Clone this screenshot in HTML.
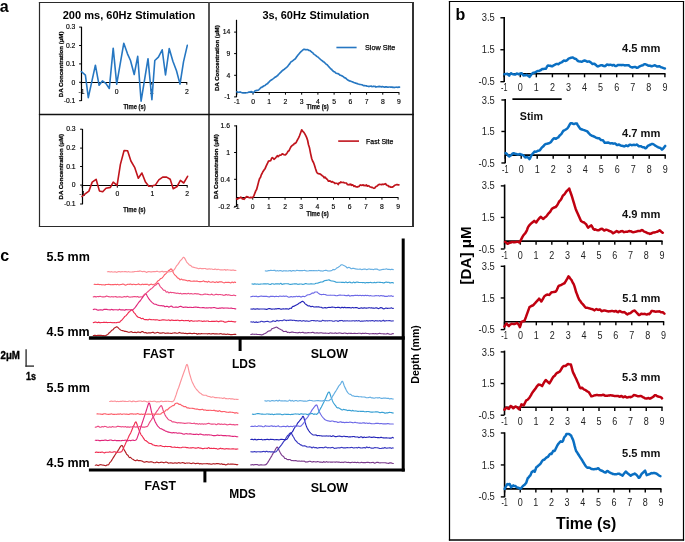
<!DOCTYPE html>
<html><head><meta charset="utf-8"><style>
html,body{margin:0;padding:0;background:#fff;width:685px;height:542px;overflow:hidden}
svg{display:block;will-change:transform}
</style></head><body>
<svg width="685" height="542" viewBox="0 0 685 542" font-family="Liberation Sans, sans-serif">
<rect width="685" height="542" fill="#fff"/>
<text x="-0.2" y="11.8" font-size="16" font-family="Liberation Sans" fill="#000" font-weight="bold">a</text>
<text x="455.6" y="19.7" font-size="16" font-family="Liberation Sans" fill="#000" font-weight="bold">b</text>
<text x="0.3" y="261" font-size="16" font-family="Liberation Sans" fill="#000" font-weight="bold">c</text>
<line x1="38.9" y1="2.5" x2="413.9" y2="2.5" stroke="#2a2a2a" stroke-width="1.2" stroke-linecap="butt"/>
<line x1="39.5" y1="2" x2="39.5" y2="227" stroke="#2a2a2a" stroke-width="1.2" stroke-linecap="butt"/>
<line x1="413" y1="2" x2="413" y2="227" stroke="#333" stroke-width="2" stroke-linecap="butt"/>
<line x1="38.9" y1="226.5" x2="413.9" y2="226.5" stroke="#2a2a2a" stroke-width="1.2" stroke-linecap="butt"/>
<line x1="209" y1="2" x2="209" y2="227" stroke="#444" stroke-width="1.8" stroke-linecap="butt"/>
<line x1="38.9" y1="114.5" x2="413.9" y2="114.5" stroke="#111" stroke-width="1.3" stroke-linecap="butt"/>
<line x1="81.5" y1="26.8" x2="81.5" y2="101" stroke="#000" stroke-width="1.2" stroke-linecap="butt"/>
<line x1="79.1" y1="27.1" x2="81.5" y2="27.1" stroke="#000" stroke-width="1.0" stroke-linecap="butt"/>
<text x="75.4" y="29.3" font-size="6.8" font-family="Liberation Sans" fill="#000" text-anchor="end" stroke="#000" stroke-width="0.15">0.3</text>
<line x1="79.1" y1="45.5" x2="81.5" y2="45.5" stroke="#000" stroke-width="1.0" stroke-linecap="butt"/>
<text x="75.4" y="47.7" font-size="6.8" font-family="Liberation Sans" fill="#000" text-anchor="end" stroke="#000" stroke-width="0.15">0.2</text>
<line x1="79.1" y1="63.9" x2="81.5" y2="63.9" stroke="#000" stroke-width="1.0" stroke-linecap="butt"/>
<text x="75.4" y="66.1" font-size="6.8" font-family="Liberation Sans" fill="#000" text-anchor="end" stroke="#000" stroke-width="0.15">0.1</text>
<line x1="79.1" y1="82.3" x2="81.5" y2="82.3" stroke="#000" stroke-width="1.0" stroke-linecap="butt"/>
<text x="75.4" y="84.5" font-size="6.8" font-family="Liberation Sans" fill="#000" text-anchor="end" stroke="#000" stroke-width="0.15">0</text>
<line x1="79.1" y1="100.7" x2="81.5" y2="100.7" stroke="#000" stroke-width="1.0" stroke-linecap="butt"/>
<text x="75.4" y="102.9" font-size="6.8" font-family="Liberation Sans" fill="#000" text-anchor="end" stroke="#000" stroke-width="0.15">-0.1</text>
<line x1="81.5" y1="82.5" x2="187.2" y2="82.5" stroke="#000" stroke-width="1.2" stroke-linecap="butt"/>
<line x1="81.4" y1="82.5" x2="81.4" y2="84.7" stroke="#000" stroke-width="1.0" stroke-linecap="butt"/>
<text x="81.4" y="93.9" font-size="6.8" font-family="Liberation Sans" fill="#000" text-anchor="middle" stroke="#000" stroke-width="0.15">-1</text>
<line x1="116.6" y1="82.5" x2="116.6" y2="84.7" stroke="#000" stroke-width="1.0" stroke-linecap="butt"/>
<text x="116.6" y="93.9" font-size="6.8" font-family="Liberation Sans" fill="#000" text-anchor="middle" stroke="#000" stroke-width="0.15">0</text>
<line x1="151.7" y1="82.5" x2="151.7" y2="84.7" stroke="#000" stroke-width="1.0" stroke-linecap="butt"/>
<text x="151.7" y="93.9" font-size="6.8" font-family="Liberation Sans" fill="#000" text-anchor="middle" stroke="#000" stroke-width="0.15">1</text>
<line x1="186.8" y1="82.5" x2="186.8" y2="84.7" stroke="#000" stroke-width="1.0" stroke-linecap="butt"/>
<text x="186.8" y="93.9" font-size="6.8" font-family="Liberation Sans" fill="#000" text-anchor="middle" stroke="#000" stroke-width="0.15">2</text>
<text x="134.5" y="108.9" font-size="6.6" font-family="Liberation Sans" fill="#111" font-weight="bold" text-anchor="middle" textLength="22.2" lengthAdjust="spacingAndGlyphs" stroke="#111" stroke-width="0.25">Time (s)</text>
<text x="62.7" y="18.6" font-size="10.5" font-family="Liberation Sans" fill="#000" font-weight="bold" textLength="132.6" lengthAdjust="spacingAndGlyphs">200 ms, 60Hz Stimulation</text>
<text x="61.2" y="66.5" font-size="6.0" font-family="Liberation Sans" fill="#000" font-weight="bold" text-anchor="middle" textLength="65.6" lengthAdjust="spacingAndGlyphs" transform="rotate(-90 61.2 64.4)" stroke="#000" stroke-width="0.25">DA Concentration (μM)</text>
<polyline points="81.3,71.5 85.4,75.2 88.3,97.7 95.4,65.2 99.1,85.3 102.4,80.9 105.8,83.4 109.3,88.5 113.2,48.2 116.7,84.1 123.8,43.2 127.5,53.8 130.5,60.5 134.2,74.5 137.7,56.3 141.1,101.1 148,58.7 151.9,99.6 154.8,60.5 158.4,57.2 162.2,49.8 165.5,75 169.2,48.6 172.9,61.2 176.5,70.8 180,84.1 183.5,61.9 187.3,45.4" fill="none" stroke="#2677c2" stroke-width="1.6" stroke-linejoin="round" stroke-linecap="round"/>
<line x1="236.5" y1="19.8" x2="236.5" y2="97.2" stroke="#000" stroke-width="1.2" stroke-linecap="butt"/>
<line x1="234.1" y1="32.1" x2="236.5" y2="32.1" stroke="#000" stroke-width="1.0" stroke-linecap="butt"/>
<text x="230.2" y="34.3" font-size="6.8" font-family="Liberation Sans" fill="#000" text-anchor="end" stroke="#000" stroke-width="0.15">14</text>
<line x1="234.1" y1="53.6" x2="236.5" y2="53.6" stroke="#000" stroke-width="1.0" stroke-linecap="butt"/>
<text x="230.2" y="55.8" font-size="6.8" font-family="Liberation Sans" fill="#000" text-anchor="end" stroke="#000" stroke-width="0.15">9</text>
<line x1="234.1" y1="75.3" x2="236.5" y2="75.3" stroke="#000" stroke-width="1.0" stroke-linecap="butt"/>
<text x="230.2" y="77.5" font-size="6.8" font-family="Liberation Sans" fill="#000" text-anchor="end" stroke="#000" stroke-width="0.15">4</text>
<line x1="234.1" y1="96.9" x2="236.5" y2="96.9" stroke="#000" stroke-width="1.0" stroke-linecap="butt"/>
<text x="230.2" y="99.1" font-size="6.8" font-family="Liberation Sans" fill="#000" text-anchor="end" stroke="#000" stroke-width="0.15">-1</text>
<line x1="236.5" y1="92.5" x2="399.3" y2="92.5" stroke="#000" stroke-width="1.2" stroke-linecap="butt"/>
<line x1="236.8" y1="92.5" x2="236.8" y2="94.7" stroke="#000" stroke-width="1.0" stroke-linecap="butt"/>
<text x="236.8" y="103.5" font-size="6.8" font-family="Liberation Sans" fill="#000" text-anchor="middle" stroke="#000" stroke-width="0.15">-1</text>
<line x1="253.02" y1="92.5" x2="253.02" y2="94.7" stroke="#000" stroke-width="1.0" stroke-linecap="butt"/>
<text x="253.02" y="103.5" font-size="6.8" font-family="Liberation Sans" fill="#000" text-anchor="middle" stroke="#000" stroke-width="0.15">0</text>
<line x1="269.24" y1="92.5" x2="269.24" y2="94.7" stroke="#000" stroke-width="1.0" stroke-linecap="butt"/>
<text x="269.24" y="103.5" font-size="6.8" font-family="Liberation Sans" fill="#000" text-anchor="middle" stroke="#000" stroke-width="0.15">1</text>
<line x1="285.46" y1="92.5" x2="285.46" y2="94.7" stroke="#000" stroke-width="1.0" stroke-linecap="butt"/>
<text x="285.46" y="103.5" font-size="6.8" font-family="Liberation Sans" fill="#000" text-anchor="middle" stroke="#000" stroke-width="0.15">2</text>
<line x1="301.68" y1="92.5" x2="301.68" y2="94.7" stroke="#000" stroke-width="1.0" stroke-linecap="butt"/>
<text x="301.68" y="103.5" font-size="6.8" font-family="Liberation Sans" fill="#000" text-anchor="middle" stroke="#000" stroke-width="0.15">3</text>
<line x1="317.9" y1="92.5" x2="317.9" y2="94.7" stroke="#000" stroke-width="1.0" stroke-linecap="butt"/>
<text x="317.9" y="103.5" font-size="6.8" font-family="Liberation Sans" fill="#000" text-anchor="middle" stroke="#000" stroke-width="0.15">4</text>
<line x1="334.12" y1="92.5" x2="334.12" y2="94.7" stroke="#000" stroke-width="1.0" stroke-linecap="butt"/>
<text x="334.12" y="103.5" font-size="6.8" font-family="Liberation Sans" fill="#000" text-anchor="middle" stroke="#000" stroke-width="0.15">5</text>
<line x1="350.34" y1="92.5" x2="350.34" y2="94.7" stroke="#000" stroke-width="1.0" stroke-linecap="butt"/>
<text x="350.34" y="103.5" font-size="6.8" font-family="Liberation Sans" fill="#000" text-anchor="middle" stroke="#000" stroke-width="0.15">6</text>
<line x1="366.56" y1="92.5" x2="366.56" y2="94.7" stroke="#000" stroke-width="1.0" stroke-linecap="butt"/>
<text x="366.56" y="103.5" font-size="6.8" font-family="Liberation Sans" fill="#000" text-anchor="middle" stroke="#000" stroke-width="0.15">7</text>
<line x1="382.78" y1="92.5" x2="382.78" y2="94.7" stroke="#000" stroke-width="1.0" stroke-linecap="butt"/>
<text x="382.78" y="103.5" font-size="6.8" font-family="Liberation Sans" fill="#000" text-anchor="middle" stroke="#000" stroke-width="0.15">8</text>
<line x1="399" y1="92.5" x2="399" y2="94.7" stroke="#000" stroke-width="1.0" stroke-linecap="butt"/>
<text x="399" y="103.5" font-size="6.8" font-family="Liberation Sans" fill="#000" text-anchor="middle" stroke="#000" stroke-width="0.15">9</text>
<text x="317.7" y="109.2" font-size="6.6" font-family="Liberation Sans" fill="#111" font-weight="bold" text-anchor="middle" textLength="22.2" lengthAdjust="spacingAndGlyphs" stroke="#111" stroke-width="0.25">Time (s)</text>
<text x="262.4" y="19" font-size="10.5" font-family="Liberation Sans" fill="#000" font-weight="bold" textLength="106.8" lengthAdjust="spacingAndGlyphs">3s, 60Hz Stimulation</text>
<text x="216.9" y="60.3" font-size="6.0" font-family="Liberation Sans" fill="#000" font-weight="bold" text-anchor="middle" textLength="65.7" lengthAdjust="spacingAndGlyphs" transform="rotate(-90 216.9 58.2)" stroke="#000" stroke-width="0.25">DA Concentration (μM)</text>
<line x1="336.4" y1="47.5" x2="356.6" y2="47.5" stroke="#2677c2" stroke-width="1.6" stroke-linecap="butt"/>
<text x="365" y="50.3" font-size="7.9" font-family="Liberation Sans" fill="#000" textLength="30.2" lengthAdjust="spacingAndGlyphs" stroke="#000" stroke-width="0.25">Slow Site</text>
<polyline points="236.8,91.82 237.73,92.13 238.65,92.3 239.57,92.15 240.5,92.1 241.32,92.45 242.14,92.69 242.96,92.94 243.78,92.76 244.6,92.91 245.4,93.02 246.2,92.8 247,92.77 247.8,92.5 248.6,92.15 249.4,91.93 250.2,92.17 251,91.56 251.8,91.88 252.6,92.23 253.4,92.81 254.25,91.82 255.1,90.75 256.07,90.59 257.03,90.44 258,90.3 259,89.53 260,88.56 261,87.43 261.8,87.37 262.6,86.61 263.4,86.35 264.2,85.72 265,85.5 265.84,84.64 266.69,84.05 267.53,83.77 268.37,82.52 269.21,81.91 270.06,80.84 270.9,80.26 271.73,79.81 272.56,79.11 273.39,78.6 274.21,77.97 275.04,77.22 275.87,76.87 276.7,76.08 277.54,75.65 278.39,74.47 279.23,73.82 280.07,72.89 280.91,72.2 281.76,71.14 282.6,70.55 283.52,69.68 284.44,69.19 285.36,68.39 286.28,67.62 287.2,66.78 288.07,65.84 288.95,64.62 289.82,63.62 290.7,62.14 291.64,61.58 292.58,60.88 293.52,60.14 294.46,59.43 295.4,58.73 296.34,57.33 297.28,55.99 298.22,54.8 299.16,53.67 300.1,52.53 300.98,51.7 301.85,50.96 302.73,50.17 303.6,49.4 304.48,49.4 305.35,49.57 306.23,49.79 307.1,49.55 308.07,49.8 309.03,50.49 310,50.54 310.9,51.42 311.8,52.17 312.7,52.64 313.6,53.95 314.5,54.62 315.4,55.16 316.3,56.01 317.17,56.62 318.04,57.17 318.91,57.98 319.78,58.76 320.65,59.57 321.52,60.21 322.39,60.81 323.26,61.7 324.13,62.09 325,63.02 325.8,63.87 326.6,64.46 327.4,65.03 328.2,65.96 329,66.94 329.8,67.78 330.6,68.73 331.4,69.15 332.2,70.1 333,71 333.8,71.68 334.6,71.74 335.4,72.62 336.2,73.25 337,73.45 337.8,73.56 338.6,74.04 339.4,74.53 340.2,75.27 341,75.39 341.8,75.72 342.6,76.33 343.48,76.7 344.35,77.6 345.23,77.83 346.1,78.48 346.98,79.27 347.85,79.99 348.73,80.49 349.6,81.05 350.47,81.03 351.34,81.49 352.21,81.81 353.08,82.12 353.95,82.59 354.82,82.75 355.69,83.22 356.56,83.41 357.43,83.65 358.3,84.02 359.1,84.26 359.9,84.53 360.7,84.53 361.5,84.77 362.3,84.8 363.1,85.44 363.9,85.62 364.7,85.57 365.5,85.73 366.3,85.81 367.1,86.23 367.91,86.26 368.72,86.59 369.52,86.33 370.33,86.21 371.14,85.99 371.95,86.6 372.75,86.44 373.56,86.2 374.37,86.5 375.18,86.27 375.98,87.06 376.79,86.74 377.6,86.69 378.41,86.61 379.22,86.36 380.02,86.7 380.83,86.52 381.64,86.88 382.45,86.51 383.25,86.73 384.06,87.09 384.87,87.19 385.68,86.81 386.48,86.79 387.29,87.19 388.1,87.23 388.91,86.97 389.73,87.04 390.54,87.06 391.36,87.01 392.17,87.11 392.99,87.42 393.8,87.35 394.61,87.58 395.43,87.28 396.24,87.29 397.06,87.19 397.87,87.34 398.69,87.18 399.5,87.13" fill="none" stroke="#2677c2" stroke-width="1.65" stroke-linejoin="round" stroke-linecap="round"/>
<line x1="82.5" y1="129" x2="82.5" y2="204.3" stroke="#000" stroke-width="1.2" stroke-linecap="butt"/>
<line x1="80.1" y1="129.2" x2="82.5" y2="129.2" stroke="#000" stroke-width="1.0" stroke-linecap="butt"/>
<text x="75.6" y="131.4" font-size="6.8" font-family="Liberation Sans" fill="#000" text-anchor="end" stroke="#000" stroke-width="0.15">0.3</text>
<line x1="80.1" y1="148.1" x2="82.5" y2="148.1" stroke="#000" stroke-width="1.0" stroke-linecap="butt"/>
<text x="75.6" y="150.3" font-size="6.8" font-family="Liberation Sans" fill="#000" text-anchor="end" stroke="#000" stroke-width="0.15">0.2</text>
<line x1="80.1" y1="166.5" x2="82.5" y2="166.5" stroke="#000" stroke-width="1.0" stroke-linecap="butt"/>
<text x="75.6" y="168.7" font-size="6.8" font-family="Liberation Sans" fill="#000" text-anchor="end" stroke="#000" stroke-width="0.15">0.1</text>
<line x1="80.1" y1="185.1" x2="82.5" y2="185.1" stroke="#000" stroke-width="1.0" stroke-linecap="butt"/>
<text x="75.6" y="187.3" font-size="6.8" font-family="Liberation Sans" fill="#000" text-anchor="end" stroke="#000" stroke-width="0.15">0</text>
<line x1="80.1" y1="204" x2="82.5" y2="204" stroke="#000" stroke-width="1.0" stroke-linecap="butt"/>
<text x="75.6" y="206.2" font-size="6.8" font-family="Liberation Sans" fill="#000" text-anchor="end" stroke="#000" stroke-width="0.15">-0.1</text>
<line x1="82.5" y1="185.5" x2="187.6" y2="185.5" stroke="#000" stroke-width="1.2" stroke-linecap="butt"/>
<line x1="82.2" y1="185.5" x2="82.2" y2="187.7" stroke="#000" stroke-width="1.0" stroke-linecap="butt"/>
<text x="82.2" y="196.4" font-size="6.8" font-family="Liberation Sans" fill="#000" text-anchor="middle" stroke="#000" stroke-width="0.15">-1</text>
<line x1="117.3" y1="185.5" x2="117.3" y2="187.7" stroke="#000" stroke-width="1.0" stroke-linecap="butt"/>
<text x="117.3" y="196.4" font-size="6.8" font-family="Liberation Sans" fill="#000" text-anchor="middle" stroke="#000" stroke-width="0.15">0</text>
<line x1="152.3" y1="185.5" x2="152.3" y2="187.7" stroke="#000" stroke-width="1.0" stroke-linecap="butt"/>
<text x="152.3" y="196.4" font-size="6.8" font-family="Liberation Sans" fill="#000" text-anchor="middle" stroke="#000" stroke-width="0.15">1</text>
<line x1="187.2" y1="185.5" x2="187.2" y2="187.7" stroke="#000" stroke-width="1.0" stroke-linecap="butt"/>
<text x="187.2" y="196.4" font-size="6.8" font-family="Liberation Sans" fill="#000" text-anchor="middle" stroke="#000" stroke-width="0.15">2</text>
<text x="134.4" y="212.2" font-size="6.6" font-family="Liberation Sans" fill="#111" font-weight="bold" text-anchor="middle" textLength="22.2" lengthAdjust="spacingAndGlyphs" stroke="#111" stroke-width="0.25">Time (s)</text>
<text x="60.8" y="168.8" font-size="6.0" font-family="Liberation Sans" fill="#000" font-weight="bold" text-anchor="middle" textLength="65.5" lengthAdjust="spacingAndGlyphs" transform="rotate(-90 60.8 166.7)" stroke="#000" stroke-width="0.25">DA Concentration (μM)</text>
<polyline points="82,196.5 85.5,193.7 88.9,191.1 92.2,182.1 96.1,179.3 99.4,190.9 102.7,191.8 106,188.2 110.4,187.4 113.2,182.1 117.1,185.4 120.4,164.4 124.1,150.5 127.6,150.7 130.9,161 134.8,167.7 138.3,178.2 141.9,173 145.5,182.1 148.8,186.3 151.6,186 155.5,184.9 158.8,179.9 162.7,177.1 166.6,177.1 170.2,179.3 173.2,188.7 177.1,186.5 180.4,180.4 183.7,183 187.6,176.3" fill="none" stroke="#c0141c" stroke-width="1.6" stroke-linejoin="round" stroke-linecap="round"/>
<line x1="236.5" y1="125.3" x2="236.5" y2="206.8" stroke="#000" stroke-width="1.2" stroke-linecap="butt"/>
<line x1="234.1" y1="125.9" x2="236.5" y2="125.9" stroke="#000" stroke-width="1.0" stroke-linecap="butt"/>
<text x="230" y="128.1" font-size="6.8" font-family="Liberation Sans" fill="#000" text-anchor="end" stroke="#000" stroke-width="0.15">1.6</text>
<line x1="234.1" y1="152.5" x2="236.5" y2="152.5" stroke="#000" stroke-width="1.0" stroke-linecap="butt"/>
<text x="230" y="154.7" font-size="6.8" font-family="Liberation Sans" fill="#000" text-anchor="end" stroke="#000" stroke-width="0.15">1</text>
<line x1="234.1" y1="179.3" x2="236.5" y2="179.3" stroke="#000" stroke-width="1.0" stroke-linecap="butt"/>
<text x="230" y="181.5" font-size="6.8" font-family="Liberation Sans" fill="#000" text-anchor="end" stroke="#000" stroke-width="0.15">0.4</text>
<line x1="234.1" y1="206.4" x2="236.5" y2="206.4" stroke="#000" stroke-width="1.0" stroke-linecap="butt"/>
<text x="230" y="208.6" font-size="6.8" font-family="Liberation Sans" fill="#000" text-anchor="end" stroke="#000" stroke-width="0.15">-0.2</text>
<line x1="236.5" y1="197.5" x2="398.4" y2="197.5" stroke="#000" stroke-width="1.2" stroke-linecap="butt"/>
<line x1="236.6" y1="197.5" x2="236.6" y2="199.7" stroke="#000" stroke-width="1.0" stroke-linecap="butt"/>
<text x="236.6" y="208.6" font-size="6.8" font-family="Liberation Sans" fill="#000" text-anchor="middle" stroke="#000" stroke-width="0.15">-1</text>
<line x1="252.75" y1="197.5" x2="252.75" y2="199.7" stroke="#000" stroke-width="1.0" stroke-linecap="butt"/>
<text x="252.75" y="208.6" font-size="6.8" font-family="Liberation Sans" fill="#000" text-anchor="middle" stroke="#000" stroke-width="0.15">0</text>
<line x1="268.9" y1="197.5" x2="268.9" y2="199.7" stroke="#000" stroke-width="1.0" stroke-linecap="butt"/>
<text x="268.9" y="208.6" font-size="6.8" font-family="Liberation Sans" fill="#000" text-anchor="middle" stroke="#000" stroke-width="0.15">1</text>
<line x1="285.05" y1="197.5" x2="285.05" y2="199.7" stroke="#000" stroke-width="1.0" stroke-linecap="butt"/>
<text x="285.05" y="208.6" font-size="6.8" font-family="Liberation Sans" fill="#000" text-anchor="middle" stroke="#000" stroke-width="0.15">2</text>
<line x1="301.2" y1="197.5" x2="301.2" y2="199.7" stroke="#000" stroke-width="1.0" stroke-linecap="butt"/>
<text x="301.2" y="208.6" font-size="6.8" font-family="Liberation Sans" fill="#000" text-anchor="middle" stroke="#000" stroke-width="0.15">3</text>
<line x1="317.35" y1="197.5" x2="317.35" y2="199.7" stroke="#000" stroke-width="1.0" stroke-linecap="butt"/>
<text x="317.35" y="208.6" font-size="6.8" font-family="Liberation Sans" fill="#000" text-anchor="middle" stroke="#000" stroke-width="0.15">4</text>
<line x1="333.5" y1="197.5" x2="333.5" y2="199.7" stroke="#000" stroke-width="1.0" stroke-linecap="butt"/>
<text x="333.5" y="208.6" font-size="6.8" font-family="Liberation Sans" fill="#000" text-anchor="middle" stroke="#000" stroke-width="0.15">5</text>
<line x1="349.65" y1="197.5" x2="349.65" y2="199.7" stroke="#000" stroke-width="1.0" stroke-linecap="butt"/>
<text x="349.65" y="208.6" font-size="6.8" font-family="Liberation Sans" fill="#000" text-anchor="middle" stroke="#000" stroke-width="0.15">6</text>
<line x1="365.8" y1="197.5" x2="365.8" y2="199.7" stroke="#000" stroke-width="1.0" stroke-linecap="butt"/>
<text x="365.8" y="208.6" font-size="6.8" font-family="Liberation Sans" fill="#000" text-anchor="middle" stroke="#000" stroke-width="0.15">7</text>
<line x1="381.95" y1="197.5" x2="381.95" y2="199.7" stroke="#000" stroke-width="1.0" stroke-linecap="butt"/>
<text x="381.95" y="208.6" font-size="6.8" font-family="Liberation Sans" fill="#000" text-anchor="middle" stroke="#000" stroke-width="0.15">8</text>
<line x1="398.1" y1="197.5" x2="398.1" y2="199.7" stroke="#000" stroke-width="1.0" stroke-linecap="butt"/>
<text x="398.1" y="208.6" font-size="6.8" font-family="Liberation Sans" fill="#000" text-anchor="middle" stroke="#000" stroke-width="0.15">9</text>
<text x="317.6" y="216.1" font-size="6.6" font-family="Liberation Sans" fill="#111" font-weight="bold" text-anchor="middle" textLength="22.2" lengthAdjust="spacingAndGlyphs" stroke="#111" stroke-width="0.25">Time (s)</text>
<text x="215.9" y="168.7" font-size="6.0" font-family="Liberation Sans" fill="#000" font-weight="bold" text-anchor="middle" textLength="64.8" lengthAdjust="spacingAndGlyphs" transform="rotate(-90 215.9 166.6)" stroke="#000" stroke-width="0.25">DA Concentration (μM)</text>
<line x1="338.2" y1="141.1" x2="359" y2="141.1" stroke="#c0141c" stroke-width="1.6" stroke-linecap="butt"/>
<text x="366.1" y="143.5" font-size="7.9" font-family="Liberation Sans" fill="#000" textLength="27.3" lengthAdjust="spacingAndGlyphs" stroke="#000" stroke-width="0.25">Fast Site</text>
<polyline points="236.6,198.97 237.44,199.03 238.28,198.44 239.12,197.94 239.96,197.93 240.8,197.22 241.62,197.74 242.45,198.99 243.28,198.93 244.1,199.32 244.93,198.19 245.77,197.34 246.6,196.6 247.43,196.86 248.25,197.14 249.07,197.56 249.9,197.72 250.72,197.4 251.55,197.61 252.38,197.41 253.2,197.04 254.05,195.39 254.9,193.08 255.75,190.93 256.6,189.52 257.6,185.68 258.6,181.84 259.6,178.49 260.43,177.47 261.25,174.94 262.07,173.49 262.9,171.7 264.05,170.02 265.2,168.39 266.02,166.32 266.85,164.58 267.68,162.92 268.5,161.11 269.6,160.96 270.7,160.69 271.5,158.55 272.3,157.58 273.15,158.17 274,159.31 274.83,158.58 275.67,157.82 276.5,156.78 277.32,155.75 278.15,156.59 278.98,155.71 279.8,155.22 280.62,155.27 281.45,154.54 282.28,153.93 283.1,154.17 284.1,154.74 285.1,154.97 286.1,154.27 287.1,152.93 288.1,151.27 289.03,150.67 289.95,148.75 290.88,146.85 291.8,145.85 292.66,145.1 293.52,144.69 294.38,143.33 295.24,143.39 296.1,142.7 296.93,140.98 297.75,139.3 298.57,137.87 299.4,136.03 300.55,132.96 301.7,129.76 302.8,131.35 303.9,132.32 304.83,133.91 305.77,135.66 306.7,137.64 307.6,140.25 308.5,144.71 309.4,147.46 310.55,153.29 311.7,158.54 312.6,160.99 313.5,162.47 314.4,164.95 315.55,168.79 316.7,172.14 317.52,173.38 318.34,173.49 319.16,173.86 319.98,173.89 320.8,174.5 321.64,175.1 322.48,176.02 323.32,176.28 324.16,177.82 325,177.19 325.82,178.06 326.65,178.95 327.48,179.54 328.3,181.07 329.13,181.09 329.97,180.79 330.8,181.5 331.63,182.1 332.47,181.6 333.3,182.36 334.12,182.51 334.93,183.56 335.75,183.24 336.57,183.26 337.38,183.48 338.2,184.49 339.05,182.97 339.9,183.01 340.73,181.92 341.57,182.42 342.4,182.49 343.23,182.43 344.07,182.67 344.9,183.02 345.72,183.01 346.55,183.18 347.38,184.42 348.2,184.86 349.03,184.35 349.87,184.81 350.7,184.08 351.53,185.33 352.37,184.76 353.2,185.15 354.02,186.43 354.84,185.85 355.66,186.7 356.48,186.83 357.3,187.05 358.15,186.63 359,186.45 359.85,185.34 360.7,184.93 361.53,185.36 362.36,185.12 363.19,184.8 364.01,185.68 364.84,185.29 365.67,185.71 366.5,185 367.32,186.23 368.15,185.7 368.98,185.98 369.8,186.78 370.63,187 371.47,187.39 372.3,187.34 373.13,187.91 373.97,188.32 374.8,187.92 375.62,186.87 376.45,186.34 377.28,185.89 378.1,185.06 378.93,184.61 379.77,184.31 380.6,184.51 381.43,184.71 382.27,184.1 383.1,184.61 383.93,184.18 384.77,184.1 385.6,183.72 386.43,185.06 387.27,185.39 388.1,185.66 388.92,186.6 389.74,186.47 390.56,187.16 391.38,187.12 392.2,187.12 393.04,186.79 393.88,186 394.72,185.32 395.56,185 396.4,184.67 397.23,184.67 398.07,184.85 398.9,184.94" fill="none" stroke="#c0141c" stroke-width="1.7" stroke-linejoin="round" stroke-linecap="round"/>
<line x1="448.9" y1="1.5" x2="684.1" y2="1.5" stroke="#000" stroke-width="1.2" stroke-linecap="butt"/>
<line x1="449.5" y1="1" x2="449.5" y2="540.6" stroke="#000" stroke-width="1.25" stroke-linecap="butt"/>
<line x1="683.5" y1="1" x2="683.5" y2="540.6" stroke="#000" stroke-width="1.2" stroke-linecap="butt"/>
<line x1="448.9" y1="540" x2="684.1" y2="540" stroke="#000" stroke-width="1.3" stroke-linecap="butt"/>
<line x1="504.2" y1="17" x2="504.2" y2="82" stroke="#000" stroke-width="1.6" stroke-linecap="butt"/>
<line x1="500.4" y1="17.79" x2="504.2" y2="17.79" stroke="#000" stroke-width="1.4" stroke-linecap="butt"/>
<text x="494.8" y="21.39" font-size="10.0" font-family="Liberation Sans" fill="#222" text-anchor="end" textLength="13" lengthAdjust="spacingAndGlyphs">3.5</text>
<line x1="500.4" y1="49.74" x2="504.2" y2="49.74" stroke="#000" stroke-width="1.4" stroke-linecap="butt"/>
<text x="494.8" y="53.34" font-size="10.0" font-family="Liberation Sans" fill="#222" text-anchor="end" textLength="13" lengthAdjust="spacingAndGlyphs">1.5</text>
<line x1="500.4" y1="81.69" x2="504.2" y2="81.69" stroke="#000" stroke-width="1.4" stroke-linecap="butt"/>
<text x="494.8" y="85.29" font-size="10.0" font-family="Liberation Sans" fill="#222" text-anchor="end" textLength="16.2" lengthAdjust="spacingAndGlyphs">-0.5</text>
<line x1="504.2" y1="73.7" x2="665.5" y2="73.7" stroke="#000" stroke-width="1.6" stroke-linecap="butt"/>
<line x1="504.2" y1="73.7" x2="504.2" y2="77.3" stroke="#000" stroke-width="1.4" stroke-linecap="butt"/>
<text x="504.2" y="91.1" font-size="10.0" font-family="Liberation Sans" fill="#222" text-anchor="middle" textLength="6.4" lengthAdjust="spacingAndGlyphs">-1</text>
<line x1="520.27" y1="73.7" x2="520.27" y2="77.3" stroke="#000" stroke-width="1.4" stroke-linecap="butt"/>
<text x="520.27" y="91.1" font-size="10.0" font-family="Liberation Sans" fill="#222" text-anchor="middle" textLength="5" lengthAdjust="spacingAndGlyphs">0</text>
<line x1="536.34" y1="73.7" x2="536.34" y2="77.3" stroke="#000" stroke-width="1.4" stroke-linecap="butt"/>
<text x="536.34" y="91.1" font-size="10.0" font-family="Liberation Sans" fill="#222" text-anchor="middle" textLength="5" lengthAdjust="spacingAndGlyphs">1</text>
<line x1="552.41" y1="73.7" x2="552.41" y2="77.3" stroke="#000" stroke-width="1.4" stroke-linecap="butt"/>
<text x="552.41" y="91.1" font-size="10.0" font-family="Liberation Sans" fill="#222" text-anchor="middle" textLength="5" lengthAdjust="spacingAndGlyphs">2</text>
<line x1="568.48" y1="73.7" x2="568.48" y2="77.3" stroke="#000" stroke-width="1.4" stroke-linecap="butt"/>
<text x="568.48" y="91.1" font-size="10.0" font-family="Liberation Sans" fill="#222" text-anchor="middle" textLength="5" lengthAdjust="spacingAndGlyphs">3</text>
<line x1="584.55" y1="73.7" x2="584.55" y2="77.3" stroke="#000" stroke-width="1.4" stroke-linecap="butt"/>
<text x="584.55" y="91.1" font-size="10.0" font-family="Liberation Sans" fill="#222" text-anchor="middle" textLength="5" lengthAdjust="spacingAndGlyphs">4</text>
<line x1="600.62" y1="73.7" x2="600.62" y2="77.3" stroke="#000" stroke-width="1.4" stroke-linecap="butt"/>
<text x="600.62" y="91.1" font-size="10.0" font-family="Liberation Sans" fill="#222" text-anchor="middle" textLength="5" lengthAdjust="spacingAndGlyphs">5</text>
<line x1="616.69" y1="73.7" x2="616.69" y2="77.3" stroke="#000" stroke-width="1.4" stroke-linecap="butt"/>
<text x="616.69" y="91.1" font-size="10.0" font-family="Liberation Sans" fill="#222" text-anchor="middle" textLength="5" lengthAdjust="spacingAndGlyphs">6</text>
<line x1="632.76" y1="73.7" x2="632.76" y2="77.3" stroke="#000" stroke-width="1.4" stroke-linecap="butt"/>
<text x="632.76" y="91.1" font-size="10.0" font-family="Liberation Sans" fill="#222" text-anchor="middle" textLength="5" lengthAdjust="spacingAndGlyphs">7</text>
<line x1="648.83" y1="73.7" x2="648.83" y2="77.3" stroke="#000" stroke-width="1.4" stroke-linecap="butt"/>
<text x="648.83" y="91.1" font-size="10.0" font-family="Liberation Sans" fill="#222" text-anchor="middle" textLength="5" lengthAdjust="spacingAndGlyphs">8</text>
<line x1="664.9" y1="73.7" x2="664.9" y2="77.3" stroke="#000" stroke-width="1.4" stroke-linecap="butt"/>
<text x="664.9" y="91.1" font-size="10.0" font-family="Liberation Sans" fill="#222" text-anchor="middle" textLength="5" lengthAdjust="spacingAndGlyphs">9</text>
<polyline points="504.4,74.17 505,74.15 505.6,74.12 506.2,74.1 506.8,73.92 507.4,73.73 508,74.48 508.6,75.02 509.2,75.57 509.83,74.4 510.47,73.81 511.1,73.22 511.83,73.83 512.57,74.09 513.3,74.35 514.02,74.42 514.75,74.56 515.48,74.45 516.2,73.93 516.8,73.57 517.4,73.66 518,73.97 518.6,74.28 519.2,74.28 519.85,73.82 520.5,73.36 521.15,73.25 521.8,73.21 522.4,74.39 523,74.97 523.6,75.56 524.2,75.22 524.8,75.19 525.4,75.16 526,75.13 526.6,74.86 527.33,75.25 528.05,75.71 528.77,76.29 529.5,76.87 530.23,75.95 530.97,75.12 531.7,73.95 532.32,73.48 532.93,73.01 533.55,72.74 534.17,72.62 534.78,72.5 535.4,72.3 536.08,71.87 536.75,71.44 537.42,71.16 538.1,70.89 538.73,71.07 539.35,70.76 539.98,70.45 540.6,70.31 541.22,69.8 541.83,69.3 542.45,68.98 543.07,68.94 543.68,68.9 544.3,68.8 545.02,68.83 545.75,68.86 546.48,67.59 547.2,66.23 547.8,65.57 548.4,65.6 549,65.64 549.6,65.66 550.2,65.64 550.93,66.06 551.67,66.22 552.4,66.25 553,65.74 553.6,65.43 554.2,65.11 554.8,64.79 555.4,64.41 556,64.19 556.6,63.97 557.2,64.03 557.8,64.09 558.4,64.15 559,63.77 559.62,63.31 560.23,62.85 560.85,62.6 561.47,62.35 562.08,62.05 562.7,61.49 563.3,60.98 563.9,60.58 564.5,60.7 565.1,60.81 565.7,60.91 566.43,60.53 567.15,60.15 567.88,59.44 568.6,58.56 569.22,58.34 569.83,58.15 570.45,57.96 571.07,57.77 571.68,57.59 572.3,57.41 572.92,57.44 573.53,57.9 574.15,58.35 574.77,58.72 575.38,58.83 576,58.94 576.73,59.76 577.47,60.5 578.2,61.24 579.1,61.39 580,61.54 580.66,61.6 581.31,61.67 581.97,61.63 582.63,61.3 583.29,60.97 583.94,60.7 584.6,60.49 585.26,60.67 585.91,60.99 586.57,61.36 587.23,61.7 587.89,61.56 588.54,61.42 589.2,61.41 589.86,61.83 590.51,62.26 591.17,62.77 591.83,63.36 592.49,63.94 593.14,63.89 593.8,63.71 594.4,63.7 595,64.24 595.6,64.78 596.2,65.31 596.8,65.85 597.4,66.38 598.03,66.47 598.66,66.17 599.29,65.88 599.92,65.6 600.55,65.38 601.18,65.16 601.82,65.13 602.45,65.45 603.08,65.77 603.71,65.97 604.34,66.06 604.97,66.14 605.6,65.81 606.21,65.22 606.82,64.62 607.42,64.58 608.03,64.77 608.64,64.97 609.25,64.93 609.86,64.82 610.47,64.7 611.08,64.88 611.68,65.15 612.29,65.41 612.9,64.93 613.5,65 614.1,65.07 614.7,65.83 615.31,65.97 615.92,66.11 616.53,65.81 617.13,65.45 617.74,65.08 618.35,65.02 618.96,64.99 619.57,64.96 620.17,65.02 620.78,65.1 621.39,65.17 622,64.97 622.61,64.99 623.22,65.01 623.83,65.15 624.43,65.28 625.04,65.4 625.65,65.37 626.26,65.35 626.87,65.32 627.47,65.25 628.08,65.18 628.69,65.2 629.3,65.79 629.91,66.38 630.52,66.91 631.12,67.12 631.73,67.34 632.34,67.47 632.95,67.28 633.56,67.1 634.17,66.97 634.77,67.02 635.38,67.06 635.99,67.23 636.6,67.66 637.21,67.73 637.82,67.63 638.42,67.21 639.03,66.79 639.64,66.42 640.25,66.12 640.86,65.81 641.47,65.58 642.08,65.45 642.68,65.32 643.29,64.95 643.9,64.34 644.51,64.17 645.12,64.19 645.73,64.39 646.33,64.58 646.94,64.87 647.55,65.24 648.16,65.6 648.77,65.72 649.38,65.66 649.98,65.61 650.59,65.85 651.2,66.26 651.82,66.24 652.43,66.08 653.05,65.88 653.67,65.67 654.28,65.48 654.9,65.3 655.5,65.66 656.1,65.96 656.7,66.25 657.3,66.54 657.9,66.53 658.5,66.46 659.14,66.18 659.78,66.49 660.42,66.86 661.06,67.21 661.7,67.42 662.34,67.63 662.98,67.85 663.62,68.1 664.26,68.35 664.9,68.53" fill="none" stroke="#0a6fc2" stroke-width="2.5" stroke-linejoin="round" stroke-linecap="round"/>
<line x1="505.2" y1="99.1" x2="505.2" y2="163.2" stroke="#000" stroke-width="1.6" stroke-linecap="butt"/>
<line x1="501.4" y1="99.97" x2="505.2" y2="99.97" stroke="#000" stroke-width="1.4" stroke-linecap="butt"/>
<text x="494.8" y="103.57" font-size="10.0" font-family="Liberation Sans" fill="#222" text-anchor="end" textLength="13" lengthAdjust="spacingAndGlyphs">3.5</text>
<line x1="501.4" y1="131.47" x2="505.2" y2="131.47" stroke="#000" stroke-width="1.4" stroke-linecap="butt"/>
<text x="494.8" y="135.07" font-size="10.0" font-family="Liberation Sans" fill="#222" text-anchor="end" textLength="13" lengthAdjust="spacingAndGlyphs">1.5</text>
<line x1="501.4" y1="162.97" x2="505.2" y2="162.97" stroke="#000" stroke-width="1.4" stroke-linecap="butt"/>
<text x="494.8" y="166.57" font-size="10.0" font-family="Liberation Sans" fill="#222" text-anchor="end" textLength="16.2" lengthAdjust="spacingAndGlyphs">-0.5</text>
<line x1="505.2" y1="155.1" x2="665.8" y2="155.1" stroke="#000" stroke-width="1.6" stroke-linecap="butt"/>
<line x1="505.2" y1="155.1" x2="505.2" y2="158.7" stroke="#000" stroke-width="1.4" stroke-linecap="butt"/>
<text x="505.2" y="172.5" font-size="10.0" font-family="Liberation Sans" fill="#222" text-anchor="middle" textLength="6.4" lengthAdjust="spacingAndGlyphs">-1</text>
<line x1="521.2" y1="155.1" x2="521.2" y2="158.7" stroke="#000" stroke-width="1.4" stroke-linecap="butt"/>
<text x="521.2" y="172.5" font-size="10.0" font-family="Liberation Sans" fill="#222" text-anchor="middle" textLength="5" lengthAdjust="spacingAndGlyphs">0</text>
<line x1="537.2" y1="155.1" x2="537.2" y2="158.7" stroke="#000" stroke-width="1.4" stroke-linecap="butt"/>
<text x="537.2" y="172.5" font-size="10.0" font-family="Liberation Sans" fill="#222" text-anchor="middle" textLength="5" lengthAdjust="spacingAndGlyphs">1</text>
<line x1="553.2" y1="155.1" x2="553.2" y2="158.7" stroke="#000" stroke-width="1.4" stroke-linecap="butt"/>
<text x="553.2" y="172.5" font-size="10.0" font-family="Liberation Sans" fill="#222" text-anchor="middle" textLength="5" lengthAdjust="spacingAndGlyphs">2</text>
<line x1="569.2" y1="155.1" x2="569.2" y2="158.7" stroke="#000" stroke-width="1.4" stroke-linecap="butt"/>
<text x="569.2" y="172.5" font-size="10.0" font-family="Liberation Sans" fill="#222" text-anchor="middle" textLength="5" lengthAdjust="spacingAndGlyphs">3</text>
<line x1="585.2" y1="155.1" x2="585.2" y2="158.7" stroke="#000" stroke-width="1.4" stroke-linecap="butt"/>
<text x="585.2" y="172.5" font-size="10.0" font-family="Liberation Sans" fill="#222" text-anchor="middle" textLength="5" lengthAdjust="spacingAndGlyphs">4</text>
<line x1="601.2" y1="155.1" x2="601.2" y2="158.7" stroke="#000" stroke-width="1.4" stroke-linecap="butt"/>
<text x="601.2" y="172.5" font-size="10.0" font-family="Liberation Sans" fill="#222" text-anchor="middle" textLength="5" lengthAdjust="spacingAndGlyphs">5</text>
<line x1="617.2" y1="155.1" x2="617.2" y2="158.7" stroke="#000" stroke-width="1.4" stroke-linecap="butt"/>
<text x="617.2" y="172.5" font-size="10.0" font-family="Liberation Sans" fill="#222" text-anchor="middle" textLength="5" lengthAdjust="spacingAndGlyphs">6</text>
<line x1="633.2" y1="155.1" x2="633.2" y2="158.7" stroke="#000" stroke-width="1.4" stroke-linecap="butt"/>
<text x="633.2" y="172.5" font-size="10.0" font-family="Liberation Sans" fill="#222" text-anchor="middle" textLength="5" lengthAdjust="spacingAndGlyphs">7</text>
<line x1="649.2" y1="155.1" x2="649.2" y2="158.7" stroke="#000" stroke-width="1.4" stroke-linecap="butt"/>
<text x="649.2" y="172.5" font-size="10.0" font-family="Liberation Sans" fill="#222" text-anchor="middle" textLength="5" lengthAdjust="spacingAndGlyphs">8</text>
<line x1="665.2" y1="155.1" x2="665.2" y2="158.7" stroke="#000" stroke-width="1.4" stroke-linecap="butt"/>
<text x="665.2" y="172.5" font-size="10.0" font-family="Liberation Sans" fill="#222" text-anchor="middle" textLength="5" lengthAdjust="spacingAndGlyphs">9</text>
<polyline points="505.6,152.98 506.23,153.51 506.85,154.03 507.48,154.61 508.1,155.57 508.7,156.09 509.3,156.46 509.9,156.02 510.5,155.58 511.1,155.2 511.83,154.44 512.55,153.68 513.27,153.31 514,153.15 514.62,153.63 515.23,153.77 515.85,153.91 516.47,154.06 517.08,154.33 517.7,154.6 518.33,154.6 518.96,154.35 519.59,154.1 520.21,154.05 520.84,154.36 521.47,154.68 522.1,154.74 522.87,155.14 523.63,155.56 524.4,156.62 525.12,157.28 525.85,157.4 526.57,157.18 527.3,157.02 528.03,157.65 528.77,158.28 529.5,159.13 530.23,157.8 530.97,156.37 531.7,154.65 532.3,154.11 532.9,153.47 533.5,152.72 534.1,151.98 534.7,151.53 535.32,151.66 535.93,151.8 536.55,151.6 537.17,151.15 537.78,150.71 538.4,150.67 539.12,150.5 539.85,150.27 540.57,149.26 541.3,148.26 541.9,147.54 542.5,147.07 543.1,146.61 543.7,145.95 544.3,145.09 545.02,144.39 545.75,144.07 546.48,143.87 547.2,143.66 547.82,143.55 548.43,143.43 549.05,143.22 549.67,142.86 550.28,142.5 550.9,141.99 551.5,141.16 552.1,140.32 552.7,139.59 553.3,138.96 553.9,138.33 554.53,138.3 555.16,138.53 555.79,138.76 556.41,138.54 557.04,138.1 557.67,137.66 558.3,137.42 558.9,136.58 559.5,135.74 560.1,135.15 560.7,134.6 561.3,134.05 561.9,133.12 562.5,132.08 563.1,131.03 563.7,130.61 564.3,130.3 564.9,130 565.5,129.68 566.1,129.31 566.7,128.95 567.3,128.37 567.9,127.75 568.58,126.56 569.25,125.39 569.92,124.22 570.6,123.15 571.23,123.23 571.86,123.32 572.49,123.49 573.12,123.78 573.75,124.07 574.38,124 575.01,123.69 575.64,123.38 576.27,123.42 576.9,123.58 577.54,124.91 578.18,125.83 578.82,126.72 579.46,127.62 580.1,128.76 580.75,128.99 581.41,129.22 582.06,129.46 582.72,129.69 583.37,129.9 584.03,130.11 584.68,130.31 585.34,130.56 585.99,130.81 586.65,131.07 587.3,131.4 587.9,132.12 588.5,132.82 589.1,133.5 589.7,134.18 590.3,134.8 590.9,135.16 591.5,135.52 592.1,135.9 592.74,136.07 593.38,136.23 594.02,136.46 594.66,136.84 595.3,137.21 595.94,137.53 596.58,137.8 597.22,138.06 597.86,138.21 598.5,138.31 599.11,138.31 599.73,138.81 600.34,139.39 600.95,139.98 601.56,140.08 602.17,140.13 602.79,140.19 603.4,140.86 604.04,141.86 604.68,142.73 605.32,142.74 605.96,142.74 606.6,142.85 607.22,142.68 607.83,142.52 608.45,142.56 609.06,142.9 609.68,143.25 610.29,143.39 610.91,143.32 611.52,143.24 612.14,143.3 612.75,143.47 613.37,143.63 613.98,143.61 614.6,143.48 615.2,143.56 615.8,143.95 616.4,144.49 617,145.03 617.6,145.03 618.2,144.78 618.8,144.52 619.4,144.69 620,145.08 620.6,145.48 621.2,145.67 621.8,145.76 622.4,145.85 623,146.02 623.6,146.23 624.2,146.44 624.81,146.15 625.41,145.8 626.02,145.44 626.62,145.54 627.23,145.83 627.84,146.12 628.44,145.78 629.05,145.22 629.66,144.66 630.26,144.71 630.87,144.95 631.48,145.19 632.08,145.14 632.69,145.02 633.29,144.9 633.9,144.76 634.52,144.93 635.14,145.09 635.77,144.92 636.39,144.72 637.01,144.53 637.63,145.17 638.26,145.81 638.88,146.35 639.5,146.24 640.12,146.13 640.74,146.13 641.37,146.52 641.99,146.9 642.61,147.17 643.23,147.2 643.86,147.23 644.48,147.53 645.1,148.15 645.74,148.24 646.38,147.76 647.02,146.89 647.66,146.03 648.3,145.6 648.94,145.3 649.58,145 650.22,144.73 650.86,144.46 651.5,144.12 652.11,144.09 652.73,144.06 653.34,144.14 653.95,144.63 654.56,145.11 655.17,145.56 655.79,145.91 656.4,146.26 657.02,146.59 657.64,146.95 658.27,147.3 658.89,147.57 659.51,147.72 660.13,147.87 660.76,148.32 661.38,149 662,149.68 662.64,149.09 663.28,148.38 663.92,147.67 664.56,146.81 665.2,145.93" fill="none" stroke="#0a6fc2" stroke-width="2.5" stroke-linejoin="round" stroke-linecap="round"/>
<line x1="504.6" y1="184.5" x2="504.6" y2="248.7" stroke="#000" stroke-width="1.6" stroke-linecap="butt"/>
<line x1="500.8" y1="185.89" x2="504.6" y2="185.89" stroke="#000" stroke-width="1.4" stroke-linecap="butt"/>
<text x="494.8" y="189.49" font-size="10.0" font-family="Liberation Sans" fill="#222" text-anchor="end" textLength="13" lengthAdjust="spacingAndGlyphs">3.5</text>
<line x1="500.8" y1="217.44" x2="504.6" y2="217.44" stroke="#000" stroke-width="1.4" stroke-linecap="butt"/>
<text x="494.8" y="221.04" font-size="10.0" font-family="Liberation Sans" fill="#222" text-anchor="end" textLength="13" lengthAdjust="spacingAndGlyphs">1.5</text>
<line x1="500.8" y1="248.99" x2="504.6" y2="248.99" stroke="#000" stroke-width="1.4" stroke-linecap="butt"/>
<text x="494.8" y="252.59" font-size="10.0" font-family="Liberation Sans" fill="#222" text-anchor="end" textLength="16.2" lengthAdjust="spacingAndGlyphs">-0.5</text>
<line x1="504.6" y1="241.1" x2="662.6" y2="241.1" stroke="#000" stroke-width="1.6" stroke-linecap="butt"/>
<line x1="504.6" y1="241.1" x2="504.6" y2="244.7" stroke="#000" stroke-width="1.4" stroke-linecap="butt"/>
<text x="504.6" y="258.5" font-size="10.0" font-family="Liberation Sans" fill="#222" text-anchor="middle" textLength="6.4" lengthAdjust="spacingAndGlyphs">-1</text>
<line x1="520.34" y1="241.1" x2="520.34" y2="244.7" stroke="#000" stroke-width="1.4" stroke-linecap="butt"/>
<text x="520.34" y="258.5" font-size="10.0" font-family="Liberation Sans" fill="#222" text-anchor="middle" textLength="5" lengthAdjust="spacingAndGlyphs">0</text>
<line x1="536.08" y1="241.1" x2="536.08" y2="244.7" stroke="#000" stroke-width="1.4" stroke-linecap="butt"/>
<text x="536.08" y="258.5" font-size="10.0" font-family="Liberation Sans" fill="#222" text-anchor="middle" textLength="5" lengthAdjust="spacingAndGlyphs">1</text>
<line x1="551.82" y1="241.1" x2="551.82" y2="244.7" stroke="#000" stroke-width="1.4" stroke-linecap="butt"/>
<text x="551.82" y="258.5" font-size="10.0" font-family="Liberation Sans" fill="#222" text-anchor="middle" textLength="5" lengthAdjust="spacingAndGlyphs">2</text>
<line x1="567.56" y1="241.1" x2="567.56" y2="244.7" stroke="#000" stroke-width="1.4" stroke-linecap="butt"/>
<text x="567.56" y="258.5" font-size="10.0" font-family="Liberation Sans" fill="#222" text-anchor="middle" textLength="5" lengthAdjust="spacingAndGlyphs">3</text>
<line x1="583.3" y1="241.1" x2="583.3" y2="244.7" stroke="#000" stroke-width="1.4" stroke-linecap="butt"/>
<text x="583.3" y="258.5" font-size="10.0" font-family="Liberation Sans" fill="#222" text-anchor="middle" textLength="5" lengthAdjust="spacingAndGlyphs">4</text>
<line x1="599.04" y1="241.1" x2="599.04" y2="244.7" stroke="#000" stroke-width="1.4" stroke-linecap="butt"/>
<text x="599.04" y="258.5" font-size="10.0" font-family="Liberation Sans" fill="#222" text-anchor="middle" textLength="5" lengthAdjust="spacingAndGlyphs">5</text>
<line x1="614.78" y1="241.1" x2="614.78" y2="244.7" stroke="#000" stroke-width="1.4" stroke-linecap="butt"/>
<text x="614.78" y="258.5" font-size="10.0" font-family="Liberation Sans" fill="#222" text-anchor="middle" textLength="5" lengthAdjust="spacingAndGlyphs">6</text>
<line x1="630.52" y1="241.1" x2="630.52" y2="244.7" stroke="#000" stroke-width="1.4" stroke-linecap="butt"/>
<text x="630.52" y="258.5" font-size="10.0" font-family="Liberation Sans" fill="#222" text-anchor="middle" textLength="5" lengthAdjust="spacingAndGlyphs">7</text>
<line x1="646.26" y1="241.1" x2="646.26" y2="244.7" stroke="#000" stroke-width="1.4" stroke-linecap="butt"/>
<text x="646.26" y="258.5" font-size="10.0" font-family="Liberation Sans" fill="#222" text-anchor="middle" textLength="5" lengthAdjust="spacingAndGlyphs">8</text>
<line x1="662" y1="241.1" x2="662" y2="244.7" stroke="#000" stroke-width="1.4" stroke-linecap="butt"/>
<text x="662" y="258.5" font-size="10.0" font-family="Liberation Sans" fill="#222" text-anchor="middle" textLength="5" lengthAdjust="spacingAndGlyphs">9</text>
<polyline points="505.2,241.85 505.85,242.39 506.5,242.92 507.15,243.42 507.8,243.83 508.43,243.38 509.05,243.02 509.68,242.76 510.3,242.5 510.95,242.48 511.6,242.2 512.25,241.93 512.9,242 513.55,242.18 514.2,242.36 514.85,242.21 515.5,242.05 516.15,241.92 516.8,241.85 517.45,241.77 518.1,241.88 518.75,242.21 519.4,242.53 520.04,241.52 520.68,240.33 521.32,239.14 521.96,237.89 522.6,236.64 523.25,235.59 523.9,234.78 524.55,233.96 525.2,233.27 525.85,232.22 526.5,231.17 527.15,229.66 527.8,227.75 528.44,226.48 529.08,225.63 529.72,224.93 530.36,224.23 531,223.6 531.64,223.08 532.28,222.55 532.92,221.98 533.56,221.41 534.2,220.8 534.87,221.44 535.53,222.09 536.2,222.5 536.84,221.5 537.49,220.5 538.13,219.67 538.77,218.88 539.41,218.09 540.06,217.48 540.7,216.87 541.35,217.29 542,217.92 542.65,218.54 543.3,219.01 543.95,218.32 544.6,217.63 545.25,217.11 545.9,216.65 546.55,216.05 547.2,215.2 547.85,214.33 548.5,213.48 549.14,212.83 549.78,212.17 550.42,211.36 551.06,210.25 551.7,209.13 552.35,208.53 553,208.12 553.65,207.71 554.3,207.47 554.95,207.29 555.6,207.11 556.23,206.36 556.87,205.6 557.5,204.8 558.14,203.53 558.78,202.26 559.42,201.2 560.06,200.57 560.7,199.94 561.35,198.94 562,197.48 562.65,196.03 563.3,195.26 563.95,194.7 564.6,194.14 565.26,193.12 565.91,192.1 566.57,191.2 567.23,190.61 567.89,190.02 568.54,189.3 569.2,188.46 569.92,190.7 570.64,192.75 571.36,194.79 572.08,196.96 572.8,199.33 573.48,201.6 574.17,203.92 574.85,206.25 575.53,208.46 576.22,210.17 576.9,211.89 577.57,213.25 578.23,214.78 578.9,216.32 579.57,217.83 580.23,219.34 580.9,220.87 581.54,221.31 582.18,221.75 582.82,222.11 583.46,222.3 584.1,222.49 584.77,223.08 585.43,223.65 586.1,224.22 586.77,225.36 587.43,226.59 588.1,227.7 588.74,227.16 589.38,226.63 590.02,226.15 590.66,225.77 591.3,225.39 591.94,226.28 592.58,227.54 593.22,228.79 593.86,229.4 594.5,229.75 595.11,229.37 595.72,229.55 596.33,229.83 596.93,230.12 597.54,230.2 598.15,230.25 598.76,230.31 599.37,229.89 599.97,229.45 600.58,229 601.19,228.91 601.8,228.83 602.44,228.99 603.08,229.6 603.72,230.21 604.36,230.58 605,230.18 605.64,229.79 606.28,229.67 606.92,229.93 607.56,230.18 608.2,230.43 608.89,230.75 609.57,231.07 610.26,231.3 610.94,231.54 611.63,231.91 612.31,232.58 613,233.24 613.62,233.06 614.23,232.68 614.85,232.29 615.46,231.86 616.08,231.42 616.69,230.98 617.31,231.31 617.92,231.81 618.54,232.3 619.15,232.1 619.77,231.82 620.38,231.54 621,231.27 621.61,231.15 622.21,231.03 622.82,231.42 623.42,231.8 624.03,232.16 624.64,232.01 625.24,231.86 625.85,231.73 626.46,231.72 627.06,231.71 627.67,231.68 628.28,231.44 628.88,231.2 629.49,231.01 630.09,231.15 630.7,231.28 631.32,231.45 631.93,231.77 632.55,232.09 633.16,232.28 633.78,232.14 634.39,232 635.01,231.86 635.62,231.71 636.24,231.57 636.85,231.4 637.47,231.21 638.08,231.02 638.7,231.1 639.34,231.09 639.98,231.08 640.62,230.78 641.26,230.35 641.9,229.91 642.52,230.34 643.13,230.81 643.75,231.27 644.36,231.54 644.98,231.79 645.59,232.04 646.21,232.38 646.82,232.72 647.44,233.05 648.05,233.2 648.67,233.35 649.28,233.53 649.9,233.9 650.55,233.76 651.2,233.55 651.85,233.17 652.5,232.8 653.15,232.6 653.8,232.54 654.45,232.49 655.1,232.33 655.75,232.13 656.4,231.93 657.04,231.7 657.68,231.48 658.32,231.21 658.96,230.77 659.6,230.32 660.24,230.69 660.88,231.34 661.52,232 662.16,232.45 662.8,232.76" fill="none" stroke="#c00010" stroke-width="2.5" stroke-linejoin="round" stroke-linecap="round"/>
<line x1="504.5" y1="265.3" x2="504.5" y2="329.7" stroke="#000" stroke-width="1.6" stroke-linecap="butt"/>
<line x1="500.7" y1="266.31" x2="504.5" y2="266.31" stroke="#000" stroke-width="1.4" stroke-linecap="butt"/>
<text x="494.8" y="269.91" font-size="10.0" font-family="Liberation Sans" fill="#222" text-anchor="end" textLength="13" lengthAdjust="spacingAndGlyphs">3.5</text>
<line x1="500.7" y1="297.96" x2="504.5" y2="297.96" stroke="#000" stroke-width="1.4" stroke-linecap="butt"/>
<text x="494.8" y="301.56" font-size="10.0" font-family="Liberation Sans" fill="#222" text-anchor="end" textLength="13" lengthAdjust="spacingAndGlyphs">1.5</text>
<line x1="500.7" y1="329.61" x2="504.5" y2="329.61" stroke="#000" stroke-width="1.4" stroke-linecap="butt"/>
<text x="494.8" y="333.21" font-size="10.0" font-family="Liberation Sans" fill="#222" text-anchor="end" textLength="16.2" lengthAdjust="spacingAndGlyphs">-0.5</text>
<line x1="504.5" y1="321.7" x2="664.2" y2="321.7" stroke="#000" stroke-width="1.6" stroke-linecap="butt"/>
<line x1="504.5" y1="321.7" x2="504.5" y2="325.3" stroke="#000" stroke-width="1.4" stroke-linecap="butt"/>
<text x="504.5" y="339.1" font-size="10.0" font-family="Liberation Sans" fill="#222" text-anchor="middle" textLength="6.4" lengthAdjust="spacingAndGlyphs">-1</text>
<line x1="520.41" y1="321.7" x2="520.41" y2="325.3" stroke="#000" stroke-width="1.4" stroke-linecap="butt"/>
<text x="520.41" y="339.1" font-size="10.0" font-family="Liberation Sans" fill="#222" text-anchor="middle" textLength="5" lengthAdjust="spacingAndGlyphs">0</text>
<line x1="536.32" y1="321.7" x2="536.32" y2="325.3" stroke="#000" stroke-width="1.4" stroke-linecap="butt"/>
<text x="536.32" y="339.1" font-size="10.0" font-family="Liberation Sans" fill="#222" text-anchor="middle" textLength="5" lengthAdjust="spacingAndGlyphs">1</text>
<line x1="552.23" y1="321.7" x2="552.23" y2="325.3" stroke="#000" stroke-width="1.4" stroke-linecap="butt"/>
<text x="552.23" y="339.1" font-size="10.0" font-family="Liberation Sans" fill="#222" text-anchor="middle" textLength="5" lengthAdjust="spacingAndGlyphs">2</text>
<line x1="568.14" y1="321.7" x2="568.14" y2="325.3" stroke="#000" stroke-width="1.4" stroke-linecap="butt"/>
<text x="568.14" y="339.1" font-size="10.0" font-family="Liberation Sans" fill="#222" text-anchor="middle" textLength="5" lengthAdjust="spacingAndGlyphs">3</text>
<line x1="584.05" y1="321.7" x2="584.05" y2="325.3" stroke="#000" stroke-width="1.4" stroke-linecap="butt"/>
<text x="584.05" y="339.1" font-size="10.0" font-family="Liberation Sans" fill="#222" text-anchor="middle" textLength="5" lengthAdjust="spacingAndGlyphs">4</text>
<line x1="599.96" y1="321.7" x2="599.96" y2="325.3" stroke="#000" stroke-width="1.4" stroke-linecap="butt"/>
<text x="599.96" y="339.1" font-size="10.0" font-family="Liberation Sans" fill="#222" text-anchor="middle" textLength="5" lengthAdjust="spacingAndGlyphs">5</text>
<line x1="615.87" y1="321.7" x2="615.87" y2="325.3" stroke="#000" stroke-width="1.4" stroke-linecap="butt"/>
<text x="615.87" y="339.1" font-size="10.0" font-family="Liberation Sans" fill="#222" text-anchor="middle" textLength="5" lengthAdjust="spacingAndGlyphs">6</text>
<line x1="631.78" y1="321.7" x2="631.78" y2="325.3" stroke="#000" stroke-width="1.4" stroke-linecap="butt"/>
<text x="631.78" y="339.1" font-size="10.0" font-family="Liberation Sans" fill="#222" text-anchor="middle" textLength="5" lengthAdjust="spacingAndGlyphs">7</text>
<line x1="647.69" y1="321.7" x2="647.69" y2="325.3" stroke="#000" stroke-width="1.4" stroke-linecap="butt"/>
<text x="647.69" y="339.1" font-size="10.0" font-family="Liberation Sans" fill="#222" text-anchor="middle" textLength="5" lengthAdjust="spacingAndGlyphs">8</text>
<line x1="663.6" y1="321.7" x2="663.6" y2="325.3" stroke="#000" stroke-width="1.4" stroke-linecap="butt"/>
<text x="663.6" y="339.1" font-size="10.0" font-family="Liberation Sans" fill="#222" text-anchor="middle" textLength="5" lengthAdjust="spacingAndGlyphs">9</text>
<polyline points="504.4,326.4 505.13,325.39 505.87,324.38 506.6,323.5 507.37,324.46 508.13,325.37 508.9,326.07 509.62,325.04 510.35,324.5 511.07,324.13 511.8,323.67 512.55,323.86 513.3,324.06 514.05,324.03 514.8,323.97 515.53,323.59 516.27,323.31 517,323.03 517.73,323.71 518.45,324.38 519.17,325.54 519.9,327.14 520.65,324.96 521.4,321.92 522,321.66 522.6,321.43 523.2,321.24 523.8,321.05 524.4,320.96 525.13,319.08 525.87,317.2 526.6,315.09 527.33,313.08 528.05,311.07 528.77,309.07 529.5,307.07 530.12,306.71 530.73,306.35 531.35,306 531.97,305.74 532.58,305.49 533.2,305.24 533.8,304.57 534.4,303.91 535,303.24 535.6,302.57 536.2,301.9 536.93,301.14 537.65,300.32 538.38,299.5 539.1,298.61 539.83,299.48 540.57,300.39 541.3,301.47 541.9,300.67 542.5,299.71 543.1,298.61 543.7,297.51 544.3,296.38 544.93,295.86 545.56,295.34 546.19,295 546.81,294.78 547.44,294.55 548.07,294.66 548.7,294.88 549.3,294.96 549.9,294.28 550.5,293.45 551.1,292.61 551.7,292.31 552.32,292.22 552.93,292.13 553.55,292.04 554.17,291.94 554.78,291.85 555.4,291.78 556,291.14 556.6,290.49 557.2,289.11 557.8,287.73 558.4,286.35 559,285.71 559.61,285.53 560.22,285.35 560.83,285.06 561.44,284.76 562.06,284.46 562.67,284.12 563.28,283.78 563.89,283.45 564.5,283.24 565.17,282.15 565.83,281.06 566.5,279.97 567.17,278.89 567.83,277.67 568.5,276.38 569.23,276.96 569.95,278.06 570.67,279.15 571.4,279.82 572.17,281.43 572.93,282.96 573.7,284.16 574.5,286.36 575.3,289.17 576.1,292.06 576.74,293.62 577.38,295.31 578.02,297 578.66,298.5 579.3,299.93 579.94,300.58 580.58,301.49 581.22,302.43 581.86,303.34 582.5,303.91 583.14,304.62 583.78,305.36 584.42,306.2 585.06,307.04 585.7,307.78 586.37,307.74 587.03,307.7 587.7,307.87 588.37,308.1 589.03,308.32 589.7,308.44 590.39,308.7 591.07,308.91 591.76,309.05 592.44,309.19 593.13,309.57 593.81,310.01 594.5,310.37 595.12,309.86 595.74,309.35 596.37,309.07 596.99,309.4 597.61,309.74 598.23,309.88 598.86,309.69 599.48,309.5 600.1,309.55 600.71,310.29 601.33,311.02 601.94,311.21 602.55,310.94 603.16,310.68 603.77,310.59 604.39,310.6 605,310.62 605.62,310.67 606.23,310.86 606.85,311.06 607.46,311.19 608.08,311.3 608.69,311.41 609.31,311.35 609.92,311.27 610.54,311.18 611.15,311.11 611.77,311.04 612.38,310.97 613,311.15 613.62,311.32 614.24,311.46 614.87,311.26 615.49,311.06 616.11,310.99 616.73,311.48 617.36,311.98 617.98,312.18 618.6,311.67 619.22,311.15 619.84,311 620.47,311.41 621.09,311.81 621.71,312.05 622.33,312.14 622.96,312.22 623.58,312.18 624.2,312.07 624.84,312.38 625.48,312.92 626.12,313.52 626.76,314.13 627.4,314.38 628.01,313.97 628.62,313.57 629.23,313.43 629.83,313.3 630.44,313.13 631.05,312.58 631.66,312.02 632.27,311.5 632.88,311.2 633.48,310.91 634.09,310.64 634.7,310.55 635.37,311.28 636.03,312.01 636.7,312.73 637.37,313.46 638.03,314.2 638.7,314.96 639.31,315.09 639.92,314.72 640.54,314.27 641.15,313.82 641.76,313.85 642.37,313.94 642.98,314.02 643.59,313.96 644.21,313.91 644.82,313.86 645.43,314.13 646.04,314.4 646.65,314.62 647.26,314.33 647.88,314.04 648.49,313.84 649.1,314.13 649.9,313.55 650.7,312.48 651.5,311.11 652.15,311.02 652.8,311.1 653.45,311.18 654.1,311.3 654.75,311.47 655.4,311.63 656.05,311.66 656.7,311.62 657.35,311.57 658,311.55 658.64,311.36 659.28,311.25 659.92,311.66 660.56,312.07 661.2,312.34 661.84,312.3 662.48,312.27 663.12,312.53 663.76,313.1 664.4,313.67" fill="none" stroke="#c00010" stroke-width="2.5" stroke-linejoin="round" stroke-linecap="round"/>
<line x1="504.5" y1="350.6" x2="504.5" y2="415" stroke="#000" stroke-width="1.6" stroke-linecap="butt"/>
<line x1="500.7" y1="351.91" x2="504.5" y2="351.91" stroke="#000" stroke-width="1.4" stroke-linecap="butt"/>
<text x="494.8" y="355.51" font-size="10.0" font-family="Liberation Sans" fill="#222" text-anchor="end" textLength="13" lengthAdjust="spacingAndGlyphs">3.5</text>
<line x1="500.7" y1="383.56" x2="504.5" y2="383.56" stroke="#000" stroke-width="1.4" stroke-linecap="butt"/>
<text x="494.8" y="387.16" font-size="10.0" font-family="Liberation Sans" fill="#222" text-anchor="end" textLength="13" lengthAdjust="spacingAndGlyphs">1.5</text>
<line x1="500.7" y1="415.21" x2="504.5" y2="415.21" stroke="#000" stroke-width="1.4" stroke-linecap="butt"/>
<text x="494.8" y="418.81" font-size="10.0" font-family="Liberation Sans" fill="#222" text-anchor="end" textLength="16.2" lengthAdjust="spacingAndGlyphs">-0.5</text>
<line x1="504.5" y1="407.3" x2="662.6" y2="407.3" stroke="#000" stroke-width="1.6" stroke-linecap="butt"/>
<line x1="504.5" y1="407.3" x2="504.5" y2="410.9" stroke="#000" stroke-width="1.4" stroke-linecap="butt"/>
<text x="504.5" y="424.7" font-size="10.0" font-family="Liberation Sans" fill="#222" text-anchor="middle" textLength="6.4" lengthAdjust="spacingAndGlyphs">-1</text>
<line x1="520.25" y1="407.3" x2="520.25" y2="410.9" stroke="#000" stroke-width="1.4" stroke-linecap="butt"/>
<text x="520.25" y="424.7" font-size="10.0" font-family="Liberation Sans" fill="#222" text-anchor="middle" textLength="5" lengthAdjust="spacingAndGlyphs">0</text>
<line x1="536" y1="407.3" x2="536" y2="410.9" stroke="#000" stroke-width="1.4" stroke-linecap="butt"/>
<text x="536" y="424.7" font-size="10.0" font-family="Liberation Sans" fill="#222" text-anchor="middle" textLength="5" lengthAdjust="spacingAndGlyphs">1</text>
<line x1="551.75" y1="407.3" x2="551.75" y2="410.9" stroke="#000" stroke-width="1.4" stroke-linecap="butt"/>
<text x="551.75" y="424.7" font-size="10.0" font-family="Liberation Sans" fill="#222" text-anchor="middle" textLength="5" lengthAdjust="spacingAndGlyphs">2</text>
<line x1="567.5" y1="407.3" x2="567.5" y2="410.9" stroke="#000" stroke-width="1.4" stroke-linecap="butt"/>
<text x="567.5" y="424.7" font-size="10.0" font-family="Liberation Sans" fill="#222" text-anchor="middle" textLength="5" lengthAdjust="spacingAndGlyphs">3</text>
<line x1="583.25" y1="407.3" x2="583.25" y2="410.9" stroke="#000" stroke-width="1.4" stroke-linecap="butt"/>
<text x="583.25" y="424.7" font-size="10.0" font-family="Liberation Sans" fill="#222" text-anchor="middle" textLength="5" lengthAdjust="spacingAndGlyphs">4</text>
<line x1="599" y1="407.3" x2="599" y2="410.9" stroke="#000" stroke-width="1.4" stroke-linecap="butt"/>
<text x="599" y="424.7" font-size="10.0" font-family="Liberation Sans" fill="#222" text-anchor="middle" textLength="5" lengthAdjust="spacingAndGlyphs">5</text>
<line x1="614.75" y1="407.3" x2="614.75" y2="410.9" stroke="#000" stroke-width="1.4" stroke-linecap="butt"/>
<text x="614.75" y="424.7" font-size="10.0" font-family="Liberation Sans" fill="#222" text-anchor="middle" textLength="5" lengthAdjust="spacingAndGlyphs">6</text>
<line x1="630.5" y1="407.3" x2="630.5" y2="410.9" stroke="#000" stroke-width="1.4" stroke-linecap="butt"/>
<text x="630.5" y="424.7" font-size="10.0" font-family="Liberation Sans" fill="#222" text-anchor="middle" textLength="5" lengthAdjust="spacingAndGlyphs">7</text>
<line x1="646.25" y1="407.3" x2="646.25" y2="410.9" stroke="#000" stroke-width="1.4" stroke-linecap="butt"/>
<text x="646.25" y="424.7" font-size="10.0" font-family="Liberation Sans" fill="#222" text-anchor="middle" textLength="5" lengthAdjust="spacingAndGlyphs">8</text>
<line x1="662" y1="407.3" x2="662" y2="410.9" stroke="#000" stroke-width="1.4" stroke-linecap="butt"/>
<text x="662" y="424.7" font-size="10.0" font-family="Liberation Sans" fill="#222" text-anchor="middle" textLength="5" lengthAdjust="spacingAndGlyphs">9</text>
<polyline points="504.4,409.68 505.13,408.89 505.87,408.11 506.6,407.67 507.37,408.17 508.13,408.63 508.9,408.88 509.75,407.37 510.6,405.99 511.27,406.28 511.95,406.81 512.62,407.55 513.3,408.29 514.03,407.71 514.77,407.01 515.5,406.41 516.12,406.74 516.73,407.06 517.35,407.54 517.97,408.14 518.58,408.74 519.2,409.28 519.93,407.75 520.67,406.2 521.4,404.33 522.13,404.62 522.87,405.01 523.6,405.46 524.2,404.5 524.8,403.25 525.4,402.01 526,400.76 526.6,400.18 527.23,399.87 527.86,399.52 528.49,398.75 529.11,397.99 529.74,397.16 530.37,396.12 531,395.07 531.62,393.87 532.23,392.93 532.85,391.99 533.47,391.13 534.08,390.36 534.7,389.59 535.37,388.8 536.03,387.74 536.7,386.69 537.37,385.92 538.03,385.19 538.7,384.47 539.38,384.63 540.06,384.8 540.74,385.12 541.42,385.6 542.1,386.08 542.72,384.97 543.33,383.76 543.95,382.56 544.57,381.69 545.18,380.84 545.8,380 546.4,380.59 547,381.17 547.6,381.75 548.2,382.32 548.8,382.88 549.4,383.44 550.02,382.4 550.63,381.35 551.25,380.3 551.87,379.21 552.48,378.12 553.1,377.03 553.72,376.54 554.33,376.06 554.95,375.47 555.57,374.57 556.18,373.67 556.8,373.03 557.4,372.77 558,372.52 558.6,372.22 559.2,371.83 559.8,371.44 560.47,370.48 561.15,369.36 561.83,368.24 562.5,366.96 563.12,366.5 563.74,366.05 564.36,365.99 564.98,365.98 565.6,365.97 566.4,365.26 567.2,364.56 568,364.02 568.73,364.21 569.45,364.36 570.17,364.42 570.9,364.48 571.53,366.93 572.17,369.37 572.8,371.81 573.42,373.08 574.05,374.35 574.67,375.64 575.3,377.08 575.9,378.32 576.5,379.58 577.1,380.96 577.7,382.33 578.34,383.67 578.98,385.37 579.62,387.08 580.26,388.15 580.9,388.31 581.5,387.67 582.1,387.66 582.7,388.27 583.3,388.88 583.9,389.34 584.5,389.65 585.1,389.95 585.7,390.19 586.34,390.66 586.98,391.13 587.62,391.53 588.26,391.89 588.9,392.25 589.7,393.59 590.5,394.95 591.3,396.32 591.92,396.22 592.54,396.13 593.17,395.89 593.79,395.63 594.41,395.38 595.03,395.27 595.66,395.16 596.28,395.06 596.9,395.02 597.52,395.09 598.15,395.15 598.77,395.15 599.39,395.16 600.02,395.18 600.64,395.21 601.26,395.24 601.88,395.17 602.51,394.99 603.13,394.8 603.75,394.93 604.38,395.3 605,395.67 605.64,395.8 606.28,395.78 606.92,395.75 607.56,395.68 608.2,395.61 608.84,395.53 609.48,395.42 610.12,395.3 610.76,395.25 611.4,395.39 612,395.44 612.6,395.54 613.2,395.71 613.8,395.88 614.4,396.01 615,396.06 615.6,396.12 616.2,396.12 616.8,396.01 617.4,395.91 618,395.94 618.6,396.27 619.2,396.6 619.8,396.7 620.4,396.33 621,395.95 621.61,395.96 622.21,396.54 622.82,397.12 623.42,397.32 624.03,396.88 624.64,396.43 625.24,396.37 625.85,396.89 626.46,397.42 627.06,397.62 627.67,397.41 628.28,397.2 628.88,397.09 629.49,397.08 630.09,397.07 630.7,397.24 631.34,396.93 631.98,396.62 632.62,396.14 633.26,395.56 633.9,394.98 634.5,395.13 635.1,395.28 635.7,395.43 636.3,395.67 636.9,395.93 637.5,396.18 638.1,396.2 638.7,396.16 639.3,396.13 639.9,396.11 640.5,396.11 641.1,396.1 641.7,396.39 642.3,396.74 642.9,397.09 643.5,397.41 644.14,397.81 644.78,398.22 645.42,398.36 646.06,398.5 646.7,398.58 647.34,398.35 647.98,398.11 648.62,398.07 649.26,398.39 649.9,398.71 650.5,398.39 651.1,398.05 651.7,397.71 652.3,397.35 652.9,396.97 653.5,396.59 654.1,396.03 654.7,395.31 655.31,395.16 655.92,395.32 656.53,395.75 657.13,396.17 657.74,396.44 658.35,396.57 658.96,396.71 659.57,396.85 660.17,397 660.78,397.14 661.39,397.67 662,398.41" fill="none" stroke="#c00010" stroke-width="2.5" stroke-linejoin="round" stroke-linecap="round"/>
<line x1="504.6" y1="432.3" x2="504.6" y2="497.3" stroke="#000" stroke-width="1.6" stroke-linecap="butt"/>
<line x1="500.8" y1="432.99" x2="504.6" y2="432.99" stroke="#000" stroke-width="1.4" stroke-linecap="butt"/>
<text x="494.8" y="436.59" font-size="10.0" font-family="Liberation Sans" fill="#222" text-anchor="end" textLength="13" lengthAdjust="spacingAndGlyphs">3.5</text>
<line x1="500.8" y1="464.94" x2="504.6" y2="464.94" stroke="#000" stroke-width="1.4" stroke-linecap="butt"/>
<text x="494.8" y="468.54" font-size="10.0" font-family="Liberation Sans" fill="#222" text-anchor="end" textLength="13" lengthAdjust="spacingAndGlyphs">1.5</text>
<line x1="500.8" y1="496.89" x2="504.6" y2="496.89" stroke="#000" stroke-width="1.4" stroke-linecap="butt"/>
<text x="494.8" y="500.49" font-size="10.0" font-family="Liberation Sans" fill="#222" text-anchor="end" textLength="16.2" lengthAdjust="spacingAndGlyphs">-0.5</text>
<line x1="504.6" y1="488.9" x2="661.5" y2="488.9" stroke="#000" stroke-width="1.6" stroke-linecap="butt"/>
<line x1="504.6" y1="488.9" x2="504.6" y2="492.5" stroke="#000" stroke-width="1.4" stroke-linecap="butt"/>
<text x="504.6" y="506.3" font-size="10.0" font-family="Liberation Sans" fill="#222" text-anchor="middle" textLength="6.4" lengthAdjust="spacingAndGlyphs">-1</text>
<line x1="520.23" y1="488.9" x2="520.23" y2="492.5" stroke="#000" stroke-width="1.4" stroke-linecap="butt"/>
<text x="520.23" y="506.3" font-size="10.0" font-family="Liberation Sans" fill="#222" text-anchor="middle" textLength="5" lengthAdjust="spacingAndGlyphs">0</text>
<line x1="535.86" y1="488.9" x2="535.86" y2="492.5" stroke="#000" stroke-width="1.4" stroke-linecap="butt"/>
<text x="535.86" y="506.3" font-size="10.0" font-family="Liberation Sans" fill="#222" text-anchor="middle" textLength="5" lengthAdjust="spacingAndGlyphs">1</text>
<line x1="551.49" y1="488.9" x2="551.49" y2="492.5" stroke="#000" stroke-width="1.4" stroke-linecap="butt"/>
<text x="551.49" y="506.3" font-size="10.0" font-family="Liberation Sans" fill="#222" text-anchor="middle" textLength="5" lengthAdjust="spacingAndGlyphs">2</text>
<line x1="567.12" y1="488.9" x2="567.12" y2="492.5" stroke="#000" stroke-width="1.4" stroke-linecap="butt"/>
<text x="567.12" y="506.3" font-size="10.0" font-family="Liberation Sans" fill="#222" text-anchor="middle" textLength="5" lengthAdjust="spacingAndGlyphs">3</text>
<line x1="582.75" y1="488.9" x2="582.75" y2="492.5" stroke="#000" stroke-width="1.4" stroke-linecap="butt"/>
<text x="582.75" y="506.3" font-size="10.0" font-family="Liberation Sans" fill="#222" text-anchor="middle" textLength="5" lengthAdjust="spacingAndGlyphs">4</text>
<line x1="598.38" y1="488.9" x2="598.38" y2="492.5" stroke="#000" stroke-width="1.4" stroke-linecap="butt"/>
<text x="598.38" y="506.3" font-size="10.0" font-family="Liberation Sans" fill="#222" text-anchor="middle" textLength="5" lengthAdjust="spacingAndGlyphs">5</text>
<line x1="614.01" y1="488.9" x2="614.01" y2="492.5" stroke="#000" stroke-width="1.4" stroke-linecap="butt"/>
<text x="614.01" y="506.3" font-size="10.0" font-family="Liberation Sans" fill="#222" text-anchor="middle" textLength="5" lengthAdjust="spacingAndGlyphs">6</text>
<line x1="629.64" y1="488.9" x2="629.64" y2="492.5" stroke="#000" stroke-width="1.4" stroke-linecap="butt"/>
<text x="629.64" y="506.3" font-size="10.0" font-family="Liberation Sans" fill="#222" text-anchor="middle" textLength="5" lengthAdjust="spacingAndGlyphs">7</text>
<line x1="645.27" y1="488.9" x2="645.27" y2="492.5" stroke="#000" stroke-width="1.4" stroke-linecap="butt"/>
<text x="645.27" y="506.3" font-size="10.0" font-family="Liberation Sans" fill="#222" text-anchor="middle" textLength="5" lengthAdjust="spacingAndGlyphs">8</text>
<line x1="660.9" y1="488.9" x2="660.9" y2="492.5" stroke="#000" stroke-width="1.4" stroke-linecap="butt"/>
<text x="660.9" y="506.3" font-size="10.0" font-family="Liberation Sans" fill="#222" text-anchor="middle" textLength="5" lengthAdjust="spacingAndGlyphs">9</text>
<polyline points="504.7,488.87 505.38,487.47 506.05,486.08 506.72,484.86 507.4,483.99 508.13,484.54 508.87,484.36 509.6,483.95 510.35,485.32 511.1,487.42 511.83,486.67 512.57,486.03 513.3,485.4 514.02,485.96 514.75,486.01 515.48,486.07 516.2,486.71 516.82,487.21 517.43,487.62 518.05,487.69 518.67,487.76 519.28,488.05 519.9,488.84 520.5,488.6 521.1,488.2 521.7,487.45 522.3,486.7 522.9,486 523.58,485.54 524.26,485.08 524.94,484.38 525.62,483.54 526.3,482.7 527,480.48 527.7,478.27 528.35,477.71 529,476.89 529.65,476.06 530.3,475.57 531,473.85 531.7,472.13 532.3,471.69 532.9,471.24 533.5,470.8 534.1,471.26 534.7,471.72 535.45,469.79 536.2,467.41 536.93,466.94 537.65,466.28 538.38,465.57 539.1,465.02 539.83,464.33 540.57,463.65 541.3,462.38 542.03,461.15 542.77,460.2 543.5,459.72 544.14,459.8 544.79,459.28 545.43,458.55 546.07,457.82 546.71,457.46 547.36,457.12 548,456.81 548.73,455.72 549.45,454.63 550.17,453.97 550.9,453.52 551.52,453.97 552.13,452.86 552.75,451.75 553.37,450.77 553.98,450.84 554.6,450.91 555.22,449.81 555.83,448.51 556.45,447.21 557.07,445.96 557.68,444.87 558.3,443.78 558.91,443.37 559.52,442.54 560.14,441.71 560.75,441.33 561.36,441.59 561.98,441.85 562.59,441.46 563.2,440.33 563.84,438.22 564.48,436.95 565.12,436.28 565.76,435.6 566.4,434.1 567,434 567.6,433.9 568.2,433.97 568.8,434.07 569.4,434.18 570,434.66 570.6,435.22 571.2,435.77 571.83,437.25 572.45,438.61 573.08,439.96 573.7,442.07 574.5,445.41 575.3,448.38 576.1,451.01 576.77,451.84 577.43,452.91 578.1,453.97 578.77,455.03 579.43,456.1 580.1,457.17 580.77,458.14 581.43,459.18 582.1,460.23 582.77,461.41 583.43,462.58 584.1,463.52 584.9,464.85 585.7,466.18 586.37,466.81 587.03,467.45 587.7,467.85 588.37,467.7 589.03,467.54 589.7,467.81 590.39,468.28 591.07,468.74 591.76,468.92 592.44,469.09 593.13,469.2 593.81,469.17 594.5,469.15 595.12,469.01 595.73,468.99 596.35,468.97 596.97,468.76 597.58,468.48 598.2,468.2 598.92,468.91 599.64,469.63 600.36,470.19 601.08,470.45 601.8,470.71 602.44,471 603.08,471.41 603.72,471.81 604.36,472.15 605,472.48 605.64,472.59 606.28,471.9 606.92,471.2 607.56,470.95 608.2,471.33 608.89,472 609.57,472.43 610.26,472.74 610.94,473.06 611.63,473.4 612.31,473.74 613,474.09 613.64,474.12 614.28,474.16 614.92,474.21 615.56,474.26 616.2,474.32 616.84,474.12 617.48,473.88 618.12,473.65 618.76,473.74 619.4,473.83 620.04,474.34 620.68,474.65 621.32,474.95 621.96,475.28 622.6,475.64 623.24,474.62 623.88,473.75 624.52,472.99 625.16,472.23 625.8,471.48 626.41,472.14 627.02,472.81 627.64,473.34 628.25,473.84 628.86,474.35 629.48,474.82 630.09,475.29 630.7,475.76 631.37,475.26 632.03,474.76 632.7,474.35 633.37,474.17 634.03,473.99 634.7,473.52 635.37,474 636.03,474.49 636.7,475.18 637.37,475.89 638.03,476.68 638.7,477.79 639.34,477.52 639.98,476.84 640.62,475.64 641.26,474.44 641.9,473.62 642.54,473.05 643.18,472.47 643.82,471.87 644.46,471.26 645.1,470.65 645.9,472.87 646.7,475.09 647.39,474.69 648.07,474.56 648.76,474.41 649.44,474.08 650.13,473.76 650.81,473.43 651.5,473.09 652.11,473.28 652.73,473.22 653.34,473.05 653.95,472.89 654.56,473 655.17,473.2 655.79,473.41 656.4,473.55 657.07,474.04 657.73,474.53 658.4,475.02 659.07,475.5 659.73,475.89 660.4,476.11" fill="none" stroke="#0a6fc2" stroke-width="2.5" stroke-linejoin="round" stroke-linecap="round"/>
<text x="622" y="51.6" font-size="11" font-family="Liberation Sans" fill="#111" font-weight="bold" textLength="38.4" lengthAdjust="spacingAndGlyphs">4.5 mm</text>
<text x="622" y="136.5" font-size="11" font-family="Liberation Sans" fill="#111" font-weight="bold" textLength="38.4" lengthAdjust="spacingAndGlyphs">4.7 mm</text>
<text x="622" y="217.7" font-size="11" font-family="Liberation Sans" fill="#111" font-weight="bold" textLength="38.4" lengthAdjust="spacingAndGlyphs">4.9 mm</text>
<text x="622.3" y="301.8" font-size="11" font-family="Liberation Sans" fill="#111" font-weight="bold" textLength="38.1" lengthAdjust="spacingAndGlyphs">5.1 mm</text>
<text x="622" y="381.1" font-size="11" font-family="Liberation Sans" fill="#111" font-weight="bold" textLength="38.4" lengthAdjust="spacingAndGlyphs">5.3 mm</text>
<text x="622" y="457.1" font-size="11" font-family="Liberation Sans" fill="#111" font-weight="bold" textLength="38.4" lengthAdjust="spacingAndGlyphs">5.5 mm</text>
<line x1="512.4" y1="99.1" x2="561.7" y2="99.1" stroke="#000" stroke-width="1.9" stroke-linecap="butt"/>
<text x="519.8" y="119.7" font-size="11" font-family="Liberation Sans" fill="#111" font-weight="bold" textLength="23.2" lengthAdjust="spacingAndGlyphs">Stim</text>
<text x="465.6" y="260.75" font-size="15" font-family="Liberation Sans" fill="#000" font-weight="bold" text-anchor="middle" textLength="58" lengthAdjust="spacingAndGlyphs" transform="rotate(-90 465.6 255.5)">[DA] μM</text>
<text x="556" y="528.9" font-size="16" font-family="Liberation Sans" fill="#000" font-weight="bold" textLength="60.4" lengthAdjust="spacingAndGlyphs">Time (s)</text>
<polyline points="93.3,335.5 93.8,335.47 94.3,335.35 94.8,335.23 95.3,335.41 95.8,335.59 96.3,335.66 96.8,335.55 97.3,335.44 97.8,335.42 98.3,335.42 98.8,335.43 99.3,335.43 99.8,335.44 100.3,335.42 100.8,335.38 101.3,335.35 101.8,335.48 102.3,335.62 102.8,335.69 103.3,335.64 103.8,335.6 104.3,335.69 104.8,335.81 105.3,335.85 105.8,335.55 106.3,335.15 106.8,334.9 107.3,334.72 107.8,334.51 108.3,333.89 108.8,333.27 109.3,332.75 109.8,332.39 110.3,332.02 110.8,331.45 111.3,330.83 111.8,330.28 112.3,330.07 112.8,329.85 113.3,329.37 113.8,328.72 114.3,328.06 114.8,327.8 115.3,327.53 115.8,327.23 116.3,326.92 116.8,326.8 117.3,326.94 117.8,327.34 118.3,327.85 118.8,328.4 119.3,328.9 119.8,329.32 120.3,329.69 120.8,330.01 121.3,330.27 121.8,330.49 122.3,330.64 122.8,330.68 123.3,330.71 123.8,330.92 124.3,331.16 124.8,331.35 125.3,331.39 125.8,331.42 126.3,331.52 126.8,331.67 127.3,331.81 127.8,332.01 128.3,332.2 128.8,332.28 129.3,332.21 129.8,332.14 130.3,331.97 130.8,331.78 131.3,331.68 131.8,331.98 132.3,332.27 132.8,332.42 133.3,332.47 133.8,332.51 134.3,332.44 134.8,332.37 135.3,332.39 135.8,332.58 136.3,332.76 136.8,332.55 137.3,332.24 137.8,332.01 138.3,332.09 138.8,332.16 139.3,332.29 139.8,332.45 140.3,332.6 140.8,332.24 141.3,331.88 141.8,331.65 142.3,331.63 142.8,331.61 143.3,331.94 143.8,332.37 144.3,332.69 144.8,332.57 145.3,332.45 145.8,332.57 146.3,332.85 146.8,333.13 147.3,333.06 147.8,332.99 148.3,332.94 148.8,332.92 149.3,332.9 149.8,332.91 150.3,332.92 150.8,332.9 151.3,332.72 151.8,332.53 152.3,332.44 152.8,332.4 153.3,332.36 153.8,332.66 154.3,332.95 154.8,333.1 155.3,333.02 155.8,332.94 156.3,332.75 156.8,332.54 157.3,332.39 157.8,332.48 158.3,332.58 158.8,332.73 159.3,332.92 159.8,333.11 160.3,333.14 160.8,333.18 161.3,333.15 161.8,333.03 162.3,332.91 162.8,332.84 163.3,332.79 163.8,332.8 164.3,333.02 164.8,333.23 165.3,333.31 165.8,333.28 166.3,333.26 166.8,333.16 167.3,333.07 167.8,333.04 168.3,333.11 168.8,333.18 169.3,333.2 169.8,333.2 170.3,333.23 170.8,333.35 171.3,333.47 171.8,333.4 172.3,333.21 172.8,333.02 173.3,332.99 173.8,332.96 174.3,332.94 174.8,332.93 175.3,332.92 175.8,333.01 176.3,333.12 176.8,333.21 177.3,333.22 177.8,333.22 178.3,333.04 178.8,332.73 179.3,332.43 179.8,332.65 180.3,332.87 180.8,333.04 181.3,333.13 181.8,333.22 182.3,333.19 182.8,333.13 183.3,333.12 183.8,333.28 184.3,333.44 184.8,333.45 185.3,333.37 185.8,333.29 186.3,333.44 186.8,333.59 187.3,333.64 187.8,333.57 188.3,333.49 188.8,333.42 189.3,333.36 189.8,333.32 190.3,333.38 190.8,333.44 191.3,333.51 191.8,333.58 192.3,333.66 192.8,333.55 193.3,333.44 193.8,333.38 194.3,333.41 194.8,333.44 195.3,333.49 195.8,333.54 196.3,333.63 196.8,333.88 197.3,334.13 197.8,334.1 198.3,333.87 198.8,333.64 199.3,333.77 199.8,333.91 200.3,333.92 200.8,333.75 201.3,333.58 201.8,333.63 202.3,333.73 202.8,333.8 203.3,333.77 203.8,333.74 204.3,333.73 204.8,333.73 205.3,333.73 205.8,333.75 206.3,333.76 206.8,333.78 207.3,333.81 207.8,333.84 208.3,333.74 208.8,333.6 209.3,333.53 209.8,333.73 210.3,333.94 210.8,333.99 211.3,333.93 211.8,333.87 212.3,333.74 212.8,333.61 213.3,333.6 213.8,333.77 214.3,333.93 214.8,333.9 215.3,333.82 215.8,333.77 216.3,333.83 216.8,333.89 217.3,333.93 217.8,333.97 218.3,334 218.8,333.95 219.3,333.89 219.8,333.82 220.3,333.71 220.8,333.61 221.3,333.77 221.8,334.01 222.3,334.19 222.8,334.15 223.3,334.12 223.8,334.11 224.3,334.11 224.8,334.12 225.3,334.28 225.8,334.44 226.3,334.47 226.8,334.3 227.3,334.14 227.8,334.17 228.3,334.24 228.8,334.33 229.3,334.43 229.8,334.53 230.3,334.58 230.8,334.61 231.3,334.63 231.8,334.6 232.3,334.57 232.8,334.52 233.3,334.46 233.8,334.4 234.3,334.37 234.8,334.34 235.3,334.32 235.8,334.35" fill="none" stroke="#b01c22" stroke-width="1.15" stroke-linejoin="round" stroke-linecap="round"/>
<polyline points="93.3,322.61 93.8,322.51 94.3,322.34 94.8,322.17 95.3,322.16 95.8,322.15 96.3,322.22 96.8,322.44 97.3,322.65 97.8,322.5 98.3,322.26 98.8,322.12 99.3,322.39 99.8,322.66 100.3,322.7 100.8,322.59 101.3,322.48 101.8,322.49 102.3,322.5 102.8,322.47 103.3,322.4 103.8,322.32 104.3,322.36 104.8,322.42 105.3,322.47 105.8,322.44 106.3,322.42 106.8,322.44 107.3,322.5 107.8,322.56 108.3,322.55 108.8,322.54 109.3,322.52 109.8,322.48 110.3,322.44 110.8,322.46 111.3,322.5 111.8,322.56 112.3,322.66 112.8,322.76 113.3,322.75 113.8,322.66 114.3,322.58 114.8,322.66 115.3,322.73 115.8,322.75 116.3,322.69 116.8,322.62 117.3,322.48 117.8,322.31 118.3,322.2 118.8,322.36 119.3,322.39 119.8,322.04 120.3,321.45 120.8,320.83 121.3,320.43 121.8,320.03 122.3,319.56 122.8,318.99 123.3,318.42 123.8,317.75 124.3,317.05 124.8,316.43 125.3,316.11 125.8,315.78 126.3,315.31 126.8,314.74 127.3,314.17 127.8,313.46 128.3,312.75 128.8,312.18 129.3,311.82 129.8,311.46 130.3,310.95 130.8,310.4 131.3,309.93 131.8,309.82 132.3,310.09 132.8,310.7 133.3,311.52 133.8,312.4 134.3,312.94 134.8,313.4 135.3,313.96 135.8,314.73 136.3,315.43 136.8,316.01 137.3,316.53 137.8,316.96 138.3,317.19 138.8,317.39 139.3,317.55 139.8,317.68 140.3,317.79 140.8,318.21 141.3,318.6 141.8,318.76 142.3,318.55 142.8,318.34 143.3,318.68 143.8,319.15 144.3,319.54 144.8,319.59 145.3,319.63 145.8,319.62 146.3,319.57 146.8,319.52 147.3,319.7 147.8,319.88 148.3,319.86 148.8,319.53 149.3,319.2 149.8,319.26 150.3,319.43 150.8,319.58 151.3,319.68 151.8,319.78 152.3,319.79 152.8,319.73 153.3,319.68 153.8,319.72 154.3,319.77 154.8,319.81 155.3,319.84 155.8,319.88 156.3,319.85 156.8,319.8 157.3,319.79 157.8,319.95 158.3,320.11 158.8,320.23 159.3,320.32 159.8,320.42 160.3,320.31 160.8,320.21 161.3,320.09 161.8,319.96 162.3,319.84 162.8,319.82 163.3,319.84 163.8,319.87 164.3,319.92 164.8,319.97 165.3,320.04 165.8,320.11 166.3,320.19 166.8,320.21 167.3,320.23 167.8,320.19 168.3,320.05 168.8,319.91 169.3,320.13 169.8,320.46 170.3,320.64 170.8,320.31 171.3,319.98 171.8,319.95 172.3,320.14 172.8,320.32 173.3,320.38 173.8,320.43 174.3,320.45 174.8,320.42 175.3,320.4 175.8,320.39 176.3,320.4 176.8,320.38 177.3,320.28 177.8,320.19 178.3,320.27 178.8,320.48 179.3,320.69 179.8,320.63 180.3,320.57 180.8,320.48 181.3,320.37 181.8,320.26 182.3,320.35 182.8,320.48 183.3,320.61 183.8,320.68 184.3,320.76 184.8,320.71 185.3,320.58 185.8,320.44 186.3,320.55 186.8,320.66 187.3,320.68 187.8,320.56 188.3,320.43 188.8,320.73 189.3,321.12 189.8,321.36 190.3,320.99 190.8,320.62 191.3,320.61 191.8,320.83 192.3,321.04 192.8,321.12 193.3,321.19 193.8,321.21 194.3,321.12 194.8,321.04 195.3,321.02 195.8,321.02 196.3,321.03 196.8,321.06 197.3,321.09 197.8,321.02 198.3,320.87 198.8,320.71 199.3,320.81 199.8,320.91 200.3,320.97 200.8,320.97 201.3,320.97 201.8,321.15 202.3,321.37 202.8,321.5 203.3,321.28 203.8,321.06 204.3,321.05 204.8,321.17 205.3,321.3 205.8,321.19 206.3,321.08 206.8,321.01 207.3,320.99 207.8,320.96 208.3,321.14 208.8,321.36 209.3,321.53 209.8,321.53 210.3,321.52 210.8,321.47 211.3,321.39 211.8,321.3 212.3,321.31 212.8,321.31 213.3,321.33 213.8,321.36 214.3,321.38 214.8,321.36 215.3,321.31 215.8,321.26 216.3,321.19 216.8,321.12 217.3,321.24 217.8,321.49 218.3,321.74 218.8,321.58 219.3,321.42 219.8,321.28 220.3,321.18 220.8,321.08 221.3,321.09 221.8,321.14 222.3,321.2 222.8,321.31 223.3,321.43 223.8,321.64 224.3,321.9 224.8,322.17 225.3,322.13 225.8,322.1 226.3,322.02 226.8,321.86 227.3,321.7 227.8,321.52 228.3,321.33 228.8,321.2 229.3,321.32 229.8,321.45 230.3,321.46 230.8,321.4 231.3,321.33 231.8,321.42 232.3,321.5 232.8,321.59 233.3,321.68 233.8,321.77 234.3,321.82 234.8,321.87 235.3,321.88 235.8,321.75" fill="none" stroke="#f02c50" stroke-width="1.15" stroke-linejoin="round" stroke-linecap="round"/>
<polyline points="93.3,309.54 93.8,309.39 94.3,309.27 94.8,309.14 95.3,309.2 95.8,309.27 96.3,309.42 96.8,309.7 97.3,309.98 97.8,310.07 98.3,310.11 98.8,310.11 99.3,310.02 99.8,309.92 100.3,309.88 100.8,309.89 101.3,309.9 101.8,309.98 102.3,310.06 102.8,310 103.3,309.72 103.8,309.43 104.3,309.4 104.8,309.42 105.3,309.43 105.8,309.35 106.3,309.27 106.8,309.35 107.3,309.54 107.8,309.72 108.3,309.72 108.8,309.73 109.3,309.76 109.8,309.84 110.3,309.91 110.8,309.76 111.3,309.54 111.8,309.41 112.3,309.61 112.8,309.82 113.3,309.87 113.8,309.82 114.3,309.78 114.8,309.76 115.3,309.74 115.8,309.74 116.3,309.77 116.8,309.8 117.3,309.87 117.8,309.95 118.3,309.96 118.8,309.66 119.3,309.37 119.8,309.4 120.3,309.65 120.8,309.9 121.3,309.86 121.8,309.81 122.3,309.8 122.8,309.84 123.3,309.88 123.8,310 124.3,310.14 124.8,310.19 125.3,309.89 125.8,309.58 126.3,309.54 126.8,309.68 127.3,309.81 127.8,309.78 128.3,309.74 128.8,309.73 129.3,309.76 129.8,309.78 130.3,309.85 130.8,309.92 131.3,309.97 131.8,309.95 132.3,309.9 132.8,309.74 133.3,309.39 133.8,308.86 134.3,308.35 134.8,307.79 135.3,307.18 135.8,306.53 136.3,305.87 136.8,305.19 137.3,304.5 137.8,303.79 138.3,303.05 138.8,302.31 139.3,301.71 139.8,301.22 140.3,300.72 140.8,299.97 141.3,299.21 141.8,298.48 142.3,297.79 142.8,297.1 143.3,296.43 143.8,295.76 144.3,295.09 144.8,294.46 145.3,293.92 145.8,293.83 146.3,294.33 146.8,295.32 147.3,296.17 147.8,297.04 148.3,297.86 148.8,298.62 149.3,299.3 149.8,299.96 150.3,300.55 150.8,301.11 151.3,301.67 151.8,302.18 152.3,302.61 152.8,302.99 153.3,303.34 153.8,303.71 154.3,304.05 154.8,304.24 155.3,304.23 155.8,304.2 156.3,304.44 156.8,304.73 157.3,304.97 157.8,305.1 158.3,305.21 158.8,305.37 159.3,305.57 159.8,305.75 160.3,305.7 160.8,305.63 161.3,305.64 161.8,305.77 162.3,305.9 162.8,305.86 163.3,305.79 163.8,305.82 164.3,306.27 164.8,306.71 165.3,306.76 165.8,306.54 166.3,306.32 166.8,306.36 167.3,306.4 167.8,306.55 168.3,306.86 168.8,307.17 169.3,306.97 169.8,306.65 170.3,306.36 170.8,306.23 171.3,306.09 171.8,306.3 172.3,306.75 172.8,307.19 173.3,307.21 173.8,307.23 174.3,307.23 174.8,307.2 175.3,307.17 175.8,307.15 176.3,307.12 176.8,307.12 177.3,307.22 177.8,307.32 178.3,307.18 178.8,306.89 179.3,306.6 179.8,306.49 180.3,306.38 180.8,306.4 181.3,306.61 181.8,306.81 182.3,307.03 182.8,307.24 183.3,307.4 183.8,307.31 184.3,307.23 184.8,307.16 185.3,307.11 185.8,307.05 186.3,307.14 186.8,307.23 187.3,307.31 187.8,307.4 188.3,307.49 188.8,307.43 189.3,307.34 189.8,307.28 190.3,307.29 190.8,307.31 191.3,307.37 191.8,307.46 192.3,307.54 192.8,307.47 193.3,307.39 193.8,307.32 194.3,307.25 194.8,307.19 195.3,307.16 195.8,307.15 196.3,307.16 196.8,307.25 197.3,307.34 197.8,307.39 198.3,307.41 198.8,307.43 199.3,307.57 199.8,307.71 200.3,307.79 200.8,307.77 201.3,307.76 201.8,307.71 202.3,307.65 202.8,307.6 203.3,307.62 203.8,307.64 204.3,307.73 204.8,307.88 205.3,308.02 205.8,307.95 206.3,307.88 206.8,307.87 207.3,307.94 207.8,308.02 208.3,307.92 208.8,307.78 209.3,307.7 209.8,307.81 210.3,307.93 210.8,307.94 211.3,307.89 211.8,307.83 212.3,307.77 212.8,307.7 213.3,307.62 213.8,307.54 214.3,307.46 214.8,307.62 215.3,307.84 215.8,308.04 216.3,308.14 216.8,308.24 217.3,308.29 217.8,308.32 218.3,308.35 218.8,308.26 219.3,308.17 219.8,308.12 220.3,308.11 220.8,308.09 221.3,308 221.8,307.88 222.3,307.82 222.8,307.98 223.3,308.13 223.8,308.15 224.3,308.07 224.8,307.99 225.3,308.02 225.8,308.05 226.3,308.05 226.8,308.02 227.3,307.99 227.8,308.06 228.3,308.14 228.8,308.21 229.3,308.24 229.8,308.26 230.3,308.2 230.8,308.1 231.3,308 231.8,308.2 232.3,308.4 232.8,308.51 233.3,308.5 233.8,308.48 234.3,308.59 234.8,308.72 235.3,308.83 235.8,308.82" fill="none" stroke="#e0267a" stroke-width="1.15" stroke-linejoin="round" stroke-linecap="round"/>
<polyline points="93.3,296.84 93.8,296.77 94.3,296.6 94.8,296.43 95.3,296.64 95.8,296.85 96.3,296.9 96.8,296.7 97.3,296.5 97.8,296.54 98.3,296.64 98.8,296.69 99.3,296.54 99.8,296.38 100.3,296.42 100.8,296.57 101.3,296.73 101.8,296.8 102.3,296.86 102.8,296.91 103.3,296.91 103.8,296.91 104.3,296.85 104.8,296.78 105.3,296.66 105.8,296.38 106.3,296.1 106.8,296.11 107.3,296.3 107.8,296.5 108.3,296.56 108.8,296.63 109.3,296.72 109.8,296.84 110.3,296.95 110.8,296.88 111.3,296.76 111.8,296.68 112.3,296.78 112.8,296.89 113.3,296.9 113.8,296.85 114.3,296.8 114.8,296.71 115.3,296.62 115.8,296.65 116.3,296.87 116.8,297.09 117.3,297.09 117.8,297.02 118.3,296.95 118.8,296.89 119.3,296.82 119.8,296.83 120.3,296.9 120.8,296.98 121.3,297.11 121.8,297.25 122.3,297.26 122.8,297.08 123.3,296.89 123.8,296.76 124.3,296.63 124.8,296.57 125.3,296.77 125.8,296.98 126.3,296.87 126.8,296.56 127.3,296.24 127.8,296.48 128.3,296.72 128.8,296.91 129.3,297.03 129.8,297.14 130.3,297.1 130.8,297.02 131.3,296.96 131.8,296.94 132.3,296.92 132.8,296.84 133.3,296.72 133.8,296.6 134.3,296.59 134.8,296.58 135.3,296.62 135.8,296.75 136.3,296.88 136.8,296.78 137.3,296.62 137.8,296.57 138.3,296.92 138.8,297.26 139.3,297.28 139.8,297.07 140.3,296.85 140.8,296.97 141.3,297.02 141.8,296.89 142.3,296.56 142.8,296.17 143.3,295.66 143.8,295.11 144.3,294.61 144.8,294.31 145.3,294 145.8,293.59 146.3,293.09 146.8,292.6 147.3,292.16 147.8,291.72 148.3,291.27 148.8,290.81 149.3,290.35 149.8,289.9 150.3,289.44 150.8,289.01 151.3,288.69 151.8,288.36 152.3,287.94 152.8,287.46 153.3,286.97 153.8,286.41 154.3,285.84 154.8,285.41 155.3,285.18 155.8,284.96 156.3,284.54 156.8,284.08 157.3,283.63 157.8,283.22 158.3,283.15 158.8,283.75 159.3,284.79 159.8,285.88 160.3,286.52 160.8,287.08 161.3,287.61 161.8,288.17 162.3,288.66 162.8,289.26 163.3,289.86 163.8,290.31 164.3,290.3 164.8,290.26 165.3,290.72 165.8,291.51 166.3,292.28 166.8,292.05 167.3,291.8 167.8,291.86 168.3,292.37 168.8,292.88 169.3,292.72 169.8,292.4 170.3,292.17 170.8,292.37 171.3,292.57 171.8,292.61 172.3,292.55 172.8,292.48 173.3,292.6 173.8,292.72 174.3,292.82 174.8,292.9 175.3,292.98 175.8,293.11 176.3,293.26 176.8,293.35 177.3,293.23 177.8,293.12 178.3,293.2 178.8,293.41 179.3,293.62 179.8,293.48 180.3,293.35 180.8,293.38 181.3,293.67 181.8,293.97 182.3,293.9 182.8,293.74 183.3,293.61 183.8,293.59 184.3,293.57 184.8,293.58 185.3,293.61 185.8,293.63 186.3,293.73 186.8,293.83 187.3,293.79 187.8,293.55 188.3,293.31 188.8,293.49 189.3,293.76 189.8,293.96 190.3,293.8 190.8,293.65 191.3,293.67 191.8,293.81 192.3,293.94 192.8,293.99 193.3,294.03 193.8,293.98 194.3,293.77 194.8,293.56 195.3,293.63 195.8,293.76 196.3,293.87 196.8,293.85 197.3,293.82 197.8,293.85 198.3,293.91 198.8,293.98 199.3,294.19 199.8,294.41 200.3,294.57 200.8,294.65 201.3,294.72 201.8,294.77 202.3,294.8 202.8,294.79 203.3,294.54 203.8,294.3 204.3,294.19 204.8,294.16 205.3,294.14 205.8,294.19 206.3,294.25 206.8,294.3 207.3,294.34 207.8,294.39 208.3,294.5 208.8,294.62 209.3,294.72 209.8,294.72 210.3,294.71 210.8,294.58 211.3,294.36 211.8,294.14 212.3,294.46 212.8,294.78 213.3,294.97 213.8,294.95 214.3,294.93 214.8,294.76 215.3,294.55 215.8,294.39 216.3,294.38 216.8,294.38 217.3,294.45 217.8,294.57 218.3,294.69 218.8,294.58 219.3,294.47 219.8,294.45 220.3,294.55 220.8,294.65 221.3,294.7 221.8,294.73 222.3,294.81 222.8,295.05 223.3,295.29 223.8,295.33 224.3,295.24 224.8,295.15 225.3,294.88 225.8,294.62 226.3,294.57 226.8,294.84 227.3,295.11 227.8,295.05 228.3,294.9 228.8,294.81 229.3,294.98 229.8,295.15 230.3,295.28 230.8,295.4 231.3,295.51 231.8,295.5 232.3,295.49 232.8,295.42 233.3,295.29 233.8,295.16 234.3,295.29 234.8,295.49 235.3,295.63 235.8,295.5" fill="none" stroke="#ec4a84" stroke-width="1.15" stroke-linejoin="round" stroke-linecap="round"/>
<polyline points="94.1,284.28 94.6,284.31 95.1,284.42 95.6,284.53 96.1,284.5 96.6,284.46 97.1,284.43 97.6,284.39 98.1,284.35 98.6,284.43 99.1,284.53 99.6,284.6 100.1,284.55 100.6,284.5 101.1,284.57 101.6,284.73 102.1,284.88 102.6,284.8 103.1,284.72 103.6,284.73 104.1,284.88 104.6,285.02 105.1,284.87 105.6,284.63 106.1,284.45 106.6,284.5 107.1,284.55 107.6,284.52 108.1,284.44 108.6,284.36 109.1,284.44 109.6,284.52 110.1,284.6 110.6,284.65 111.1,284.71 111.6,284.66 112.1,284.58 112.6,284.53 113.1,284.59 113.6,284.65 114.1,284.61 114.6,284.51 115.1,284.41 115.6,284.54 116.1,284.68 116.6,284.68 117.1,284.5 117.6,284.31 118.1,284.48 118.6,284.75 119.1,284.93 119.6,284.78 120.1,284.63 120.6,284.53 121.1,284.45 121.6,284.37 122.1,284.25 122.6,284.12 123.1,284.11 123.6,284.26 124.1,284.41 124.6,284.66 125.1,284.94 125.6,285.12 126.1,284.92 126.6,284.73 127.1,284.55 127.6,284.39 128.1,284.22 128.6,284.28 129.1,284.34 129.6,284.32 130.1,284.17 130.6,284.03 131.1,284.26 131.6,284.58 132.1,284.79 132.6,284.55 133.1,284.3 133.6,284.26 134.1,284.35 134.6,284.45 135.1,284.53 135.6,284.62 136.1,284.64 136.6,284.55 137.1,284.47 137.6,284.27 138.1,284.05 138.6,283.93 139.1,284.23 139.6,284.52 140.1,284.67 140.6,284.71 141.1,284.76 141.6,284.5 142.1,284.24 142.6,284.17 143.1,284.36 143.6,284.56 144.1,284.53 144.6,284.44 145.1,284.37 145.6,284.36 146.1,284.35 146.6,284.31 147.1,284.26 147.6,284.21 148.1,284.61 148.6,285.02 149.1,285.14 149.6,284.85 150.1,284.55 150.6,284.37 151.1,284.22 151.6,284.15 152.1,284.43 152.6,284.7 153.1,284.7 153.6,284.49 154.1,284.26 154.6,284.27 155.1,284.14 155.6,283.78 156.1,283.19 156.6,282.59 157.1,281.95 157.6,281.29 158.1,280.72 158.6,280.47 159.1,280.23 159.6,279.79 160.1,279.23 160.6,278.66 161.1,278.49 161.6,278.32 162.1,277.97 162.6,277.36 163.1,276.74 163.6,276.05 164.1,275.32 164.6,274.67 165.1,274.3 165.6,273.92 166.1,273.46 166.6,272.94 167.1,272.42 167.6,271.77 168.1,271.12 168.6,270.63 169.1,270.37 169.6,270.12 170.1,269.6 170.6,269.11 171.1,268.89 171.6,269.19 172.1,269.92 172.6,270.99 173.1,272.16 173.6,273.25 174.1,273.99 174.6,274.65 175.1,275.21 175.6,275.66 176.1,276.06 176.6,276.69 177.1,277.35 177.6,277.89 178.1,278.11 178.6,278.29 179.1,278.7 179.6,279.27 180.1,279.81 180.6,279.49 181.1,279.15 181.6,279.09 182.1,279.46 182.6,279.81 183.1,279.89 183.6,279.91 184.1,279.93 184.6,280.03 185.1,280.12 185.6,280.25 186.1,280.4 186.6,280.55 187.1,280.69 187.6,280.83 188.1,280.83 188.6,280.65 189.1,280.46 189.6,280.63 190.1,280.89 190.6,281.11 191.1,281.2 191.6,281.28 192.1,281.27 192.6,281.21 193.1,281.15 193.6,281.11 194.1,281.07 194.6,281.08 195.1,281.17 195.6,281.26 196.1,281.18 196.6,281.07 197.1,281.01 197.6,281.23 198.1,281.44 198.6,281.55 199.1,281.61 199.6,281.67 200.1,281.64 200.6,281.61 201.1,281.57 201.6,281.52 202.1,281.47 202.6,281.24 203.1,280.98 203.6,280.84 204.1,281.22 204.6,281.6 205.1,281.71 205.6,281.63 206.1,281.55 206.6,281.8 207.1,282.05 207.6,282.05 208.1,281.68 208.6,281.3 209.1,281.52 209.6,281.88 210.1,282.18 210.6,282.22 211.1,282.27 211.6,282.16 212.1,281.94 212.6,281.72 213.1,281.88 213.6,282.04 214.1,282.21 214.6,282.39 215.1,282.58 215.6,282.35 216.1,282.02 216.6,281.81 217.1,282.1 217.6,282.38 218.1,282.37 218.6,282.15 219.1,281.93 219.6,281.89 220.1,281.86 220.6,281.84 221.1,281.84 221.6,281.84 222.1,282.06 222.6,282.33 223.1,282.58 223.6,282.7 224.1,282.81 224.6,282.73 225.1,282.5 225.6,282.28 226.1,282.36 226.6,282.44 227.1,282.46 227.6,282.36 228.1,282.26 228.6,282.32 229.1,282.41 229.6,282.53 230.1,282.72 230.6,282.91 231.1,282.76 231.6,282.38 232.1,281.99 232.6,282.29 233.1,282.59 233.6,282.63 234.1,282.31 234.6,281.99 235.1,282.16 235.6,282.46" fill="none" stroke="#fc5e6a" stroke-width="1.15" stroke-linejoin="round" stroke-linecap="round"/>
<polyline points="107.4,271.77 107.9,271.73 108.4,271.63 108.9,271.52 109.4,271.72 109.9,271.92 110.4,271.98 110.9,271.83 111.4,271.68 111.9,271.78 112.4,271.94 112.9,272.06 113.4,272.02 113.9,271.98 114.4,271.93 114.9,271.87 115.4,271.8 115.9,272.05 116.4,272.3 116.9,272.32 117.4,272 117.9,271.69 118.4,271.59 118.9,271.56 119.4,271.56 119.9,271.72 120.4,271.88 120.9,271.87 121.4,271.76 121.9,271.64 122.4,271.68 122.9,271.71 123.4,271.72 123.9,271.71 124.4,271.69 124.9,271.66 125.4,271.62 125.9,271.62 126.4,271.81 126.9,272 127.4,271.98 127.9,271.82 128.4,271.66 128.9,271.77 129.4,271.88 129.9,271.96 130.4,271.98 130.9,272 131.4,271.98 131.9,271.95 132.4,271.92 132.9,271.89 133.4,271.85 133.9,271.76 134.4,271.63 134.9,271.5 135.4,271.52 135.9,271.53 136.4,271.52 136.9,271.46 137.4,271.41 137.9,271.4 138.4,271.41 138.9,271.37 139.4,271.14 139.9,270.92 140.4,270.97 140.9,271.21 141.4,271.44 141.9,271.52 142.4,271.59 142.9,271.58 143.4,271.44 143.9,271.29 144.4,271.42 144.9,271.61 145.4,271.82 145.9,272.1 146.4,272.39 146.9,272.32 147.4,272 147.9,271.69 148.4,271.68 148.9,271.67 149.4,271.68 149.9,271.74 150.4,271.81 150.9,271.84 151.4,271.86 151.9,271.86 152.4,271.77 152.9,271.68 153.4,271.64 153.9,271.64 154.4,271.63 154.9,271.6 155.4,271.57 155.9,271.51 156.4,271.39 156.9,271.27 157.4,271.39 157.9,271.56 158.4,271.71 158.9,271.81 159.4,271.91 159.9,271.88 160.4,271.75 160.9,271.62 161.4,271.48 161.9,271.33 162.4,271.35 162.9,271.62 163.4,271.88 163.9,271.82 164.4,271.68 164.9,271.58 165.4,271.62 165.9,271.67 166.4,271.66 166.9,271.63 167.4,271.59 167.9,271.7 168.4,271.81 168.9,271.85 169.4,271.79 169.9,271.73 170.4,271.59 170.9,271.42 171.4,271.33 171.9,271.53 172.4,271.6 172.9,271.28 173.4,270.68 173.9,270 174.4,269.31 174.9,268.61 175.4,267.83 175.9,266.93 176.4,266.03 176.9,265.46 177.4,264.98 177.9,264.43 178.4,263.65 178.9,262.87 179.4,262.08 179.9,261.3 180.4,260.51 180.9,260.13 181.4,259.75 181.9,259.22 182.4,258.45 182.9,257.72 183.4,257.31 183.9,257.32 184.4,257.83 184.9,258.62 185.4,259.54 185.9,260.54 186.4,261.52 186.9,262.41 187.4,262.92 187.9,263.35 188.4,263.84 188.9,264.45 189.4,265 189.9,265.25 190.4,265.4 190.9,265.61 191.4,266.2 191.9,266.75 192.4,267.03 192.9,267.12 193.4,267.18 193.9,267.36 194.4,267.53 194.9,267.66 195.4,267.75 195.9,267.82 196.4,267.96 196.9,268.11 197.4,268.27 197.9,268.49 198.4,268.7 198.9,268.69 199.4,268.52 199.9,268.36 200.4,268.44 200.9,268.51 201.4,268.57 201.9,268.6 202.4,268.64 202.9,268.62 203.4,268.58 203.9,268.54 204.4,268.5 204.9,268.46 205.4,268.57 205.9,268.79 206.4,269 206.9,269.08 207.4,269.16 207.9,269.14 208.4,268.98 208.9,268.82 209.4,268.89 209.9,269.02 210.4,269.1 210.9,269.03 211.4,268.95 211.9,269.04 212.4,269.25 212.9,269.46 213.4,269.45 213.9,269.44 214.4,269.35 214.9,269.16 215.4,268.96 215.9,269.19 216.4,269.53 216.9,269.75 217.4,269.5 217.9,269.24 218.4,269.27 218.9,269.49 219.4,269.71 219.9,269.81 220.4,269.92 220.9,269.94 221.4,269.83 221.9,269.72 222.4,269.82 222.9,269.97 223.4,270.03 223.9,269.76 224.4,269.48 224.9,269.58 225.4,269.95 225.9,270.31 226.4,270.04 226.9,269.76 227.4,269.67 227.9,269.84 228.4,270.01 228.9,270.01 229.4,269.97 229.9,269.97 230.4,270.15 230.9,270.33 231.4,270.32 231.9,270.17 232.4,270.02 232.9,270.06 233.4,270.1 233.9,270.19 234.4,270.37 234.9,270.54 235.4,270.47 235.9,270.33" fill="none" stroke="#fc929a" stroke-width="1.15" stroke-linejoin="round" stroke-linecap="round"/>
<polyline points="250.8,334.51 251.3,334.44 251.8,334.29 252.3,334.14 252.8,334.18 253.3,334.23 253.8,334.26 254.3,334.29 254.8,334.31 255.3,334.27 255.8,334.21 256.3,334.19 256.8,334.32 257.3,334.46 257.8,334.52 258.3,334.53 258.8,334.54 259.3,334.55 259.8,334.56 260.3,334.61 260.8,334.73 261.3,334.84 261.8,334.82 262.3,334.76 262.8,334.64 263.3,334.33 263.8,333.94 264.3,333.69 264.8,333.54 265.3,333.36 265.8,333.09 266.3,332.81 266.8,332.45 267.3,331.96 267.8,331.47 268.3,331.21 268.8,331 269.3,330.84 269.8,330.81 270.3,330.79 270.8,330.32 271.3,329.55 271.8,328.78 272.3,328.63 272.8,328.49 273.3,328.31 273.8,328.09 274.3,327.87 274.8,327.67 275.3,327.48 275.8,327.31 276.3,327.18 276.8,327.24 277.3,327.46 277.8,327.81 278.3,328.22 278.8,328.48 279.3,328.7 279.8,328.96 280.3,329.31 280.8,329.61 281.3,329.86 281.8,330.07 282.3,330.33 282.8,330.87 283.3,331.38 283.8,331.57 284.3,331.54 284.8,331.49 285.3,331.41 285.8,331.3 286.3,331.43 286.8,331.9 287.3,332.37 287.8,332.39 288.3,332.29 288.8,332.25 289.3,332.42 289.8,332.58 290.3,332.54 290.8,332.36 291.3,332.17 291.8,332.11 292.3,332.05 292.8,332.09 293.3,332.31 293.8,332.52 294.3,332.53 294.8,332.48 295.3,332.47 295.8,332.56 296.3,332.66 296.8,332.73 297.3,332.8 297.8,332.86 298.3,332.65 298.8,332.45 299.3,332.39 299.8,332.55 300.3,332.71 300.8,332.66 301.3,332.56 301.8,332.46 302.3,332.35 302.8,332.25 303.3,332.38 303.8,332.66 304.3,332.95 304.8,332.93 305.3,332.91 305.8,332.91 306.3,332.94 306.8,332.96 307.3,332.83 307.8,332.66 308.3,332.55 308.8,332.65 309.3,332.76 309.8,332.8 310.3,332.78 310.8,332.77 311.3,332.62 311.8,332.46 312.3,332.38 312.8,332.39 313.3,332.41 313.8,332.62 314.3,332.88 314.8,333.08 315.3,333.03 315.8,332.98 316.3,332.93 316.8,332.88 317.3,332.84 317.8,332.93 318.3,333.03 318.8,333.06 319.3,332.98 319.8,332.9 320.3,332.84 320.8,332.78 321.3,332.75 321.8,332.86 322.3,332.96 322.8,333.07 323.3,333.18 323.8,333.28 324.3,333.21 324.8,333.13 325.3,333.11 325.8,333.17 326.3,333.24 326.8,333.26 327.3,333.25 327.8,333.27 328.3,333.36 328.8,333.45 329.3,333.34 329.8,333.08 330.3,332.83 330.8,332.95 331.3,333.06 331.8,333.15 332.3,333.19 332.8,333.22 333.3,333.25 333.8,333.28 334.3,333.27 334.8,333.09 335.3,332.91 335.8,332.97 336.3,333.18 336.8,333.39 337.3,333.29 337.8,333.19 338.3,333.09 338.8,333.01 339.3,332.92 339.8,332.95 340.3,333 340.8,333.08 341.3,333.24 341.8,333.41 342.3,333.45 342.8,333.42 343.3,333.38 343.8,333.22 344.3,333.05 344.8,333 345.3,333.1 345.8,333.2 346.3,333.37 346.8,333.56 347.3,333.67 347.8,333.5 348.3,333.33 348.8,333.27 349.3,333.29 349.8,333.31 350.3,333.32 350.8,333.34 351.3,333.36 351.8,333.41 352.3,333.46 352.8,333.46 353.3,333.45 353.8,333.44 354.3,333.44 354.8,333.44 355.3,333.44 355.8,333.45 356.3,333.46 356.8,333.45 357.3,333.45 357.8,333.41 358.3,333.31 358.8,333.21 359.3,333.21 359.8,333.24 360.3,333.29 360.8,333.45 361.3,333.61 361.8,333.57 362.3,333.4 362.8,333.24 363.3,333.37 363.8,333.5 364.3,333.51 364.8,333.35 365.3,333.18 365.8,333.25 366.3,333.38 366.8,333.48 367.3,333.47 367.8,333.46 368.3,333.56 368.8,333.72 369.3,333.89 369.8,333.81 370.3,333.74 370.8,333.7 371.3,333.73 371.8,333.75 372.3,333.68 372.8,333.58 373.3,333.53 373.8,333.67 374.3,333.81 374.8,333.79 375.3,333.66 375.8,333.53 376.3,333.71 376.8,333.88 377.3,333.92 377.8,333.76 378.3,333.59 378.8,333.5 379.3,333.43 379.8,333.39 380.3,333.54 380.8,333.69 381.3,333.76 381.8,333.76 382.3,333.77 382.8,333.79 383.3,333.82 383.8,333.85 384.3,333.89 384.8,333.94 385.3,333.95 385.8,333.95 386.3,333.9 386.8,333.66 387.3,333.41 387.8,333.48 388.3,333.75 388.8,334.02 389.3,334.14 389.8,334.25 390.3,334.29 390.8,334.22 391.3,334.16 391.8,333.97 392.3,333.76 392.8,333.59 393.3,333.63" fill="none" stroke="#7a3a8c" stroke-width="1.15" stroke-linejoin="round" stroke-linecap="round"/>
<polyline points="250.8,321.83 251.3,321.92 251.8,322.07 252.3,322.21 252.8,322.05 253.3,321.88 253.8,321.9 254.3,322.19 254.8,322.49 255.3,322.33 255.8,322.05 256.3,321.88 256.8,322.15 257.3,322.41 257.8,322.41 258.3,322.23 258.8,322.05 259.3,322.02 259.8,321.99 260.3,321.85 260.8,321.53 261.3,321.21 261.8,321.28 262.3,321.45 262.8,321.6 263.3,321.74 263.8,321.88 264.3,321.86 264.8,321.73 265.3,321.6 265.8,321.53 266.3,321.47 266.8,321.42 267.3,321.4 267.8,321.37 268.3,321.54 268.8,321.75 269.3,321.92 269.8,321.96 270.3,321.99 270.8,321.93 271.3,321.81 271.8,321.69 272.3,321.28 272.8,320.86 273.3,320.71 273.8,320.95 274.3,321.19 274.8,321.31 275.3,321.4 275.8,321.37 276.3,320.89 276.8,320.4 277.3,320.38 277.8,320.66 278.3,320.94 278.8,320.82 279.3,320.7 279.8,320.6 280.3,320.52 280.8,320.45 281.3,320.56 281.8,320.72 282.3,320.78 282.8,320.47 283.3,320.16 283.8,320.02 284.3,319.98 284.8,319.94 285.3,320.22 285.8,320.5 286.3,320.59 286.8,320.4 287.3,320.22 287.8,320.25 288.3,320.35 288.8,320.42 289.3,320.25 289.8,320.08 290.3,320.05 290.8,320.11 291.3,320.17 291.8,320.27 292.3,320.36 292.8,320.38 293.3,320.3 293.8,320.21 294.3,320.33 294.8,320.51 295.3,320.64 295.8,320.64 296.3,320.63 296.8,320.69 297.3,320.78 297.8,320.87 298.3,320.85 298.8,320.82 299.3,320.77 299.8,320.66 300.3,320.56 300.8,320.78 301.3,321.08 301.8,321.26 302.3,321 302.8,320.74 303.3,320.68 303.8,320.76 304.3,320.84 304.8,320.98 305.3,321.12 305.8,321.14 306.3,320.98 306.8,320.82 307.3,320.95 307.8,321.16 308.3,321.32 308.8,321.29 309.3,321.25 309.8,321.13 310.3,320.97 310.8,320.8 311.3,320.66 311.8,320.52 312.3,320.47 312.8,320.53 313.3,320.59 313.8,320.64 314.3,320.68 314.8,320.74 315.3,320.85 315.8,320.97 316.3,320.94 316.8,320.81 317.3,320.68 317.8,320.82 318.3,320.96 318.8,321.06 319.3,321.08 319.8,321.11 320.3,321.18 320.8,321.26 321.3,321.24 321.8,320.84 322.3,320.44 322.8,320.37 323.3,320.52 323.8,320.68 324.3,320.79 324.8,320.91 325.3,320.93 325.8,320.83 326.3,320.73 326.8,320.75 327.3,320.82 327.8,320.85 328.3,320.78 328.8,320.71 329.3,320.69 329.8,320.71 330.3,320.72 330.8,320.71 331.3,320.7 331.8,320.79 332.3,321.03 332.8,321.27 333.3,321.28 333.8,321.24 334.3,321.17 334.8,320.98 335.3,320.79 335.8,320.71 336.3,320.71 336.8,320.71 337.3,321.02 337.8,321.33 338.3,321.37 338.8,321 339.3,320.63 339.8,320.58 340.3,320.62 340.8,320.63 341.3,320.54 341.8,320.45 342.3,320.59 342.8,320.87 343.3,321.15 343.8,321.01 344.3,320.87 344.8,320.81 345.3,320.9 345.8,320.99 346.3,320.91 346.8,320.8 347.3,320.73 347.8,320.86 348.3,320.99 348.8,321.02 349.3,320.98 349.8,320.93 350.3,320.95 350.8,320.97 351.3,320.96 351.8,320.88 352.3,320.81 352.8,320.75 353.3,320.7 353.8,320.7 354.3,320.88 354.8,321.06 355.3,321 355.8,320.78 356.3,320.56 356.8,320.76 357.3,320.97 357.8,321 358.3,320.78 358.8,320.56 359.3,320.77 359.8,321.09 360.3,321.32 360.8,321.21 361.3,321.1 361.8,321.08 362.3,321.12 362.8,321.16 363.3,321.07 363.8,320.98 364.3,320.94 364.8,321 365.3,321.05 365.8,320.91 366.3,320.72 366.8,320.62 367.3,320.84 367.8,321.07 368.3,321.05 368.8,320.87 369.3,320.7 369.8,320.78 370.3,320.87 370.8,320.87 371.3,320.75 371.8,320.63 372.3,320.62 372.8,320.64 373.3,320.71 373.8,320.92 374.3,321.13 374.8,321.08 375.3,320.85 375.8,320.62 376.3,320.74 376.8,320.85 377.3,320.92 377.8,320.94 378.3,320.95 378.8,320.85 379.3,320.72 379.8,320.66 380.3,320.89 380.8,321.11 381.3,321.1 381.8,320.94 382.3,320.77 382.8,320.59 383.3,320.4 383.8,320.44 384.3,320.81 384.8,321.18 385.3,321.06 385.8,320.81 386.3,320.64 386.8,320.72 387.3,320.8 387.8,320.79 388.3,320.72 388.8,320.64 389.3,320.66 389.8,320.68 390.3,320.75 390.8,320.91 391.3,321.07 391.8,321.05 392.3,320.99 392.8,320.93 393.3,320.88" fill="none" stroke="#3838c0" stroke-width="1.15" stroke-linejoin="round" stroke-linecap="round"/>
<polyline points="250.8,309.01 251.3,309.04 251.8,309.06 252.3,309.07 252.8,308.94 253.3,308.81 253.8,308.81 254.3,308.98 254.8,309.16 255.3,309.15 255.8,309.09 256.3,309.02 256.8,308.91 257.3,308.79 257.8,308.84 258.3,308.99 258.8,309.13 259.3,309.07 259.8,309.01 260.3,308.97 260.8,308.97 261.3,308.96 261.8,308.96 262.3,308.95 262.8,308.95 263.3,308.98 263.8,309.01 264.3,309.05 264.8,309.1 265.3,309.14 265.8,309.25 266.3,309.35 266.8,309.34 267.3,309.16 267.8,308.98 268.3,308.8 268.8,308.62 269.3,308.5 269.8,308.63 270.3,308.76 270.8,308.92 271.3,309.09 271.8,309.26 272.3,309.13 272.8,309 273.3,308.96 273.8,309.04 274.3,309.13 274.8,309.05 275.3,308.92 275.8,308.83 276.3,308.84 276.8,308.85 277.3,308.77 277.8,308.63 278.3,308.5 278.8,308.58 279.3,308.66 279.8,308.79 280.3,309.02 280.8,309.24 281.3,309.19 281.8,309.08 282.3,308.98 282.8,308.94 283.3,308.9 283.8,308.91 284.3,308.96 284.8,309.01 285.3,308.94 285.8,308.86 286.3,308.84 286.8,308.89 287.3,308.94 287.8,309.02 288.3,309.1 288.8,309.07 289.3,308.78 289.8,308.42 290.3,308.28 290.8,308.3 291.3,308.31 291.8,307.58 292.3,306.84 292.8,306.39 293.3,306.38 293.8,306.37 294.3,306.11 294.8,305.78 295.3,305.46 295.8,305.18 296.3,304.9 296.8,304.65 297.3,304.41 297.8,304.18 298.3,303.78 298.8,303.37 299.3,303.06 299.8,302.88 300.3,302.71 300.8,302.31 301.3,301.85 301.8,301.46 302.3,301.31 302.8,301.39 303.3,301.7 303.8,302.16 304.3,302.65 304.8,303.28 305.3,303.86 305.8,304.32 306.3,304.63 306.8,304.89 307.3,305.26 307.8,305.63 308.3,305.91 308.8,305.9 309.3,305.86 309.8,306.05 310.3,306.4 310.8,306.74 311.3,306.6 311.8,306.44 312.3,306.41 312.8,306.56 313.3,306.7 313.8,306.84 314.3,306.97 314.8,307.05 315.3,306.98 315.8,306.91 316.3,306.9 316.8,306.94 317.3,306.98 317.8,306.91 318.3,306.84 318.8,306.86 319.3,307.03 319.8,307.2 320.3,307.23 320.8,307.23 321.3,307.29 321.8,307.6 322.3,307.9 322.8,308 323.3,307.95 323.8,307.91 324.3,307.78 324.8,307.65 325.3,307.65 325.8,307.85 326.3,308.04 326.8,307.93 327.3,307.74 327.8,307.56 328.3,307.45 328.8,307.33 329.3,307.34 329.8,307.44 330.3,307.53 330.8,307.39 331.3,307.25 331.8,307.16 332.3,307.17 332.8,307.18 333.3,307.21 333.8,307.24 334.3,307.3 334.8,307.48 335.3,307.66 335.8,307.67 336.3,307.56 336.8,307.45 337.3,307.43 337.8,307.4 338.3,307.4 338.8,307.41 339.3,307.43 339.8,307.62 340.3,307.85 340.8,307.96 341.3,307.62 341.8,307.27 342.3,307.29 342.8,307.55 343.3,307.81 343.8,307.6 344.3,307.39 344.8,307.36 345.3,307.59 345.8,307.82 346.3,307.76 346.8,307.64 347.3,307.55 347.8,307.61 348.3,307.67 348.8,307.66 349.3,307.6 349.8,307.54 350.3,307.74 350.8,307.95 351.3,307.96 351.8,307.7 352.3,307.44 352.8,307.55 353.3,307.75 353.8,307.9 354.3,307.8 354.8,307.7 355.3,307.63 355.8,307.56 356.3,307.5 356.8,307.66 357.3,307.83 357.8,308.01 358.3,308.23 358.8,308.45 359.3,308.39 359.8,308.27 360.3,308.15 360.8,308.02 361.3,307.89 361.8,307.93 362.3,308.09 362.8,308.25 363.3,308.09 363.8,307.93 364.3,307.86 364.8,307.93 365.3,308.01 365.8,308.06 366.3,308.11 366.8,308.14 367.3,308.04 367.8,307.95 368.3,307.86 368.8,307.78 369.3,307.7 369.8,307.8 370.3,307.9 370.8,307.95 371.3,307.93 371.8,307.9 372.3,307.98 372.8,308.09 373.3,308.18 373.8,308.19 374.3,308.2 374.8,308.13 375.3,308.02 375.8,307.91 376.3,307.92 376.8,307.94 377.3,308.07 377.8,308.37 378.3,308.67 378.8,308.55 379.3,308.31 379.8,308.08 380.3,307.86 380.8,307.64 381.3,307.68 381.8,307.88 382.3,308.09 382.8,308.43 383.3,308.78 383.8,308.9 384.3,308.68 384.8,308.46 385.3,308.31 385.8,308.17 386.3,308.09 386.8,308.21 387.3,308.33 387.8,308.34 388.3,308.28 388.8,308.23 389.3,308.24 389.8,308.26 390.3,308.21 390.8,308.06 391.3,307.92 391.8,308.07 392.3,308.29 392.8,308.46 393.3,308.39" fill="none" stroke="#2424b8" stroke-width="1.15" stroke-linejoin="round" stroke-linecap="round"/>
<polyline points="250.8,296.8 251.3,296.64 251.8,296.53 252.3,296.43 252.8,296.35 253.3,296.27 253.8,296.26 254.3,296.35 254.8,296.45 255.3,296.35 255.8,296.2 256.3,296.14 256.8,296.4 257.3,296.66 257.8,296.73 258.3,296.66 258.8,296.6 259.3,296.49 259.8,296.38 260.3,296.28 260.8,296.19 261.3,296.11 261.8,296.18 262.3,296.29 262.8,296.38 263.3,296.38 263.8,296.38 264.3,296.39 264.8,296.41 265.3,296.42 265.8,296.35 266.3,296.29 266.8,296.32 267.3,296.49 267.8,296.67 268.3,296.79 268.8,296.88 269.3,296.91 269.8,296.64 270.3,296.37 270.8,296.29 271.3,296.34 271.8,296.4 272.3,296.36 272.8,296.32 273.3,296.36 273.8,296.51 274.3,296.66 274.8,296.61 275.3,296.51 275.8,296.42 276.3,296.42 276.8,296.42 277.3,296.47 277.8,296.55 278.3,296.64 278.8,296.42 279.3,296.21 279.8,296.1 280.3,296.16 280.8,296.22 281.3,296.27 281.8,296.31 282.3,296.32 282.8,296.18 283.3,296.05 283.8,296.09 284.3,296.23 284.8,296.38 285.3,296.28 285.8,296.17 286.3,296.17 286.8,296.32 287.3,296.46 287.8,296.71 288.3,296.99 288.8,297.19 289.3,297.09 289.8,296.99 290.3,296.84 290.8,296.66 291.3,296.47 291.8,296.71 292.3,296.94 292.8,296.99 293.3,296.76 293.8,296.53 294.3,296.6 294.8,296.73 295.3,296.79 295.8,296.53 296.3,296.27 296.8,296.29 297.3,296.47 297.8,296.66 298.3,296.45 298.8,296.23 299.3,296.22 299.8,296.52 300.3,296.81 300.8,296.87 301.3,296.88 301.8,296.84 302.3,296.59 302.8,296.35 303.3,296.37 303.8,296.53 304.3,296.64 304.8,296.46 305.3,296.25 305.8,295.97 306.3,295.59 306.8,295.21 307.3,295.02 307.8,294.87 308.3,294.75 308.8,294.7 309.3,294.65 309.8,294.52 310.3,294.32 310.8,294.13 311.3,293.64 311.8,293.15 312.3,292.92 312.8,293.1 313.3,293.28 313.8,292.96 314.3,292.51 314.8,292.13 315.3,292.01 315.8,291.98 316.3,291.97 316.8,292.01 317.3,292.13 317.8,292.63 318.3,293.11 318.8,293.52 319.3,293.85 319.8,294.17 320.3,294.38 320.8,294.55 321.3,294.66 321.8,294.59 322.3,294.51 322.8,294.46 323.3,294.43 323.8,294.4 324.3,294.45 324.8,294.51 325.3,294.62 325.8,294.81 326.3,295.01 326.8,295.13 327.3,295.23 327.8,295.3 328.3,295.29 328.8,295.27 329.3,295.25 329.8,295.22 330.3,295.19 330.8,295.2 331.3,295.22 331.8,295.23 332.3,295.23 332.8,295.24 333.3,295.22 333.8,295.2 334.3,295.21 334.8,295.38 335.3,295.55 335.8,295.66 336.3,295.72 336.8,295.78 337.3,295.62 337.8,295.45 338.3,295.32 338.8,295.24 339.3,295.15 339.8,295.14 340.3,295.15 340.8,295.16 341.3,295.22 341.8,295.28 342.3,295.29 342.8,295.27 343.3,295.25 343.8,295.29 344.3,295.33 344.8,295.41 345.3,295.55 345.8,295.69 346.3,295.69 346.8,295.67 347.3,295.61 347.8,295.39 348.3,295.17 348.8,295.32 349.3,295.72 349.8,296.12 350.3,295.93 350.8,295.74 351.3,295.62 351.8,295.6 352.3,295.57 352.8,295.59 353.3,295.61 353.8,295.61 354.3,295.53 354.8,295.44 355.3,295.42 355.8,295.44 356.3,295.47 356.8,295.43 357.3,295.39 357.8,295.42 358.3,295.52 358.8,295.63 359.3,295.55 359.8,295.42 360.3,295.35 360.8,295.48 361.3,295.61 361.8,295.6 362.3,295.49 362.8,295.38 363.3,295.52 363.8,295.66 364.3,295.66 364.8,295.47 365.3,295.27 365.8,295.38 366.3,295.56 366.8,295.68 367.3,295.55 367.8,295.42 368.3,295.48 368.8,295.67 369.3,295.85 369.8,295.76 370.3,295.67 370.8,295.68 371.3,295.82 371.8,295.96 372.3,296 372.8,296 373.3,296 373.8,295.96 374.3,295.92 374.8,295.83 375.3,295.72 375.8,295.61 376.3,295.67 376.8,295.74 377.3,295.76 377.8,295.72 378.3,295.67 378.8,295.81 379.3,296 379.8,296.09 380.3,295.82 380.8,295.55 381.3,295.55 381.8,295.72 382.3,295.89 382.8,295.87 383.3,295.86 383.8,295.94 384.3,296.15 384.8,296.36 385.3,296.37 385.8,296.32 386.3,296.29 386.8,296.35 387.3,296.4 387.8,296.29 388.3,296.05 388.8,295.82 389.3,295.94 389.8,296.07 390.3,296.06 390.8,295.86 391.3,295.66 391.8,295.91 392.3,296.28 392.8,296.51 393.3,296.2" fill="none" stroke="#6e6ae6" stroke-width="1.15" stroke-linejoin="round" stroke-linecap="round"/>
<polyline points="252,283.9 252.5,284.03 253,284.17 253.5,284.31 254,284.11 254.5,283.9 255,283.85 255.5,284.03 256,284.21 256.5,284.16 257,284.05 257.5,283.99 258,284.15 258.5,284.3 259,284.31 259.5,284.21 260,284.12 260.5,284.06 261,284.01 261.5,283.98 262,283.99 262.5,284.01 263,283.96 263.5,283.9 264,283.84 264.5,283.81 265,283.77 265.5,283.82 266,283.92 266.5,284.01 267,283.87 267.5,283.72 268,283.71 268.5,283.91 269,284.11 269.5,284.27 270,284.43 270.5,284.49 271,284.16 271.5,283.84 272,283.71 272.5,283.72 273,283.73 273.5,283.96 274,284.2 274.5,284.26 275,284.04 275.5,283.82 276,283.82 276.5,283.88 277,283.93 277.5,283.9 278,283.88 278.5,283.93 279,284.04 279.5,284.14 280,283.75 280.5,283.36 281,283.33 281.5,283.86 282,284.38 282.5,284.32 283,284.11 283.5,283.93 284,283.87 284.5,283.81 285,283.76 285.5,283.73 286,283.7 286.5,283.73 287,283.77 287.5,283.8 288,283.83 288.5,283.86 289,284.05 289.5,284.28 290,284.46 290.5,284.4 291,284.34 291.5,284.26 292,284.18 292.5,284.09 293,284.02 293.5,283.95 294,283.91 294.5,283.9 295,283.89 295.5,283.85 296,283.8 296.5,283.81 297,284.05 297.5,284.28 298,284.33 298.5,284.24 299,284.16 299.5,284.09 300,284.02 300.5,283.97 301,283.97 301.5,283.96 302,284.12 302.5,284.32 303,284.45 303.5,284.29 304,284.14 304.5,283.93 305,283.7 305.5,283.46 306,283.62 306.5,283.78 307,283.9 307.5,283.96 308,284.02 308.5,284.04 309,284.06 309.5,284.04 310,283.94 310.5,283.83 311,283.82 311.5,283.87 312,283.92 312.5,283.96 313,283.99 313.5,284.01 314,284.01 314.5,283.98 315,283.78 315.5,283.51 316,283.27 316.5,283.24 317,283.21 317.5,283.11 318,282.98 318.5,282.84 319,282.65 319.5,282.45 320,282.29 320.5,282.18 321,282.07 321.5,282.03 322,281.99 322.5,281.92 323,281.65 323.5,281.38 324,281.11 324.5,280.84 325,280.57 325.5,280.5 326,280.42 326.5,280.35 327,280.28 327.5,280.22 328,280.07 328.5,279.93 329,279.91 329.5,280.1 330,280.38 330.5,280.62 331,280.8 331.5,280.97 332,281 332.5,281.01 333,281.06 333.5,281.19 334,281.31 334.5,281.5 335,281.71 335.5,281.9 336,282.09 336.5,282.26 337,282.31 337.5,282.27 338,282.22 338.5,282.22 339,282.22 339.5,282.21 340,282.21 340.5,282.21 341,282.27 341.5,282.36 342,282.41 342.5,282.36 343,282.31 343.5,282.35 344,282.46 344.5,282.57 345,282.32 345.5,282.05 346,282.02 346.5,282.32 347,282.62 347.5,282.6 348,282.5 348.5,282.38 349,282.18 349.5,281.98 350,282.09 350.5,282.39 351,282.7 351.5,282.76 352,282.82 352.5,282.72 353,282.39 353.5,282.07 354,282.27 354.5,282.61 355,282.82 355.5,282.54 356,282.27 356.5,282.16 357,282.17 357.5,282.19 358,282.28 358.5,282.38 359,282.44 359.5,282.45 360,282.46 360.5,282.46 361,282.45 361.5,282.47 362,282.55 362.5,282.64 363,282.63 363.5,282.55 364,282.47 364.5,282.67 365,282.87 365.5,282.91 366,282.68 366.5,282.46 367,282.48 367.5,282.56 368,282.63 368.5,282.62 369,282.62 369.5,282.55 370,282.44 370.5,282.34 371,282.51 371.5,282.68 372,282.77 372.5,282.76 373,282.75 373.5,282.63 374,282.48 374.5,282.41 375,282.6 375.5,282.79 376,282.74 376.5,282.53 377,282.32 377.5,282.27 378,282.23 378.5,282.22 379,282.28 379.5,282.33 380,282.38 380.5,282.42 381,282.46 381.5,282.47 382,282.49 382.5,282.62 383,282.82 383.5,283.03 384,282.85 384.5,282.66 385,282.48 385.5,282.29 386,282.1 386.5,282.15 387,282.26 387.5,282.34 388,282.28 388.5,282.22 389,282.36 389.5,282.64 390,282.92 390.5,282.84 391,282.77 391.5,282.69 392,282.62 392.5,282.55 393,282.7 393.5,282.91" fill="none" stroke="#38a0d4" stroke-width="1.15" stroke-linejoin="round" stroke-linecap="round"/>
<polyline points="265.3,270.86 265.8,270.97 266.3,271.05 266.8,271.13 267.3,270.91 267.8,270.7 268.3,270.57 268.8,270.57 269.3,270.58 269.8,270.5 270.3,270.39 270.8,270.32 271.3,270.41 271.8,270.49 272.3,270.53 272.8,270.54 273.3,270.54 273.8,270.41 274.3,270.28 274.8,270.34 275.3,270.69 275.8,271.04 276.3,270.94 276.8,270.74 277.3,270.61 277.8,270.78 278.3,270.95 278.8,270.94 279.3,270.79 279.8,270.65 280.3,270.65 280.8,270.66 281.3,270.76 281.8,271.02 282.3,271.28 282.8,271.13 283.3,270.88 283.8,270.7 284.3,270.76 284.8,270.83 285.3,270.88 285.8,270.91 286.3,270.94 286.8,270.94 287.3,270.95 287.8,270.95 288.3,270.94 288.8,270.92 289.3,270.81 289.8,270.67 290.3,270.61 290.8,270.88 291.3,271.15 291.8,271.09 292.3,270.81 292.8,270.54 293.3,270.6 293.8,270.66 294.3,270.75 294.8,270.88 295.3,271 295.8,270.82 296.3,270.56 296.8,270.37 297.3,270.41 297.8,270.46 298.3,270.52 298.8,270.59 299.3,270.66 299.8,270.64 300.3,270.62 300.8,270.61 301.3,270.63 301.8,270.64 302.3,270.61 302.8,270.57 303.3,270.53 303.8,270.46 304.3,270.38 304.8,270.44 305.3,270.58 305.8,270.71 306.3,270.83 306.8,270.94 307.3,271 307.8,270.98 308.3,270.96 308.8,270.82 309.3,270.65 309.8,270.52 310.3,270.56 310.8,270.6 311.3,270.63 311.8,270.67 312.3,270.71 312.8,270.65 313.3,270.58 313.8,270.58 314.3,270.68 314.8,270.78 315.3,270.75 315.8,270.69 316.3,270.66 316.8,270.73 317.3,270.8 317.8,270.72 318.3,270.55 318.8,270.37 319.3,270.55 319.8,270.73 320.3,270.84 320.8,270.86 321.3,270.87 321.8,270.95 322.3,271.04 322.8,271.07 323.3,270.88 323.8,270.69 324.3,270.55 324.8,270.44 325.3,270.34 325.8,270.38 326.3,270.43 326.8,270.52 327.3,270.68 327.8,270.85 328.3,270.92 328.8,270.96 329.3,270.98 329.8,270.94 330.3,270.89 330.8,270.8 331.3,270.67 331.8,270.51 332.3,270.12 332.8,269.65 333.3,269.43 333.8,269.65 334.3,269.85 334.8,269.6 335.3,269.23 335.8,268.84 336.3,268.4 336.8,267.97 337.3,267.65 337.8,267.4 338.3,267.15 338.8,266.82 339.3,266.5 339.8,266.1 340.3,265.6 340.8,265.1 341.3,264.87 341.8,264.77 342.3,264.79 342.8,264.94 343.3,265.24 343.8,265.51 344.3,265.72 344.8,265.9 345.3,266.26 345.8,266.59 346.3,267 346.8,267.52 347.3,268.03 347.8,267.87 348.3,267.53 348.8,267.3 349.3,267.55 349.8,267.79 350.3,268.08 350.8,268.41 351.3,268.73 351.8,268.59 352.3,268.43 352.8,268.33 353.3,268.31 353.8,268.28 354.3,268.45 354.8,268.68 355.3,268.87 355.8,268.93 356.3,269 356.8,269.07 357.3,269.14 357.8,269.2 358.3,269.21 358.8,269.2 359.3,269.18 359.8,269.13 360.3,269.07 360.8,269.26 361.3,269.52 361.8,269.68 362.3,269.52 362.8,269.36 363.3,269.22 363.8,269.1 364.3,268.97 364.8,269.07 365.3,269.17 365.8,269.3 366.3,269.47 366.8,269.65 367.3,269.49 367.8,269.25 368.3,269.06 368.8,269.03 369.3,269 369.8,269.09 370.3,269.25 370.8,269.42 371.3,269.34 371.8,269.26 372.3,269.28 372.8,269.44 373.3,269.61 373.8,269.5 374.3,269.32 374.8,269.16 375.3,269.1 375.8,269.04 376.3,269.06 376.8,269.11 377.3,269.17 377.8,269.48 378.3,269.8 378.8,270 379.3,270.06 379.8,270.11 380.3,270.02 380.8,269.9 381.3,269.78 381.8,269.65 382.3,269.52 382.8,269.44 383.3,269.37 383.8,269.31 384.3,269.3 384.8,269.29 385.3,269.21 385.8,269.04 386.3,268.86 386.8,269 387.3,269.22 387.8,269.39 388.3,269.35 388.8,269.31 389.3,269.4 389.8,269.57 390.3,269.74 390.8,269.55 391.3,269.36 391.8,269.3 392.3,269.43 392.8,269.57 393.3,269.58" fill="none" stroke="#64aee2" stroke-width="1.15" stroke-linejoin="round" stroke-linecap="round"/>
<polyline points="95.3,465.2 95.8,465.17 96.3,465.03 96.8,464.9 97.3,465.21 97.8,465.52 98.3,465.59 98.8,465.32 99.3,465.04 99.8,464.85 100.3,464.69 100.8,464.59 101.3,464.76 101.8,464.94 102.3,465.04 102.8,465.1 103.3,465.16 103.8,465.25 104.3,465.34 104.8,465.45 105.3,465.59 105.8,465.74 106.3,465.47 106.8,465.1 107.3,464.83 107.8,464.95 108.3,464.91 108.8,464.41 109.3,463.55 109.8,462.6 110.3,462.08 110.8,461.56 111.3,460.91 111.8,460.09 112.3,459.26 112.8,458.46 113.3,457.67 113.8,456.88 114.3,456.1 114.8,455.31 115.3,454.53 115.8,453.74 116.3,452.96 116.8,452.29 117.3,451.62 117.8,450.9 118.3,450.13 118.8,449.36 119.3,448.51 119.8,447.64 120.3,446.81 120.8,446.17 121.3,445.65 121.8,445.39 122.3,445.64 122.8,446.47 123.3,447.7 123.8,448.97 124.3,450.06 124.8,450.9 125.3,451.65 125.8,452.63 126.3,453.61 126.8,454.44 127.3,454.84 127.8,455.18 128.3,455.85 128.8,456.74 129.3,457.57 129.8,457.49 130.3,457.37 130.8,457.52 131.3,458.09 131.8,458.63 132.3,458.95 132.8,459.2 133.3,459.47 133.8,459.9 134.3,460.32 134.8,460.55 135.3,460.65 135.8,460.74 136.3,460.39 136.8,460.03 137.3,459.95 137.8,460.31 138.3,460.65 138.8,460.68 139.3,460.62 139.8,460.59 140.3,460.68 140.8,460.77 141.3,460.87 141.8,460.98 142.3,461.09 142.8,461.46 143.3,461.82 143.8,462.07 144.3,462.13 144.8,462.19 145.3,461.97 145.8,461.68 146.3,461.47 146.8,461.6 147.3,461.73 147.8,461.87 148.3,462.02 148.8,462.16 149.3,462.09 149.8,462.01 150.3,461.94 150.8,461.87 151.3,461.8 151.8,461.89 152.3,462.04 152.8,462.19 153.3,462.41 153.8,462.63 154.3,462.72 154.8,462.71 155.3,462.7 155.8,462.42 156.3,462.15 156.8,462.07 157.3,462.3 157.8,462.53 158.3,462.62 158.8,462.69 159.3,462.71 159.8,462.57 160.3,462.42 160.8,462.31 161.3,462.23 161.8,462.15 162.3,462.31 162.8,462.47 163.3,462.59 163.8,462.66 164.3,462.73 164.8,462.56 165.3,462.33 165.8,462.15 166.3,462.19 166.8,462.24 167.3,462.46 167.8,462.8 168.3,463.13 168.8,463.07 169.3,463 169.8,462.92 170.3,462.82 170.8,462.73 171.3,462.82 171.8,462.96 172.3,463.09 172.8,463.16 173.3,463.23 173.8,463.14 174.3,462.92 174.8,462.71 175.3,462.86 175.8,463.01 176.3,463.1 176.8,463.11 177.3,463.12 177.8,462.96 178.3,462.75 178.8,462.62 179.3,462.84 179.8,463.06 180.3,463.11 180.8,463.03 181.3,462.96 181.8,462.81 182.3,462.66 182.8,462.62 183.3,462.76 183.8,462.89 184.3,463.1 184.8,463.33 185.3,463.47 185.8,463.24 186.3,463.01 186.8,462.96 187.3,463.04 187.8,463.12 188.3,463.04 188.8,462.95 189.3,462.97 189.8,463.14 190.3,463.32 190.8,463.44 191.3,463.55 191.8,463.58 192.3,463.29 192.8,463 193.3,462.97 193.8,463.11 194.3,463.26 194.8,463.43 195.3,463.6 195.8,463.65 196.3,463.53 196.8,463.41 197.3,463.33 197.8,463.25 198.3,463.25 198.8,463.55 199.3,463.85 199.8,463.89 200.3,463.75 200.8,463.62 201.3,463.78 201.8,463.94 202.3,463.98 202.8,463.86 203.3,463.73 203.8,463.71 204.3,463.71 204.8,463.71 205.3,463.72 205.8,463.73 206.3,463.71 206.8,463.65 207.3,463.59 207.8,463.74 208.3,463.88 208.8,463.94 209.3,463.87 209.8,463.79 210.3,463.93 210.8,464.12 211.3,464.25 211.8,464.09 212.3,463.94 212.8,463.84 213.3,463.76 213.8,463.69 214.3,463.82 214.8,463.94 215.3,463.95 215.8,463.76 216.3,463.57 216.8,463.55 217.3,463.56 217.8,463.59 218.3,463.68 218.8,463.76 219.3,463.88 219.8,464.04 220.3,464.19 220.8,464.02 221.3,463.85 221.8,463.85 222.3,464.13 222.8,464.41 223.3,464.4 223.8,464.33 224.3,464.32 224.8,464.58 225.3,464.83 225.8,464.86 226.3,464.75 226.8,464.63 227.3,464.34 227.8,464.04 228.3,463.93 228.8,464.08 229.3,464.23 229.8,464.21 230.3,464.15 230.8,464.1 231.3,464.1 231.8,464.11 232.3,464.12 232.8,464.14 233.3,464.15 233.8,464.2 234.3,464.25 234.8,464.31 235.3,464.39 235.8,464.48 236.3,464.57 236.8,464.66 237.3,464.71 237.8,464.58" fill="none" stroke="#b01c22" stroke-width="1.15" stroke-linejoin="round" stroke-linecap="round"/>
<polyline points="95.3,452.3 95.8,452.3 96.3,452.16 96.8,452.03 97.3,452.2 97.8,452.37 98.3,452.44 98.8,452.35 99.3,452.27 99.8,452.3 100.3,452.36 100.8,452.37 101.3,452.17 101.8,451.98 102.3,452.05 102.8,452.3 103.3,452.56 103.8,452.7 104.3,452.84 104.8,452.82 105.3,452.56 105.8,452.3 106.3,452.24 106.8,452.22 107.3,452.21 107.8,452.25 108.3,452.29 108.8,452.21 109.3,452.05 109.8,451.88 110.3,452.02 110.8,452.17 111.3,452.26 111.8,452.28 112.3,452.29 112.8,452.17 113.3,452.02 113.8,451.88 114.3,451.8 114.8,451.71 115.3,451.87 115.8,452.18 116.3,452.5 116.8,452.38 117.3,452.26 117.8,452.19 118.3,452.2 118.8,452.22 119.3,452.2 119.8,452.18 120.3,452.14 120.8,452.05 121.3,451.8 121.8,451.31 122.3,450.56 122.8,449.62 123.3,448.48 123.8,447.34 124.3,446.23 124.8,445.18 125.3,444.14 125.8,442.98 126.3,441.79 126.8,440.64 127.3,439.67 127.8,438.69 128.3,437.62 128.8,436.48 129.3,435.33 129.8,434.48 130.3,433.62 130.8,432.64 131.3,431.45 131.8,430.26 132.3,429 132.8,427.7 133.3,426.47 133.8,425.47 134.3,424.48 134.8,423.36 135.3,422.32 135.8,421.79 136.3,422.39 136.8,423.68 137.3,425.23 137.8,426.66 138.3,428.02 138.8,429.4 139.3,430.7 139.8,431.93 140.3,433.1 140.8,434.19 141.3,435.02 141.8,435.64 142.3,436.21 142.8,437.06 143.3,437.86 143.8,438.64 144.3,439.39 144.8,440.11 145.3,440.43 145.8,440.63 146.3,440.85 146.8,441.3 147.3,441.72 147.8,442.18 148.3,442.64 148.8,443.08 149.3,443.22 149.8,443.34 150.3,443.45 150.8,443.56 151.3,443.65 151.8,444.04 152.3,444.5 152.8,444.87 153.3,444.96 153.8,445.04 154.3,445.22 154.8,445.48 155.3,445.73 155.8,445.68 156.3,445.63 156.8,445.66 157.3,445.81 157.8,445.96 158.3,445.99 158.8,445.99 159.3,445.96 159.8,445.81 160.3,445.65 160.8,445.69 161.3,445.86 161.8,446.03 162.3,446.18 162.8,446.34 163.3,446.46 163.8,446.55 164.3,446.64 164.8,446.56 165.3,446.44 165.8,446.36 166.3,446.45 166.8,446.53 167.3,446.56 167.8,446.54 168.3,446.53 168.8,446.49 169.3,446.45 169.8,446.47 170.3,446.57 170.8,446.67 171.3,446.88 171.8,447.12 172.3,447.3 172.8,447.28 173.3,447.26 173.8,447.22 174.3,447.15 174.8,447.08 175.3,447.26 175.8,447.44 176.3,447.53 176.8,447.46 177.3,447.4 177.8,447.44 178.3,447.51 178.8,447.59 179.3,447.67 179.8,447.76 180.3,447.77 180.8,447.74 181.3,447.71 181.8,447.5 182.3,447.3 182.8,447.19 183.3,447.23 183.8,447.26 184.3,447.24 184.8,447.2 185.3,447.21 185.8,447.39 186.3,447.56 186.8,447.63 187.3,447.63 187.8,447.62 188.3,447.79 188.8,447.96 189.3,448.03 189.8,447.96 190.3,447.89 190.8,447.88 191.3,447.89 191.8,447.88 192.3,447.77 192.8,447.66 193.3,447.69 193.8,447.8 194.3,447.92 194.8,448.02 195.3,448.12 195.8,448.15 196.3,448.07 196.8,448 197.3,447.85 197.8,447.67 198.3,447.58 198.8,447.81 199.3,448.05 199.8,448.12 200.3,448.08 200.8,448.05 201.3,448.29 201.8,448.52 202.3,448.65 202.8,448.62 203.3,448.59 203.8,448.48 204.3,448.35 204.8,448.24 205.3,448.22 205.8,448.2 206.3,448.27 206.8,448.41 207.3,448.55 207.8,448.16 208.3,447.76 208.8,447.67 209.3,448.06 209.8,448.45 210.3,448.46 210.8,448.37 211.3,448.33 211.8,448.42 212.3,448.52 212.8,448.51 213.3,448.43 213.8,448.35 214.3,448.44 214.8,448.54 215.3,448.58 215.8,448.55 216.3,448.53 216.8,448.74 217.3,449.02 217.8,449.21 218.3,449.04 218.8,448.86 219.3,448.65 219.8,448.42 220.3,448.18 220.8,448.4 221.3,448.62 221.8,448.72 222.3,448.64 222.8,448.56 223.3,448.71 223.8,448.91 224.3,449.06 224.8,448.99 225.3,448.92 225.8,448.84 226.3,448.74 226.8,448.65 227.3,448.75 227.8,448.85 228.3,448.91 228.8,448.92 229.3,448.92 229.8,448.96 230.3,448.99 230.8,449.01 231.3,448.95 231.8,448.9 232.3,448.87 232.8,448.86 233.3,448.85 233.8,448.9 234.3,448.95 234.8,449.02 235.3,449.1 235.8,449.18 236.3,449.14 236.8,449.07 237.3,449 237.8,448.95" fill="none" stroke="#f02c50" stroke-width="1.15" stroke-linejoin="round" stroke-linecap="round"/>
<polyline points="95.3,440.23 95.8,440.27 96.3,440.34 96.8,440.41 97.3,440.31 97.8,440.21 98.3,440.24 98.8,440.47 99.3,440.69 99.8,440.69 100.3,440.64 100.8,440.57 101.3,440.48 101.8,440.39 102.3,440.4 102.8,440.47 103.3,440.54 103.8,440.38 104.3,440.21 104.8,440.11 105.3,440.09 105.8,440.08 106.3,440.22 106.8,440.41 107.3,440.56 107.8,440.54 108.3,440.53 108.8,440.42 109.3,440.25 109.8,440.07 110.3,440.04 110.8,440 111.3,440.07 111.8,440.29 112.3,440.5 112.8,440.55 113.3,440.55 113.8,440.52 114.3,440.38 114.8,440.24 115.3,440.29 115.8,440.46 116.3,440.64 116.8,440.66 117.3,440.68 117.8,440.66 118.3,440.57 118.8,440.49 119.3,440.57 119.8,440.68 120.3,440.76 120.8,440.7 121.3,440.64 121.8,440.58 122.3,440.5 122.8,440.43 123.3,440.46 123.8,440.48 124.3,440.44 124.8,440.3 125.3,440.17 125.8,440.22 126.3,440.33 126.8,440.45 127.3,440.65 127.8,440.84 128.3,440.79 128.8,440.58 129.3,440.37 129.8,440.47 130.3,440.58 130.8,440.59 131.3,440.44 131.8,440.29 132.3,440.23 132.8,440.19 133.3,440.19 133.8,440.34 134.3,440.49 134.8,440.47 135.3,440.32 135.8,440.06 136.3,439.6 136.8,438.72 137.3,437.5 137.8,436.16 138.3,434.75 138.8,433.33 139.3,431.91 139.8,430.44 140.3,428.81 140.8,427.17 141.3,425.59 141.8,424.06 142.3,422.53 142.8,421.08 143.3,419.64 143.8,418.17 144.3,416.67 144.8,415.17 145.3,413.62 145.8,412.05 146.3,410.48 146.8,408.92 147.3,407.36 147.8,405.77 148.3,404.24 148.8,403.1 149.3,403.01 149.8,404.14 150.3,406.21 150.8,408.64 151.3,410.98 151.8,412.9 152.3,414.6 152.8,416.08 153.3,417.18 153.8,418.14 154.3,419.35 154.8,420.69 155.3,421.94 155.8,422.9 156.3,423.77 156.8,424.59 157.3,425.35 157.8,426.06 158.3,426.63 158.8,427.14 159.3,427.6 159.8,428.07 160.3,428.5 160.8,428.73 161.3,428.83 161.8,428.9 162.3,429.27 162.8,429.62 163.3,429.91 163.8,430.12 164.3,430.32 164.8,430.6 165.3,430.89 165.8,431.16 166.3,431.33 166.8,431.49 167.3,431.68 167.8,431.89 168.3,432.1 168.8,432.18 169.3,432.25 169.8,432.35 170.3,432.52 170.8,432.68 171.3,432.8 171.8,432.9 172.3,432.93 172.8,432.74 173.3,432.55 173.8,432.56 174.3,432.7 174.8,432.85 175.3,432.78 175.8,432.71 176.3,432.77 176.8,433.03 177.3,433.28 177.8,433.22 178.3,433.07 178.8,432.96 179.3,433.05 179.8,433.13 180.3,433.18 180.8,433.21 181.3,433.24 181.8,433.46 182.3,433.68 182.8,433.89 183.3,434.08 183.8,434.27 184.3,434.14 184.8,433.93 185.3,433.75 185.8,433.71 186.3,433.67 186.8,433.73 187.3,433.85 187.8,433.97 188.3,433.96 188.8,433.95 189.3,433.93 189.8,433.9 190.3,433.86 190.8,433.93 191.3,434.02 191.8,434.11 192.3,434.21 192.8,434.3 193.3,434.38 193.8,434.44 194.3,434.5 194.8,434.44 195.3,434.38 195.8,434.31 196.3,434.22 196.8,434.13 197.3,434.27 197.8,434.47 198.3,434.59 198.8,434.43 199.3,434.26 199.8,434.18 200.3,434.14 200.8,434.1 201.3,434.27 201.8,434.45 202.3,434.6 202.8,434.71 203.3,434.81 203.8,434.89 204.3,434.96 204.8,434.99 205.3,434.83 205.8,434.68 206.3,434.72 206.8,434.89 207.3,435.07 207.8,434.91 208.3,434.75 208.8,434.71 209.3,434.88 209.8,435.04 210.3,435.05 210.8,435.02 211.3,435.03 211.8,435.18 212.3,435.33 212.8,435.46 213.3,435.57 213.8,435.68 214.3,435.66 214.8,435.63 215.3,435.58 215.8,435.49 216.3,435.41 216.8,435.25 217.3,435.07 217.8,434.98 218.3,435.24 218.8,435.49 219.3,435.52 219.8,435.39 220.3,435.27 220.8,435.28 221.3,435.3 221.8,435.36 222.3,435.49 222.8,435.61 223.3,435.66 223.8,435.68 224.3,435.69 224.8,435.62 225.3,435.55 225.8,435.59 226.3,435.71 226.8,435.83 227.3,435.8 227.8,435.77 228.3,435.78 228.8,435.82 229.3,435.87 229.8,435.94 230.3,436.01 230.8,436.09 231.3,436.19 231.8,436.29 232.3,436.37 232.8,436.44 233.3,436.51 233.8,436.39 234.3,436.26 234.8,436.23 235.3,436.35 235.8,436.47 236.3,436.59 236.8,436.71 237.3,436.8 237.8,436.76" fill="none" stroke="#e0267a" stroke-width="1.15" stroke-linejoin="round" stroke-linecap="round"/>
<polyline points="95.3,427.19 95.8,427.24 96.3,427.06 96.8,426.87 97.3,426.57 97.8,426.26 98.3,426.22 98.8,426.58 99.3,426.95 99.8,427.1 100.3,427.21 100.8,427.23 101.3,426.94 101.8,426.65 102.3,426.61 102.8,426.74 103.3,426.88 103.8,426.66 104.3,426.44 104.8,426.34 105.3,426.44 105.8,426.54 106.3,426.74 106.8,426.97 107.3,427.17 107.8,427.22 108.3,427.28 108.8,427.18 109.3,427 109.8,426.81 110.3,427.02 110.8,427.23 111.3,427.22 111.8,426.88 112.3,426.54 112.8,426.64 113.3,426.84 113.8,427 114.3,427.01 114.8,427.03 115.3,427.01 115.8,426.97 116.3,426.93 116.8,426.63 117.3,426.34 117.8,426.21 118.3,426.33 118.8,426.44 119.3,426.52 119.8,426.59 120.3,426.67 120.8,426.75 121.3,426.84 121.8,426.81 122.3,426.7 122.8,426.59 123.3,426.78 123.8,426.97 124.3,426.99 124.8,426.75 125.3,426.51 125.8,426.74 126.3,427.08 126.8,427.31 127.3,427.1 127.8,426.89 128.3,426.93 128.8,427.12 129.3,427.32 129.8,427.16 130.3,427 130.8,426.93 131.3,426.97 131.8,427.01 132.3,426.85 132.8,426.64 133.3,426.49 133.8,426.64 134.3,426.78 134.8,426.91 135.3,427.03 135.8,427.15 136.3,426.91 136.8,426.67 137.3,426.65 137.8,426.96 138.3,427.27 138.8,427.07 139.3,426.76 139.8,426.48 140.3,426.39 140.8,426.3 141.3,426.47 141.8,426.81 142.3,427.15 142.8,427.14 143.3,427.13 143.8,427.12 144.3,427.1 144.8,427.08 145.3,426.95 145.8,426.78 146.3,426.64 146.8,426.66 147.3,426.46 147.8,425.82 148.3,424.9 148.8,423.95 149.3,423.05 149.8,422.15 150.3,421.35 150.8,420.68 151.3,420.01 151.8,419.13 152.3,418.21 152.8,417.35 153.3,416.77 153.8,416.19 154.3,415.37 154.8,414.4 155.3,413.43 155.8,412.74 156.3,412.05 156.8,411.37 157.3,410.7 157.8,410.04 158.3,409.27 158.8,408.47 159.3,407.7 159.8,407.02 160.3,406.38 160.8,405.78 161.3,405.56 161.8,406.09 162.3,407.48 162.8,409.23 163.3,410.83 163.8,412.08 164.3,413.16 164.8,414.32 165.3,415.39 165.8,416.31 166.3,416.99 166.8,417.58 167.3,418.2 167.8,418.83 168.3,419.4 168.8,419.74 169.3,420.03 169.8,420.25 170.3,420.39 170.8,420.49 171.3,420.94 171.8,421.45 172.3,421.84 172.8,421.87 173.3,421.88 173.8,421.93 174.3,422.02 174.8,422.1 175.3,422.22 175.8,422.34 176.3,422.48 176.8,422.67 177.3,422.86 177.8,422.83 178.3,422.73 178.8,422.68 179.3,422.78 179.8,422.88 180.3,422.92 180.8,422.9 181.3,422.88 181.8,422.95 182.3,423.01 182.8,423.09 183.3,423.17 183.8,423.25 184.3,423.31 184.8,423.35 185.3,423.37 185.8,423.3 186.3,423.23 186.8,423.15 187.3,423.08 187.8,423 188.3,423 188.8,423 189.3,423.02 189.8,423.07 190.3,423.12 190.8,423.25 191.3,423.39 191.8,423.5 192.3,423.51 192.8,423.52 193.3,423.43 193.8,423.28 194.3,423.14 194.8,423.46 195.3,423.78 195.8,423.91 196.3,423.73 196.8,423.56 197.3,423.75 197.8,424.03 198.3,424.2 198.8,423.94 199.3,423.68 199.8,423.7 200.3,423.91 200.8,424.12 201.3,423.97 201.8,423.82 202.3,423.8 202.8,423.95 203.3,424.11 203.8,424.07 204.3,423.98 204.8,423.93 205.3,423.99 205.8,424.06 206.3,423.99 206.8,423.82 207.3,423.66 207.8,423.53 208.3,423.39 208.8,423.39 209.3,423.56 209.8,423.73 210.3,423.86 210.8,423.97 211.3,424.06 211.8,424.08 212.3,424.1 212.8,424.09 213.3,424.06 213.8,424.03 214.3,424.04 214.8,424.04 215.3,424.15 215.8,424.4 216.3,424.66 216.8,424.45 217.3,424.14 217.8,423.87 218.3,423.82 218.8,423.76 219.3,423.9 219.8,424.16 220.3,424.42 220.8,424.29 221.3,424.16 221.8,424.15 222.3,424.31 222.8,424.48 223.3,424.41 223.8,424.28 224.3,424.19 224.8,424.19 225.3,424.2 225.8,424.36 226.3,424.61 226.8,424.86 227.3,424.81 227.8,424.76 228.3,424.67 228.8,424.54 229.3,424.4 229.8,424.36 230.3,424.33 230.8,424.35 231.3,424.56 231.8,424.77 232.3,424.76 232.8,424.6 233.3,424.44 233.8,424.63 234.3,424.82 234.8,424.91 235.3,424.85 235.8,424.79 236.3,424.71 236.8,424.62 237.3,424.59 237.8,424.8" fill="none" stroke="#ec4a84" stroke-width="1.15" stroke-linejoin="round" stroke-linecap="round"/>
<polyline points="97,413.93 97.5,413.91 98,413.93 98.5,413.96 99,413.97 99.5,413.99 100,414.03 100.5,414.09 101,414.16 101.5,414.25 102,414.34 102.5,414.36 103,414.14 103.5,413.91 104,413.81 104.5,413.78 105,413.76 105.5,413.91 106,414.05 106.5,414.16 107,414.21 107.5,414.25 108,414.31 108.5,414.38 109,414.41 109.5,414.28 110,414.15 110.5,414.06 111,413.99 111.5,413.92 112,414.07 112.5,414.22 113,414.32 113.5,414.34 114,414.35 114.5,414.34 115,414.31 115.5,414.29 116,414.3 116.5,414.31 117,414.26 117.5,414.18 118,414.09 118.5,414.13 119,414.16 119.5,414.13 120,413.99 120.5,413.85 121,414.04 121.5,414.32 122,414.49 122.5,414.25 123,414.01 123.5,413.95 124,414 124.5,414.05 125,414.11 125.5,414.18 126,414.21 126.5,414.18 127,414.15 127.5,414.27 128,414.44 128.5,414.53 129,414.34 129.5,414.15 130,414.01 130.5,413.92 131,413.82 131.5,413.85 132,413.87 132.5,413.93 133,414.05 133.5,414.16 134,414.12 134.5,414.05 135,414.01 135.5,414.09 136,414.17 136.5,414.05 137,413.82 137.5,413.58 138,413.73 138.5,413.88 139,414.06 139.5,414.27 140,414.49 140.5,414.35 141,414.11 141.5,413.97 142,414.18 142.5,414.39 143,414.39 143.5,414.24 144,414.1 144.5,414.17 145,414.24 145.5,414.29 146,414.29 146.5,414.29 147,414.23 147.5,414.15 148,414.08 148.5,414.1 149,414.11 149.5,414.16 150,414.24 150.5,414.32 151,414.16 151.5,414.01 152,413.94 152.5,414.01 153,414.08 153.5,414.17 154,414.27 154.5,414.34 155,414.27 155.5,414.2 156,414.14 156.5,414.1 157,414.06 157.5,414.08 158,414.1 158.5,414.13 159,414.18 159.5,414.23 160,414.18 160.5,414.08 161,413.86 161.5,413.35 162,412.76 162.5,412.46 163,412.35 163.5,412.25 164,411.98 164.5,411.71 165,411.29 165.5,410.66 166,410.02 166.5,409.91 167,409.92 167.5,409.82 168,409.25 168.5,408.69 169,408.2 169.5,407.77 170,407.33 170.5,407.06 171,406.8 171.5,406.49 172,406.12 172.5,405.76 173,405.64 173.5,405.59 174,405.39 174.5,404.62 175,403.84 175.5,403.44 176,403.3 176.5,403.24 177,403.14 177.5,403.26 178,403.57 178.5,403.94 179,404.31 179.5,404.38 180,404.35 180.5,404.4 181,404.85 181.5,405.29 182,405.61 182.5,405.84 183,406.07 183.5,406.36 184,406.65 184.5,406.76 185,406.63 185.5,406.49 186,406.91 186.5,407.46 187,407.88 187.5,407.85 188,407.82 188.5,407.92 189,408.12 189.5,408.31 190,408.26 190.5,408.22 191,408.2 191.5,408.23 192,408.26 192.5,408.33 193,408.41 193.5,408.51 194,408.66 194.5,408.82 195,408.92 195.5,408.99 196,409.06 196.5,409.06 197,409.05 197.5,409.12 198,409.3 198.5,409.47 199,409.56 199.5,409.62 200,409.67 200.5,409.65 201,409.64 201.5,409.54 202,409.39 202.5,409.23 203,409.58 203.5,409.92 204,410.09 204.5,409.99 205,409.88 205.5,410.02 206,410.22 206.5,410.38 207,410.41 207.5,410.44 208,410.43 208.5,410.39 209,410.36 209.5,410.29 210,410.21 210.5,410.22 211,410.33 211.5,410.45 212,410.46 212.5,410.45 213,410.42 213.5,410.34 214,410.26 214.5,410.38 215,410.62 215.5,410.87 216,410.85 216.5,410.83 217,410.91 217.5,411.14 218,411.37 218.5,411.16 219,410.83 219.5,410.64 220,411 220.5,411.37 221,411.58 221.5,411.68 222,411.78 222.5,411.69 223,411.59 223.5,411.54 224,411.54 224.5,411.54 225,411.68 225.5,411.85 226,412.02 226.5,412.11 227,412.21 227.5,412.27 228,412.3 228.5,412.33 229,412.22 229.5,412.1 230,412.07 230.5,412.14 231,412.22 231.5,412.26 232,412.3 232.5,412.36 233,412.46 233.5,412.56 234,412.71 234.5,412.9 235,413.09 235.5,412.9 236,412.71 236.5,412.69 237,412.92 237.5,413.16 238,413.17" fill="none" stroke="#fc5e6a" stroke-width="1.15" stroke-linejoin="round" stroke-linecap="round"/>
<polyline points="109.6,401.5 110.1,401.49 110.6,401.28 111.1,401.08 111.6,401.18 112.1,401.28 112.6,401.33 113.1,401.31 113.6,401.29 114.1,401.23 114.6,401.15 115.1,401.13 115.6,401.33 116.1,401.53 116.6,401.57 117.1,401.5 117.6,401.43 118.1,401.49 118.6,401.55 119.1,401.55 119.6,401.47 120.1,401.39 120.6,401.4 121.1,401.42 121.6,401.41 122.1,401.26 122.6,401.11 123.1,401.12 123.6,401.23 124.1,401.34 124.6,401.35 125.1,401.36 125.6,401.39 126.1,401.47 126.6,401.55 127.1,401.54 127.6,401.51 128.1,401.45 128.6,401.25 129.1,401.05 129.6,401.04 130.1,401.15 130.6,401.25 131.1,401.43 131.6,401.6 132.1,401.61 132.6,401.37 133.1,401.14 133.6,401.16 134.1,401.24 134.6,401.34 135.1,401.48 135.6,401.62 136.1,401.61 136.6,401.49 137.1,401.37 137.6,401.31 138.1,401.25 138.6,401.18 139.1,401.1 139.6,401.01 140.1,401.01 140.6,401.03 141.1,401.08 141.6,401.3 142.1,401.52 142.6,401.48 143.1,401.26 143.6,401.05 144.1,401.12 144.6,401.18 145.1,401.26 145.6,401.36 146.1,401.47 146.6,401.65 147.1,401.85 147.6,401.95 148.1,401.68 148.6,401.41 149.1,401.28 149.6,401.24 150.1,401.2 150.6,401.32 151.1,401.44 151.6,401.5 152.1,401.45 152.6,401.4 153.1,401.32 153.6,401.24 154.1,401.19 154.6,401.25 155.1,401.32 155.6,401.5 156.1,401.75 156.6,402 157.1,401.84 157.6,401.67 158.1,401.63 158.6,401.75 159.1,401.88 159.6,401.75 160.1,401.56 160.6,401.38 161.1,401.28 161.6,401.17 162.1,401.25 162.6,401.45 163.1,401.66 163.6,401.56 164.1,401.47 164.6,401.4 165.1,401.39 165.6,401.37 166.1,401.34 166.6,401.31 167.1,401.29 167.6,401.29 168.1,401.29 168.6,401.34 169.1,401.43 169.6,401.52 170.1,401.49 170.6,401.46 171.1,401.49 171.6,401.61 172.1,401.73 172.6,401.61 173.1,401.35 173.6,400.86 174.1,400.08 174.6,398.93 175.1,397.61 175.6,396.25 176.1,394.88 176.6,393.22 177.1,391.56 177.6,390.08 178.1,388.89 178.6,387.7 179.1,386.25 179.6,384.74 180.1,383.23 180.6,381.76 181.1,380.28 181.6,378.84 182.1,377.41 182.6,375.98 183.1,374.56 183.6,373.13 184.1,371.73 184.6,370.36 185.1,368.99 185.6,367.41 186.1,365.84 186.6,364.64 187.1,364.46 187.6,365.42 188.1,367.36 188.6,369.71 189.1,372.02 189.6,373.84 190.1,375.5 190.6,377.14 191.1,378.82 191.6,380.38 192.1,381.65 192.6,382.77 193.1,383.81 193.6,384.82 194.1,385.75 194.6,386.63 195.1,387.46 195.6,388.23 196.1,388.89 196.6,389.5 197.1,390.08 197.6,390.64 198.1,391.17 198.6,391.72 199.1,392.24 199.6,392.71 200.1,393 200.6,393.26 201.1,393.67 201.6,394.17 202.1,394.64 202.6,394.84 203.1,395.02 203.6,395.16 204.1,395.23 204.6,395.3 205.1,395.29 205.6,395.26 206.1,395.29 206.6,395.61 207.1,395.93 207.6,396.15 208.1,396.31 208.6,396.47 209.1,396.54 209.6,396.61 210.1,396.76 210.6,397.03 211.1,397.3 211.6,397.22 212.1,397.05 212.6,396.92 213.1,396.96 213.6,396.99 214.1,397.17 214.6,397.43 215.1,397.69 215.6,397.68 216.1,397.66 216.6,397.66 217.1,397.69 217.6,397.71 218.1,397.75 218.6,397.8 219.1,397.85 219.6,397.91 220.1,397.98 220.6,398.01 221.1,398.01 221.6,398.01 222.1,398.27 222.6,398.54 223.1,398.54 223.6,398.16 224.1,397.78 224.6,398 225.1,398.37 225.6,398.66 226.1,398.66 226.6,398.67 227.1,398.7 227.6,398.76 228.1,398.82 228.6,398.69 229.1,398.55 229.6,398.54 230.1,398.72 230.6,398.9 231.1,398.88 231.6,398.81 232.1,398.78 232.6,398.87 233.1,398.97 233.6,399.08 234.1,399.21 234.6,399.33 235.1,399.27 235.6,399.2 236.1,399.21 236.6,399.34 237.1,399.47 237.6,399.42 238.1,399.32" fill="none" stroke="#fc929a" stroke-width="1.15" stroke-linejoin="round" stroke-linecap="round"/>
<polyline points="250.8,464.89 251.3,464.85 251.8,464.74 252.3,464.63 252.8,464.76 253.3,464.9 253.8,464.93 254.3,464.81 254.8,464.68 255.3,464.59 255.8,464.52 256.3,464.47 256.8,464.56 257.3,464.65 257.8,464.79 258.3,464.97 258.8,465.15 259.3,465.06 259.8,464.98 260.3,464.9 260.8,464.81 261.3,464.73 261.8,464.81 262.3,464.94 262.8,465.04 263.3,465.02 263.8,465 264.3,464.96 264.8,464.9 265.3,464.83 265.8,464.66 266.3,464.3 266.8,463.76 267.3,463.13 267.8,462.42 268.3,461.61 268.8,460.78 269.3,459.94 269.8,459.1 270.3,458.27 270.8,457.45 271.3,456.65 271.8,455.84 272.3,454.86 272.8,453.87 273.3,453 273.8,452.32 274.3,451.63 274.8,450.71 275.3,449.73 275.8,448.78 276.3,447.99 276.8,447.35 277.3,447.16 277.8,447.62 278.3,448.61 278.8,449.7 279.3,450.8 279.8,451.81 280.3,452.75 280.8,453.59 281.3,454.37 281.8,455.08 282.3,455.66 282.8,455.97 283.3,456.23 283.8,456.81 284.3,457.61 284.8,458.36 285.3,458.47 285.8,458.55 286.3,458.75 286.8,459.17 287.3,459.55 287.8,459.62 288.3,459.6 288.8,459.56 289.3,459.55 289.8,459.52 290.3,459.76 290.8,460.16 291.3,460.56 291.8,460.55 292.3,460.53 292.8,460.56 293.3,460.67 293.8,460.77 294.3,460.7 294.8,460.58 295.3,460.51 295.8,460.65 296.3,460.79 296.8,460.92 297.3,461.06 297.8,461.19 298.3,461.09 298.8,460.98 299.3,460.97 299.8,461.12 300.3,461.27 300.8,461.25 301.3,461.19 301.8,461.15 302.3,461.19 302.8,461.23 303.3,461.22 303.8,461.17 304.3,461.11 304.8,461.5 305.3,461.89 305.8,462.07 306.3,461.94 306.8,461.81 307.3,461.8 307.8,461.82 308.3,461.78 308.8,461.53 309.3,461.28 309.8,461.27 310.3,461.42 310.8,461.57 311.3,461.79 311.8,462 312.3,462.05 312.8,461.85 313.3,461.65 313.8,461.66 314.3,461.73 314.8,461.8 315.3,461.92 315.8,462.04 316.3,461.95 316.8,461.72 317.3,461.5 317.8,461.6 318.3,461.7 318.8,461.81 319.3,461.95 319.8,462.09 320.3,462.1 320.8,462.08 321.3,462.09 321.8,462.21 322.3,462.34 322.8,462.21 323.3,461.91 323.8,461.62 324.3,461.91 324.8,462.2 325.3,462.26 325.8,461.96 326.3,461.67 326.8,461.77 327.3,461.97 327.8,462.12 328.3,462.06 328.8,461.99 329.3,461.99 329.8,462.04 330.3,462.08 330.8,462.12 331.3,462.17 331.8,462.18 332.3,462.14 332.8,462.09 333.3,462.05 333.8,462.02 334.3,462 334.8,462.07 335.3,462.14 335.8,462.11 336.3,462.02 336.8,461.92 337.3,462.02 337.8,462.12 338.3,462.17 338.8,462.16 339.3,462.14 339.8,462.24 340.3,462.37 340.8,462.45 341.3,462.33 341.8,462.2 342.3,462.25 342.8,462.4 343.3,462.55 343.8,462.33 344.3,462.1 344.8,461.99 345.3,462.05 345.8,462.12 346.3,462.24 346.8,462.37 347.3,462.47 347.8,462.42 348.3,462.37 348.8,462.42 349.3,462.54 349.8,462.66 350.3,462.62 350.8,462.58 351.3,462.5 351.8,462.35 352.3,462.2 352.8,462.27 353.3,462.38 353.8,462.47 354.3,462.41 354.8,462.36 355.3,462.39 355.8,462.48 356.3,462.58 356.8,462.46 357.3,462.34 357.8,462.35 358.3,462.56 358.8,462.77 359.3,462.79 359.8,462.76 360.3,462.71 360.8,462.55 361.3,462.39 361.8,462.39 362.3,462.49 362.8,462.59 363.3,462.58 363.8,462.57 364.3,462.57 364.8,462.61 365.3,462.65 365.8,462.56 366.3,462.45 366.8,462.35 367.3,462.31 367.8,462.26 368.3,462.33 368.8,462.47 369.3,462.6 369.8,462.65 370.3,462.7 370.8,462.7 371.3,462.62 371.8,462.55 372.3,462.46 372.8,462.37 373.3,462.37 373.8,462.76 374.3,463.14 374.8,463.16 375.3,462.95 375.8,462.73 376.3,462.54 376.8,462.35 377.3,462.27 377.8,462.35 378.3,462.43 378.8,462.61 379.3,462.81 379.8,462.95 380.3,462.85 380.8,462.75 381.3,462.71 381.8,462.73 382.3,462.74 382.8,462.73 383.3,462.72 383.8,462.72 384.3,462.73 384.8,462.75 385.3,462.8 385.8,462.88 386.3,462.96 386.8,463.09 387.3,463.22 387.8,463.28 388.3,463.31 388.8,463.33 389.3,463.11 389.8,462.88 390.3,462.78 390.8,462.86 391.3,462.94 391.8,463.1 392.3,463.29 392.8,463.45 393.3,463.54" fill="none" stroke="#7a3a8c" stroke-width="1.15" stroke-linejoin="round" stroke-linecap="round"/>
<polyline points="250.8,451.76 251.3,451.75 251.8,451.89 252.3,452.03 252.8,451.92 253.3,451.81 253.8,451.72 254.3,451.64 254.8,451.56 255.3,451.71 255.8,451.92 256.3,452.06 256.8,451.91 257.3,451.76 257.8,451.71 258.3,451.74 258.8,451.76 259.3,451.79 259.8,451.82 260.3,451.84 260.8,451.82 261.3,451.81 261.8,451.75 262.3,451.67 262.8,451.59 263.3,451.51 263.8,451.43 264.3,451.51 264.8,451.71 265.3,451.91 265.8,451.61 266.3,451.31 266.8,451.25 267.3,451.57 267.8,451.88 268.3,451.84 268.8,451.7 269.3,451.62 269.8,451.76 270.3,451.91 270.8,451.94 271.3,451.9 271.8,451.85 272.3,451.85 272.8,451.84 273.3,451.88 273.8,451.96 274.3,452.05 274.8,452.05 275.3,451.99 275.8,451.81 276.3,451.45 276.8,450.91 277.3,450.27 277.8,449.59 278.3,448.9 278.8,448.25 279.3,447.6 279.8,446.95 280.3,446.32 280.8,445.68 281.3,445.03 281.8,444.38 282.3,443.69 282.8,442.87 283.3,442.06 283.8,441.44 284.3,440.96 284.8,440.48 285.3,439.46 285.8,438.43 286.3,437.51 286.8,436.75 287.3,435.98 287.8,435.47 288.3,435.03 288.8,434.55 289.3,433.96 289.8,433.4 290.3,432.95 290.8,432.81 291.3,433.19 291.8,433.91 292.3,434.92 292.8,435.9 293.3,436.75 293.8,437.5 294.3,438.47 294.8,439.44 295.3,440.27 295.8,440.76 296.3,441.18 296.8,441.75 297.3,442.39 297.8,442.98 298.3,443.28 298.8,443.54 299.3,443.85 299.8,444.26 300.3,444.63 300.8,444.9 301.3,445.11 301.8,445.33 302.3,445.64 302.8,445.93 303.3,445.97 303.8,445.83 304.3,445.68 304.8,445.84 305.3,445.99 305.8,446.21 306.3,446.55 306.8,446.88 307.3,446.99 307.8,447.04 308.3,447.05 308.8,446.98 309.3,446.9 309.8,446.91 310.3,446.98 310.8,447.05 311.3,447.44 311.8,447.82 312.3,447.87 312.8,447.43 313.3,446.98 313.8,447.19 314.3,447.56 314.8,447.83 315.3,447.66 315.8,447.5 316.3,447.61 316.8,447.91 317.3,448.21 317.8,448.04 318.3,447.88 318.8,447.75 319.3,447.69 319.8,447.63 320.3,447.58 320.8,447.53 321.3,447.5 321.8,447.56 322.3,447.61 322.8,447.69 323.3,447.78 323.8,447.87 324.3,447.54 324.8,447.22 325.3,447.06 325.8,447.16 326.3,447.26 326.8,447.47 327.3,447.7 327.8,447.87 328.3,447.78 328.8,447.68 329.3,447.71 329.8,447.81 330.3,447.92 330.8,447.77 331.3,447.61 331.8,447.51 332.3,447.46 332.8,447.41 333.3,447.71 333.8,448.08 334.3,448.37 334.8,448.31 335.3,448.24 335.8,448.19 336.3,448.15 336.8,448.1 337.3,447.95 337.8,447.79 338.3,447.74 338.8,447.84 339.3,447.94 339.8,447.86 340.3,447.73 340.8,447.61 341.3,447.51 341.8,447.42 342.3,447.51 342.8,447.72 343.3,447.92 343.8,447.89 344.3,447.86 344.8,447.83 345.3,447.82 345.8,447.81 346.3,447.74 346.8,447.66 347.3,447.6 347.8,447.67 348.3,447.74 348.8,447.77 349.3,447.78 349.8,447.79 350.3,447.64 350.8,447.49 351.3,447.42 351.8,447.47 352.3,447.52 352.8,447.67 353.3,447.84 353.8,447.97 354.3,447.88 354.8,447.79 355.3,447.74 355.8,447.71 356.3,447.68 356.8,447.77 357.3,447.85 357.8,447.81 358.3,447.58 358.8,447.35 359.3,447.48 359.8,447.7 360.3,447.89 360.8,447.93 361.3,447.97 361.8,447.96 362.3,447.91 362.8,447.86 363.3,447.7 363.8,447.54 364.3,447.56 364.8,447.83 365.3,448.11 365.8,447.77 366.3,447.27 366.8,446.94 367.3,447.28 367.8,447.61 368.3,447.63 368.8,447.45 369.3,447.26 369.8,447.53 370.3,447.8 370.8,448 371.3,448.07 371.8,448.15 372.3,448.19 372.8,448.22 373.3,448.19 373.8,447.95 374.3,447.72 374.8,447.65 375.3,447.69 375.8,447.74 376.3,447.72 376.8,447.71 377.3,447.74 377.8,447.85 378.3,447.96 378.8,448.14 379.3,448.33 379.8,448.49 380.3,448.5 380.8,448.51 381.3,448.42 381.8,448.27 382.3,448.12 382.8,448.19 383.3,448.26 383.8,448.16 384.3,447.81 384.8,447.46 385.3,447.67 385.8,448.02 386.3,448.28 386.8,448.19 387.3,448.09 387.8,448.02 388.3,447.98 388.8,447.93 389.3,447.84 389.8,447.76 390.3,447.81 390.8,448.07 391.3,448.34 391.8,448.23 392.3,448.03 392.8,447.88 393.3,447.95" fill="none" stroke="#3838c0" stroke-width="1.15" stroke-linejoin="round" stroke-linecap="round"/>
<polyline points="250.8,439.52 251.3,439.42 251.8,439.38 252.3,439.34 252.8,439.56 253.3,439.79 253.8,439.8 254.3,439.5 254.8,439.2 255.3,439.37 255.8,439.66 256.3,439.87 256.8,439.76 257.3,439.65 257.8,439.56 258.3,439.49 258.8,439.42 259.3,439.48 259.8,439.54 260.3,439.54 260.8,439.44 261.3,439.35 261.8,439.5 262.3,439.7 262.8,439.85 263.3,439.79 263.8,439.72 264.3,439.68 264.8,439.67 265.3,439.66 265.8,439.57 266.3,439.48 266.8,439.41 267.3,439.36 267.8,439.32 268.3,439.45 268.8,439.62 269.3,439.72 269.8,439.52 270.3,439.32 270.8,439.29 271.3,439.37 271.8,439.45 272.3,439.45 272.8,439.44 273.3,439.51 273.8,439.66 274.3,439.82 274.8,439.79 275.3,439.72 275.8,439.66 276.3,439.66 276.8,439.66 277.3,439.69 277.8,439.75 278.3,439.8 278.8,439.8 279.3,439.8 279.8,439.72 280.3,439.52 280.8,439.31 281.3,439.31 281.8,439.35 282.3,439.39 282.8,439.46 283.3,439.52 283.8,439.57 284.3,439.61 284.8,439.65 285.3,439.64 285.8,439.6 286.3,439.49 286.8,439.27 287.3,438.85 287.8,438.04 288.3,437.11 288.8,436.22 289.3,435.57 289.8,434.92 290.3,434.24 290.8,433.53 291.3,432.83 291.8,432.36 292.3,431.88 292.8,431.18 293.3,430.14 293.8,429.1 294.3,428.29 294.8,427.53 295.3,426.8 295.8,426.15 296.3,425.5 296.8,424.68 297.3,423.76 297.8,422.84 298.3,422.29 298.8,421.74 299.3,421.15 299.8,420.48 300.3,419.81 300.8,419.26 301.3,418.73 301.8,418.1 302.3,417.11 302.8,416.33 303.3,416.39 303.8,417.46 304.3,419.22 304.8,421.12 305.3,422.93 305.8,424.54 306.3,425.93 306.8,427.14 307.3,428.21 307.8,429.15 308.3,429.98 308.8,430.77 309.3,431.47 309.8,432.08 310.3,432.62 310.8,433.11 311.3,433.57 311.8,433.99 312.3,434.36 312.8,434.69 313.3,434.98 313.8,435.03 314.3,435 314.8,434.96 315.3,434.95 315.8,434.92 316.3,435.1 316.8,435.4 317.3,435.69 317.8,435.6 318.3,435.5 318.8,435.48 319.3,435.59 319.8,435.7 320.3,435.75 320.8,435.79 321.3,435.84 321.8,435.95 322.3,436.05 322.8,436.06 323.3,436.01 323.8,435.96 324.3,436.01 324.8,436.05 325.3,436.05 325.8,435.98 326.3,435.92 326.8,435.95 327.3,436.01 327.8,436.05 328.3,436.05 328.8,436.04 329.3,436.01 329.8,435.96 330.3,435.91 330.8,436.2 331.3,436.48 331.8,436.51 332.3,436.15 332.8,435.79 333.3,435.86 333.8,436.04 334.3,436.22 334.8,436.44 335.3,436.66 335.8,436.68 336.3,436.58 336.8,436.47 337.3,436.38 337.8,436.28 338.3,436.21 338.8,436.17 339.3,436.13 339.8,436.17 340.3,436.23 340.8,436.32 341.3,436.55 341.8,436.78 342.3,436.73 342.8,436.49 343.3,436.24 343.8,436.27 344.3,436.3 344.8,436.37 345.3,436.51 345.8,436.65 346.3,436.6 346.8,436.5 347.3,436.47 347.8,436.7 348.3,436.93 348.8,436.98 349.3,436.91 349.8,436.84 350.3,436.83 350.8,436.82 351.3,436.8 351.8,436.74 352.3,436.69 352.8,436.62 353.3,436.54 353.8,436.52 354.3,436.67 354.8,436.82 355.3,436.91 355.8,436.95 356.3,436.99 356.8,436.97 357.3,436.94 357.8,437.04 358.3,437.32 358.8,437.6 359.3,437.49 359.8,437.27 360.3,437.07 360.8,436.91 361.3,436.76 361.8,436.93 362.3,437.31 362.8,437.7 363.3,437.42 363.8,437.13 364.3,437.05 364.8,437.26 365.3,437.48 365.8,437.45 366.3,437.36 366.8,437.27 367.3,437.22 367.8,437.16 368.3,437.07 368.8,436.96 369.3,436.85 369.8,437.01 370.3,437.17 370.8,437.29 371.3,437.35 371.8,437.41 372.3,437.33 372.8,437.22 373.3,437.13 373.8,437.16 374.3,437.18 374.8,437.25 375.3,437.35 375.8,437.45 376.3,437.5 376.8,437.55 377.3,437.59 377.8,437.62 378.3,437.65 378.8,437.69 379.3,437.74 379.8,437.73 380.3,437.48 380.8,437.23 381.3,437.28 381.8,437.52 382.3,437.76 382.8,437.8 383.3,437.85 383.8,437.89 384.3,437.93 384.8,437.97 385.3,437.94 385.8,437.88 386.3,437.85 386.8,437.9 387.3,437.96 387.8,437.99 388.3,438.02 388.8,438.05 389.3,438.11 389.8,438.18 390.3,438.19 390.8,438.13 391.3,438.07 391.8,437.83 392.3,437.54 392.8,437.42 393.3,437.93" fill="none" stroke="#2424b8" stroke-width="1.15" stroke-linejoin="round" stroke-linecap="round"/>
<polyline points="250.8,426.47 251.3,426.43 251.8,426.4 252.3,426.37 252.8,426.42 253.3,426.47 253.8,426.42 254.3,426.22 254.8,426.02 255.3,426.13 255.8,426.32 256.3,426.47 256.8,426.45 257.3,426.42 257.8,426.28 258.3,426.06 258.8,425.84 259.3,425.97 259.8,426.11 260.3,426.16 260.8,426.09 261.3,426.02 261.8,426.19 262.3,426.43 262.8,426.63 263.3,426.71 263.8,426.79 264.3,426.55 264.8,426.11 265.3,425.66 265.8,425.88 266.3,426.1 266.8,426.22 267.3,426.21 267.8,426.19 268.3,426.26 268.8,426.34 269.3,426.38 269.8,426.23 270.3,426.08 270.8,425.99 271.3,425.93 271.8,425.88 272.3,426.11 272.8,426.35 273.3,426.42 273.8,426.25 274.3,426.08 274.8,426.21 275.3,426.42 275.8,426.57 276.3,426.44 276.8,426.31 277.3,426.17 277.8,426 278.3,425.84 278.8,426.19 279.3,426.54 279.8,426.75 280.3,426.77 280.8,426.79 281.3,426.7 281.8,426.59 282.3,426.48 282.8,426.42 283.3,426.37 283.8,426.37 284.3,426.42 284.8,426.46 285.3,426.57 285.8,426.67 286.3,426.6 286.8,426.27 287.3,425.93 287.8,426.11 288.3,426.41 288.8,426.63 289.3,426.56 289.8,426.48 290.3,426.44 290.8,426.43 291.3,426.42 291.8,426.51 292.3,426.61 292.8,426.57 293.3,426.34 293.8,426.1 294.3,426.09 294.8,426.13 295.3,426.19 295.8,426.29 296.3,426.39 296.8,426.29 297.3,426.05 297.8,425.82 298.3,425.99 298.8,426.16 299.3,426.28 299.8,426.32 300.3,426.33 300.8,426.13 301.3,425.71 301.8,425.14 302.3,424.66 302.8,424.13 303.3,423.47 303.8,422.75 304.3,422.03 304.8,421.05 305.3,420.06 305.8,419.26 306.3,418.73 306.8,418.21 307.3,417.59 307.8,416.94 308.3,416.23 308.8,415.25 309.3,414.26 309.8,413.51 310.3,412.92 310.8,412.33 311.3,411.35 311.8,410.37 312.3,409.55 312.8,408.97 313.3,408.38 313.8,407.7 314.3,407 314.8,406.33 315.3,405.74 315.8,405.26 316.3,404.92 316.8,405.11 317.3,406.01 317.8,407.65 318.3,409.33 318.8,410.75 319.3,411.79 319.8,412.69 320.3,413.63 320.8,414.5 321.3,415.29 321.8,416.05 322.3,416.73 322.8,417.37 323.3,417.95 323.8,418.48 324.3,419.02 324.8,419.51 325.3,419.88 325.8,420.08 326.3,420.25 326.8,420.45 327.3,420.65 327.8,420.81 328.3,420.9 328.8,420.98 329.3,421.1 329.8,421.25 330.3,421.38 330.8,421.25 331.3,421.11 331.8,421.02 332.3,421 332.8,420.97 333.3,421.18 333.8,421.44 334.3,421.64 334.8,421.65 335.3,421.65 335.8,421.7 336.3,421.78 336.8,421.86 337.3,422.14 337.8,422.41 338.3,422.49 338.8,422.31 339.3,422.12 339.8,421.99 340.3,421.88 340.8,421.84 341.3,422.11 341.8,422.37 342.3,422.42 342.8,422.33 343.3,422.24 343.8,422.4 344.3,422.56 344.8,422.61 345.3,422.5 345.8,422.39 346.3,422.38 346.8,422.39 347.3,422.41 347.8,422.45 348.3,422.48 348.8,422.41 349.3,422.27 349.8,422.13 350.3,422.18 350.8,422.23 351.3,422.32 351.8,422.46 352.3,422.59 352.8,422.68 353.3,422.75 353.8,422.76 354.3,422.56 354.8,422.35 355.3,422.37 355.8,422.54 356.3,422.71 356.8,422.74 357.3,422.77 357.8,422.83 358.3,422.95 358.8,423.06 359.3,423.1 359.8,423.12 360.3,423.14 360.8,423.18 361.3,423.22 361.8,423.15 362.3,423 362.8,422.86 363.3,422.84 363.8,422.81 364.3,422.88 364.8,423.1 365.3,423.31 365.8,423.22 366.3,423.05 366.8,422.97 367.3,423.21 367.8,423.46 368.3,423.44 368.8,423.24 369.3,423.05 369.8,423.23 370.3,423.42 370.8,423.56 371.3,423.63 371.8,423.71 372.3,423.73 372.8,423.74 373.3,423.75 373.8,423.75 374.3,423.75 374.8,423.65 375.3,423.47 375.8,423.29 376.3,423.34 376.8,423.38 377.3,423.41 377.8,423.42 378.3,423.43 378.8,423.55 379.3,423.69 379.8,423.77 380.3,423.63 380.8,423.48 381.3,423.5 381.8,423.63 382.3,423.76 382.8,423.81 383.3,423.85 383.8,423.88 384.3,423.86 384.8,423.84 385.3,423.87 385.8,423.91 386.3,423.91 386.8,423.76 387.3,423.6 387.8,423.59 388.3,423.67 388.8,423.76 389.3,423.87 389.8,423.98 390.3,424.04 390.8,424.02 391.3,423.99 391.8,423.98 392.3,423.98 392.8,423.98 393.3,424" fill="none" stroke="#6e6ae6" stroke-width="1.15" stroke-linejoin="round" stroke-linecap="round"/>
<polyline points="252.4,414.18 252.9,414.28 253.4,414.31 253.9,414.35 254.4,414.29 254.9,414.23 255.4,414.12 255.9,413.96 256.4,413.8 256.9,413.72 257.4,413.66 257.9,413.62 258.4,413.64 258.9,413.67 259.4,413.75 259.9,413.86 260.4,413.97 260.9,414.03 261.4,414.1 261.9,414.14 262.4,414.15 262.9,414.16 263.4,414.2 263.9,414.23 264.4,414.27 264.9,414.28 265.4,414.29 265.9,414.21 266.4,414.07 266.9,413.93 267.4,413.97 267.9,414.02 268.4,414.07 268.9,414.12 269.4,414.18 269.9,414.27 270.4,414.37 270.9,414.43 271.4,414.27 271.9,414.12 272.4,414.19 272.9,414.41 273.4,414.62 273.9,414.52 274.4,414.42 274.9,414.33 275.4,414.28 275.9,414.22 276.4,414.17 276.9,414.12 277.4,414.09 277.9,414.1 278.4,414.11 278.9,414.1 279.4,414.08 279.9,414.05 280.4,414.17 280.9,414.29 281.4,414.43 281.9,414.6 282.4,414.78 282.9,414.65 283.4,414.46 283.9,414.29 284.4,414.24 284.9,414.18 285.4,414.22 285.9,414.33 286.4,414.43 286.9,414.41 287.4,414.38 287.9,414.37 288.4,414.39 288.9,414.41 289.4,414.47 289.9,414.55 290.4,414.59 290.9,414.5 291.4,414.41 291.9,414.36 292.4,414.34 292.9,414.32 293.4,414.22 293.9,414.13 294.4,414.05 294.9,413.99 295.4,413.94 295.9,413.97 296.4,414.03 296.9,414.07 297.4,414.05 297.9,414.02 298.4,414.13 298.9,414.32 299.4,414.52 299.9,414.28 300.4,414.04 300.9,413.88 301.4,413.85 301.9,413.82 302.4,413.97 302.9,414.18 303.4,414.31 303.9,414.16 304.4,414.01 304.9,413.96 305.4,413.98 305.9,414 306.4,414.26 306.9,414.53 307.4,414.61 307.9,414.39 308.4,414.17 308.9,414.08 309.4,414.03 309.9,413.96 310.4,413.83 310.9,413.69 311.4,413.61 311.9,413.55 312.4,413.5 312.9,413.86 313.4,414.22 313.9,414.35 314.4,414.15 314.9,413.95 315.4,414.06 315.9,414.24 316.4,414.35 316.9,414.15 317.4,413.79 317.9,413.25 318.4,412.47 318.9,411.52 319.4,410.6 319.9,409.66 320.4,408.75 320.9,407.91 321.4,407.06 321.9,406.07 322.4,405.04 322.9,404.01 323.4,402.96 323.9,401.91 324.4,400.88 324.9,399.86 325.4,398.84 325.9,397.66 326.4,396.48 326.9,395.33 327.4,394.21 327.9,393.1 328.4,392.36 328.9,392.01 329.4,392.32 329.9,393.39 330.4,395.04 330.9,396.67 331.4,398.08 331.9,399.33 332.4,400.63 332.9,401.79 333.4,402.76 333.9,403.51 334.4,404.16 334.9,404.83 335.4,405.46 335.9,406.07 336.4,406.84 336.9,407.56 337.4,407.85 337.9,407.85 338.4,407.8 338.9,408.05 339.4,408.28 339.9,408.57 340.4,408.97 340.9,409.35 341.4,409.62 341.9,409.85 342.4,409.97 342.9,409.69 343.4,409.41 343.9,409.42 344.4,409.61 344.9,409.79 345.4,409.81 345.9,409.83 346.4,409.96 346.9,410.26 347.4,410.56 347.9,410.53 348.4,410.42 348.9,410.33 349.4,410.34 349.9,410.35 350.4,410.49 350.9,410.72 351.4,410.94 351.9,410.69 352.4,410.43 352.9,410.39 353.4,410.66 353.9,410.93 354.4,410.97 354.9,410.95 355.4,410.94 355.9,410.96 356.4,410.97 356.9,411.09 357.4,411.26 357.9,411.44 358.4,411.34 358.9,411.23 359.4,411.21 359.9,411.3 360.4,411.39 360.9,411.42 361.4,411.44 361.9,411.44 362.4,411.34 362.9,411.25 363.4,411.34 363.9,411.55 364.4,411.76 364.9,411.74 365.4,411.72 365.9,411.69 366.4,411.62 366.9,411.56 367.4,411.51 367.9,411.47 368.4,411.46 368.9,411.58 369.4,411.7 369.9,411.83 370.4,411.96 370.9,412.09 371.4,412.13 371.9,412.17 372.4,412.17 372.9,412.09 373.4,412.01 373.9,412 374.4,412.01 374.9,412 375.4,411.93 375.9,411.85 376.4,411.85 376.9,411.88 377.4,411.92 377.9,412.03 378.4,412.15 378.9,412.29 379.4,412.47 379.9,412.65 380.4,412.59 380.9,412.47 381.4,412.37 381.9,412.35 382.4,412.34 382.9,412.41 383.4,412.54 383.9,412.67 384.4,412.89 384.9,413.1 385.4,413.16 385.9,412.99 386.4,412.82 386.9,412.81 387.4,412.84 387.9,412.82 388.4,412.65 388.9,412.48 389.4,412.43 389.9,412.44 390.4,412.46 390.9,412.52 391.4,412.57 391.9,412.67 392.4,412.86 392.9,413.05 393.4,412.98" fill="none" stroke="#38a0d4" stroke-width="1.15" stroke-linejoin="round" stroke-linecap="round"/>
<polyline points="264.8,400.75 265.3,400.81 265.8,401.04 266.3,401.28 266.8,401.07 267.3,400.86 267.8,400.74 268.3,400.73 268.8,400.72 269.3,400.91 269.8,401.14 270.3,401.27 270.8,401.02 271.3,400.76 271.8,400.63 272.3,400.57 272.8,400.51 273.3,400.7 273.8,400.88 274.3,400.95 274.8,400.85 275.3,400.74 275.8,400.6 276.3,400.46 276.8,400.41 277.3,400.74 277.8,401.07 278.3,400.97 278.8,400.57 279.3,400.18 279.8,400.49 280.3,400.81 280.8,400.95 281.3,400.84 281.8,400.73 282.3,400.81 282.8,400.93 283.3,401.01 283.8,400.93 284.3,400.86 284.8,400.85 285.3,400.88 285.8,400.91 286.3,401.05 286.8,401.18 287.3,401.21 287.8,401.07 288.3,400.93 288.8,400.64 289.3,400.3 289.8,400.12 290.3,400.53 290.8,400.94 291.3,400.94 291.8,400.68 292.3,400.42 292.8,400.74 293.3,401.07 293.8,401.19 294.3,401 294.8,400.81 295.3,400.67 295.8,400.54 296.3,400.49 296.8,400.76 297.3,401.03 297.8,401.08 298.3,401 298.8,400.91 299.3,400.78 299.8,400.66 300.3,400.62 300.8,400.7 301.3,400.79 301.8,400.86 302.3,400.93 302.8,401 303.3,401.08 303.8,401.17 304.3,401.16 304.8,401.08 305.3,401 305.8,401.12 306.3,401.23 306.8,401.23 307.3,401.03 307.8,400.83 308.3,400.63 308.8,400.43 309.3,400.28 309.8,400.37 310.3,400.47 310.8,400.52 311.3,400.55 311.8,400.58 312.3,400.72 312.8,400.87 313.3,400.96 313.8,400.96 314.3,400.97 314.8,400.92 315.3,400.86 315.8,400.8 316.3,400.75 316.8,400.69 317.3,400.64 317.8,400.59 318.3,400.54 318.8,400.65 319.3,400.77 319.8,400.83 320.3,400.81 320.8,400.8 321.3,400.9 321.8,401.04 322.3,401.09 322.8,400.82 323.3,400.54 323.8,400.45 324.3,400.49 324.8,400.52 325.3,400.52 325.8,400.53 326.3,400.56 326.8,400.64 327.3,400.72 327.8,400.73 328.3,400.72 328.8,400.66 329.3,400.38 329.8,399.92 330.3,399.55 330.8,399.22 331.3,398.82 331.8,397.79 332.3,396.75 332.8,395.83 333.3,395.07 333.8,394.32 334.3,393.49 334.8,392.64 335.3,391.81 335.8,391.06 336.3,390.3 336.8,389.48 337.3,388.62 337.8,387.75 338.3,386.9 338.8,386.04 339.3,385.34 339.8,384.87 340.3,384.4 340.8,383.44 341.3,382.38 341.8,381.52 342.3,381.29 342.8,381.75 343.3,382.93 343.8,384.45 344.3,385.97 344.8,387.13 345.3,388.13 345.8,389.12 346.3,390.2 346.8,391.17 347.3,391.93 347.8,392.59 348.3,393.16 348.8,393.61 349.3,394.01 349.8,394.24 350.3,394.35 350.8,394.42 351.3,394.94 351.8,395.43 352.3,395.75 352.8,395.82 353.3,395.88 353.8,396.03 354.3,396.19 354.8,396.33 355.3,396.39 355.8,396.45 356.3,396.44 356.8,396.4 357.3,396.35 357.8,396.48 358.3,396.6 358.8,396.68 359.3,396.7 359.8,396.71 360.3,396.74 360.8,396.77 361.3,396.81 361.8,396.91 362.3,397.01 362.8,397.03 363.3,396.99 363.8,396.96 364.3,397.04 364.8,397.11 365.3,397.25 365.8,397.49 366.3,397.72 366.8,397.77 367.3,397.77 367.8,397.74 368.3,397.59 368.8,397.45 369.3,397.34 369.8,397.26 370.3,397.19 370.8,397.46 371.3,397.73 371.8,397.88 372.3,397.83 372.8,397.79 373.3,397.93 373.8,398.11 374.3,398.22 374.8,398.05 375.3,397.88 375.8,397.8 376.3,397.76 376.8,397.73 377.3,397.82 377.8,397.91 378.3,397.89 378.8,397.72 379.3,397.56 379.8,397.76 380.3,398.05 380.8,398.3 381.3,398.37 381.8,398.44 382.3,398.38 382.8,398.23 383.3,398.09 383.8,398.11 384.3,398.13 384.8,398.15 385.3,398.16 385.8,398.17 386.3,398.25 386.8,398.35 387.3,398.41 387.8,398.34 388.3,398.26 388.8,398.39 389.3,398.66 389.8,398.92 390.3,398.74 390.8,398.56 391.3,398.52 391.8,398.71 392.3,398.9 392.8,398.96 393.3,398.99" fill="none" stroke="#64aee2" stroke-width="1.15" stroke-linejoin="round" stroke-linecap="round"/>
<line x1="88.9" y1="338" x2="404.8" y2="338" stroke="#000" stroke-width="3.4" stroke-linecap="butt"/>
<line x1="88.9" y1="470" x2="404.8" y2="470" stroke="#000" stroke-width="3.0" stroke-linecap="butt"/>
<line x1="403.2" y1="238.5" x2="403.2" y2="471.5" stroke="#000" stroke-width="3.0" stroke-linecap="butt"/>
<line x1="240.1" y1="338" x2="240.1" y2="351" stroke="#000" stroke-width="3.0" stroke-linecap="butt"/>
<line x1="204.9" y1="470" x2="204.9" y2="482.4" stroke="#000" stroke-width="3.0" stroke-linecap="butt"/>
<text x="46.6" y="261.2" font-size="12.3" font-family="Liberation Sans" fill="#000" font-weight="bold" textLength="43.2" lengthAdjust="spacingAndGlyphs">5.5 mm</text>
<text x="46.6" y="391.6" font-size="12.3" font-family="Liberation Sans" fill="#000" font-weight="bold" textLength="43.2" lengthAdjust="spacingAndGlyphs">5.5 mm</text>
<text x="46.6" y="336.2" font-size="12.3" font-family="Liberation Sans" fill="#000" font-weight="bold" textLength="43" lengthAdjust="spacingAndGlyphs">4.5 mm</text>
<text x="46.6" y="466.7" font-size="12.3" font-family="Liberation Sans" fill="#000" font-weight="bold" textLength="43" lengthAdjust="spacingAndGlyphs">4.5 mm</text>
<text x="143.1" y="358.1" font-size="12.2" font-family="Liberation Sans" fill="#000" font-weight="bold" textLength="31.5" lengthAdjust="spacingAndGlyphs">FAST</text>
<text x="310.7" y="358.1" font-size="12.2" font-family="Liberation Sans" fill="#000" font-weight="bold" textLength="37.3" lengthAdjust="spacingAndGlyphs">SLOW</text>
<text x="232" y="367.6" font-size="12.4" font-family="Liberation Sans" fill="#000" font-weight="bold" textLength="24" lengthAdjust="spacingAndGlyphs">LDS</text>
<text x="144.6" y="489.6" font-size="12.2" font-family="Liberation Sans" fill="#000" font-weight="bold" textLength="31.3" lengthAdjust="spacingAndGlyphs">FAST</text>
<text x="310.8" y="491.6" font-size="12.2" font-family="Liberation Sans" fill="#000" font-weight="bold" textLength="37.3" lengthAdjust="spacingAndGlyphs">SLOW</text>
<text x="229.2" y="498.1" font-size="12.2" font-family="Liberation Sans" fill="#000" font-weight="bold" textLength="26.6" lengthAdjust="spacingAndGlyphs">MDS</text>
<text x="415.9" y="357.97" font-size="10.2" font-family="Liberation Sans" fill="#000" font-weight="bold" text-anchor="middle" textLength="58.5" lengthAdjust="spacingAndGlyphs" transform="rotate(-90 415.9 354.4)">Depth (mm)</text>
<text x="0.5" y="358.9" font-size="10" font-family="Liberation Sans" fill="#000" font-weight="bold" textLength="19.4" lengthAdjust="spacingAndGlyphs" stroke="#000" stroke-width="0.35">2μM</text>
<line x1="26.1" y1="349.2" x2="26.1" y2="366.8" stroke="#333" stroke-width="1.4" stroke-linecap="butt"/>
<line x1="25.4" y1="366.1" x2="34" y2="366.1" stroke="#333" stroke-width="1.4" stroke-linecap="butt"/>
<text x="25.9" y="379.5" font-size="10" font-family="Liberation Sans" fill="#000" font-weight="bold" textLength="10" lengthAdjust="spacingAndGlyphs" stroke="#000" stroke-width="0.35">1s</text>
</svg>
</body></html>
